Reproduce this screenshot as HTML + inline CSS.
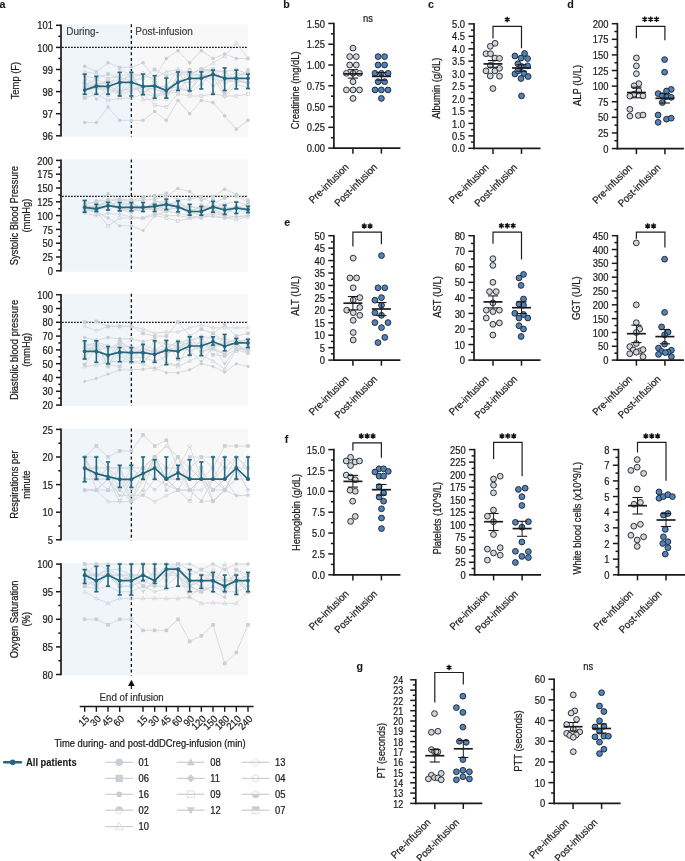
<!DOCTYPE html>
<html><head><meta charset="utf-8"><style>
html,body{margin:0;padding:0;background:#fff;}
svg{display:block;will-change:transform;}
text{font-family:"Liberation Sans", sans-serif;}
</style></head><body>
<svg width="685" height="861" viewBox="0 0 685 861" font-family="Liberation Sans, sans-serif">
<rect width="685" height="861" fill="#fff"/>
<rect x="62.0" y="24.30" width="69.36" height="112.50" fill="#f0f5fa"/>
<rect x="131.36" y="24.30" width="116.54" height="112.50" fill="#f8f8f8"/>
<line x1="62.00" y1="47.40" x2="247.90" y2="47.40" stroke="#1a1a1a" stroke-width="1.2" stroke-dasharray="1.8 1.2"/>
<line x1="131.36" y1="24.30" x2="131.36" y2="136.80" stroke="#111" stroke-width="1.3" stroke-dasharray="3 2.6"/>
<polyline points="84.7,122.5 96.4,122.5 108.0,107.1 119.7,120.3 131.4,120.3 143.0,120.3 154.7,111.5 166.3,120.3 178.0,100.4 189.7,113.7 201.3,100.4 213.0,102.7 224.7,115.9 236.3,129.2 248.0,120.3" fill="none" stroke="#cfd4d9" stroke-width="0.8"/>
<circle cx="84.70" cy="122.54" r="1.8" fill="#c9cfd5"/>
<circle cx="96.36" cy="122.54" r="1.8" fill="#c9cfd5"/>
<circle cx="108.03" cy="107.07" r="1.8" fill="#c9cfd5"/>
<circle cx="119.69" cy="120.33" r="1.8" fill="#c9cfd5"/>
<circle cx="131.36" cy="120.33" r="1.8" fill="#c9cfd5"/>
<circle cx="143.02" cy="120.33" r="1.8" fill="#c9cfd5"/>
<circle cx="154.68" cy="111.49" r="1.8" fill="#c9cfd5"/>
<circle cx="166.35" cy="120.33" r="1.8" fill="#c9cfd5"/>
<circle cx="178.01" cy="100.44" r="1.8" fill="#c9cfd5"/>
<circle cx="189.68" cy="113.70" r="1.8" fill="#c9cfd5"/>
<circle cx="201.34" cy="100.44" r="1.8" fill="#c9cfd5"/>
<circle cx="213.00" cy="102.65" r="1.8" fill="#c9cfd5"/>
<circle cx="224.67" cy="115.91" r="1.8" fill="#c9cfd5"/>
<circle cx="236.33" cy="129.17" r="1.8" fill="#c9cfd5"/>
<circle cx="248.00" cy="120.33" r="1.8" fill="#c9cfd5"/>
<polyline points="84.7,66.2 96.4,71.7 108.0,62.9 119.7,67.3 131.4,67.3 143.0,62.9 154.7,78.3 166.3,58.5 178.0,50.7 189.7,62.9 201.3,50.7 213.0,58.5 224.7,54.0 236.3,58.5 248.0,58.5" fill="none" stroke="#cfd4d9" stroke-width="0.8"/>
<circle cx="84.70" cy="66.18" r="1.8" fill="#c9cfd5"/>
<circle cx="96.36" cy="71.71" r="1.8" fill="#c9cfd5"/>
<circle cx="108.03" cy="62.87" r="1.8" fill="#c9cfd5"/>
<circle cx="119.69" cy="67.29" r="1.8" fill="#c9cfd5"/>
<circle cx="131.36" cy="67.29" r="1.8" fill="#c9cfd5"/>
<circle cx="143.02" cy="62.87" r="1.8" fill="#c9cfd5"/>
<circle cx="154.68" cy="78.34" r="1.8" fill="#c9cfd5"/>
<circle cx="166.35" cy="58.45" r="1.8" fill="#c9cfd5"/>
<circle cx="178.01" cy="50.72" r="1.8" fill="#c9cfd5"/>
<circle cx="189.68" cy="62.87" r="1.8" fill="#c9cfd5"/>
<circle cx="201.34" cy="50.72" r="1.8" fill="#c9cfd5"/>
<circle cx="213.00" cy="58.45" r="1.8" fill="#c9cfd5"/>
<circle cx="224.67" cy="54.03" r="1.8" fill="#c9cfd5"/>
<circle cx="236.33" cy="58.45" r="1.8" fill="#c9cfd5"/>
<circle cx="248.00" cy="58.45" r="1.8" fill="#c9cfd5"/>
<polyline points="84.7,71.7 96.4,73.9 108.0,78.3 119.7,76.1 131.4,73.9 143.0,76.1 154.7,78.3 166.3,71.7 178.0,69.5 189.7,73.9 201.3,69.5 213.0,62.9 224.7,56.2 236.3,43.0 248.0,58.5" fill="none" stroke="#cfd4d9" stroke-width="0.8"/>
<path d="M84.70 69.73L86.68 73.15L82.72 73.15Z" fill="none" stroke="#c9cfd5" stroke-width="0.6"/>
<path d="M96.36 71.94L98.34 75.36L94.38 75.36Z" fill="none" stroke="#c9cfd5" stroke-width="0.6"/>
<path d="M108.03 76.36L110.01 79.78L106.05 79.78Z" fill="none" stroke="#c9cfd5" stroke-width="0.6"/>
<path d="M119.69 74.15L121.67 77.57L117.71 77.57Z" fill="none" stroke="#c9cfd5" stroke-width="0.6"/>
<path d="M131.36 71.94L133.34 75.36L129.38 75.36Z" fill="none" stroke="#c9cfd5" stroke-width="0.6"/>
<path d="M143.02 74.15L145.00 77.57L141.04 77.57Z" fill="none" stroke="#c9cfd5" stroke-width="0.6"/>
<path d="M154.68 76.36L156.66 79.78L152.70 79.78Z" fill="none" stroke="#c9cfd5" stroke-width="0.6"/>
<path d="M166.35 69.73L168.33 73.15L164.37 73.15Z" fill="none" stroke="#c9cfd5" stroke-width="0.6"/>
<path d="M178.01 67.52L179.99 70.94L176.03 70.94Z" fill="none" stroke="#c9cfd5" stroke-width="0.6"/>
<path d="M189.68 71.94L191.66 75.36L187.70 75.36Z" fill="none" stroke="#c9cfd5" stroke-width="0.6"/>
<path d="M201.34 67.52L203.32 70.94L199.36 70.94Z" fill="none" stroke="#c9cfd5" stroke-width="0.6"/>
<path d="M213.00 60.89L214.98 64.31L211.02 64.31Z" fill="none" stroke="#c9cfd5" stroke-width="0.6"/>
<path d="M224.67 54.26L226.65 57.68L222.69 57.68Z" fill="none" stroke="#c9cfd5" stroke-width="0.6"/>
<path d="M236.33 41.00L238.31 44.42L234.35 44.42Z" fill="none" stroke="#c9cfd5" stroke-width="0.6"/>
<path d="M248.00 56.47L249.98 59.89L246.02 59.89Z" fill="none" stroke="#c9cfd5" stroke-width="0.6"/>
<polyline points="84.7,76.1 96.4,78.3 108.0,73.9 119.7,78.3 131.4,80.6 143.0,78.3 154.7,69.5 166.3,76.1 178.0,71.7 189.7,73.9 201.3,69.5 213.0,71.7 224.7,71.7 236.3,69.5 248.0,73.9" fill="none" stroke="#cfd4d9" stroke-width="0.8"/>
<rect x="82.90" y="74.33" width="3.60" height="3.60" fill="#c9cfd5"/>
<rect x="94.56" y="76.54" width="3.60" height="3.60" fill="#c9cfd5"/>
<rect x="106.23" y="72.12" width="3.60" height="3.60" fill="#c9cfd5"/>
<rect x="117.89" y="76.54" width="3.60" height="3.60" fill="#c9cfd5"/>
<rect x="129.56" y="78.75" width="3.60" height="3.60" fill="#c9cfd5"/>
<rect x="141.22" y="76.54" width="3.60" height="3.60" fill="#c9cfd5"/>
<rect x="152.88" y="67.70" width="3.60" height="3.60" fill="#c9cfd5"/>
<rect x="164.55" y="74.33" width="3.60" height="3.60" fill="#c9cfd5"/>
<rect x="176.21" y="69.91" width="3.60" height="3.60" fill="#c9cfd5"/>
<rect x="187.88" y="72.12" width="3.60" height="3.60" fill="#c9cfd5"/>
<rect x="199.54" y="67.70" width="3.60" height="3.60" fill="#c9cfd5"/>
<rect x="211.20" y="69.91" width="3.60" height="3.60" fill="#c9cfd5"/>
<rect x="222.87" y="69.91" width="3.60" height="3.60" fill="#c9cfd5"/>
<rect x="234.53" y="67.70" width="3.60" height="3.60" fill="#c9cfd5"/>
<rect x="246.20" y="72.12" width="3.60" height="3.60" fill="#c9cfd5"/>
<polyline points="84.7,98.2 96.4,93.8 108.0,100.4 119.7,98.2 131.4,98.2 143.0,93.8 154.7,104.9 166.3,107.1 178.0,93.8 189.7,96.0 201.3,96.0 213.0,93.8 224.7,96.0 236.3,96.0 248.0,93.8" fill="none" stroke="#cfd4d9" stroke-width="0.8"/>
<rect x="83.20" y="96.73" width="3.00" height="3.00" fill="none" stroke="#c9cfd5" stroke-width="0.6"/>
<rect x="94.86" y="92.31" width="3.00" height="3.00" fill="none" stroke="#c9cfd5" stroke-width="0.6"/>
<rect x="106.53" y="98.94" width="3.00" height="3.00" fill="none" stroke="#c9cfd5" stroke-width="0.6"/>
<rect x="118.19" y="96.73" width="3.00" height="3.00" fill="none" stroke="#c9cfd5" stroke-width="0.6"/>
<rect x="129.86" y="96.73" width="3.00" height="3.00" fill="none" stroke="#c9cfd5" stroke-width="0.6"/>
<rect x="141.52" y="92.31" width="3.00" height="3.00" fill="none" stroke="#c9cfd5" stroke-width="0.6"/>
<rect x="153.18" y="103.36" width="3.00" height="3.00" fill="none" stroke="#c9cfd5" stroke-width="0.6"/>
<rect x="164.85" y="105.57" width="3.00" height="3.00" fill="none" stroke="#c9cfd5" stroke-width="0.6"/>
<rect x="176.51" y="92.31" width="3.00" height="3.00" fill="none" stroke="#c9cfd5" stroke-width="0.6"/>
<rect x="188.18" y="94.52" width="3.00" height="3.00" fill="none" stroke="#c9cfd5" stroke-width="0.6"/>
<rect x="199.84" y="94.52" width="3.00" height="3.00" fill="none" stroke="#c9cfd5" stroke-width="0.6"/>
<rect x="211.50" y="92.31" width="3.00" height="3.00" fill="none" stroke="#c9cfd5" stroke-width="0.6"/>
<rect x="223.17" y="94.52" width="3.00" height="3.00" fill="none" stroke="#c9cfd5" stroke-width="0.6"/>
<rect x="234.83" y="94.52" width="3.00" height="3.00" fill="none" stroke="#c9cfd5" stroke-width="0.6"/>
<rect x="246.50" y="92.31" width="3.00" height="3.00" fill="none" stroke="#c9cfd5" stroke-width="0.6"/>
<polyline points="84.7,85.2 96.4,79.7 108.0,85.0 119.7,93.6 131.4,83.2 143.0,94.0 154.7,83.1 166.3,99.1 178.0,75.3 189.7,74.5 201.3,69.5 213.0,69.5 224.7,72.1 236.3,80.5 248.0,82.9" fill="none" stroke="#cfd4d9" stroke-width="0.8"/>
<rect x="83.20" y="83.66" width="3.00" height="3.00" fill="none" stroke="#c9cfd5" stroke-width="0.6"/>
<rect x="82.90" y="83.36" width="3.60" height="1.80" fill="#c9cfd5"/>
<rect x="94.86" y="78.21" width="3.00" height="3.00" fill="none" stroke="#c9cfd5" stroke-width="0.6"/>
<rect x="94.56" y="77.91" width="3.60" height="1.80" fill="#c9cfd5"/>
<rect x="106.53" y="83.53" width="3.00" height="3.00" fill="none" stroke="#c9cfd5" stroke-width="0.6"/>
<rect x="106.23" y="83.23" width="3.60" height="1.80" fill="#c9cfd5"/>
<rect x="118.19" y="92.12" width="3.00" height="3.00" fill="none" stroke="#c9cfd5" stroke-width="0.6"/>
<rect x="117.89" y="91.82" width="3.60" height="1.80" fill="#c9cfd5"/>
<rect x="129.86" y="81.70" width="3.00" height="3.00" fill="none" stroke="#c9cfd5" stroke-width="0.6"/>
<rect x="129.56" y="81.40" width="3.60" height="1.80" fill="#c9cfd5"/>
<rect x="141.52" y="92.52" width="3.00" height="3.00" fill="none" stroke="#c9cfd5" stroke-width="0.6"/>
<rect x="141.22" y="92.22" width="3.60" height="1.80" fill="#c9cfd5"/>
<rect x="153.18" y="81.57" width="3.00" height="3.00" fill="none" stroke="#c9cfd5" stroke-width="0.6"/>
<rect x="152.88" y="81.27" width="3.60" height="1.80" fill="#c9cfd5"/>
<rect x="164.85" y="97.55" width="3.00" height="3.00" fill="none" stroke="#c9cfd5" stroke-width="0.6"/>
<rect x="164.55" y="97.25" width="3.60" height="1.80" fill="#c9cfd5"/>
<rect x="176.51" y="73.77" width="3.00" height="3.00" fill="none" stroke="#c9cfd5" stroke-width="0.6"/>
<rect x="176.21" y="73.47" width="3.60" height="1.80" fill="#c9cfd5"/>
<rect x="188.18" y="72.96" width="3.00" height="3.00" fill="none" stroke="#c9cfd5" stroke-width="0.6"/>
<rect x="187.88" y="72.66" width="3.60" height="1.80" fill="#c9cfd5"/>
<rect x="199.84" y="68.00" width="3.00" height="3.00" fill="none" stroke="#c9cfd5" stroke-width="0.6"/>
<rect x="199.54" y="67.70" width="3.60" height="1.80" fill="#c9cfd5"/>
<rect x="211.50" y="68.00" width="3.00" height="3.00" fill="none" stroke="#c9cfd5" stroke-width="0.6"/>
<rect x="211.20" y="67.70" width="3.60" height="1.80" fill="#c9cfd5"/>
<rect x="223.17" y="70.61" width="3.00" height="3.00" fill="none" stroke="#c9cfd5" stroke-width="0.6"/>
<rect x="222.87" y="70.31" width="3.60" height="1.80" fill="#c9cfd5"/>
<rect x="234.83" y="78.99" width="3.00" height="3.00" fill="none" stroke="#c9cfd5" stroke-width="0.6"/>
<rect x="234.53" y="78.69" width="3.60" height="1.80" fill="#c9cfd5"/>
<rect x="246.50" y="81.39" width="3.00" height="3.00" fill="none" stroke="#c9cfd5" stroke-width="0.6"/>
<rect x="246.20" y="81.09" width="3.60" height="1.80" fill="#c9cfd5"/>
<polyline points="84.7,78.4 96.4,84.8 108.0,82.1 119.7,79.8 131.4,76.1 143.0,99.4 154.7,99.2 166.3,86.1 178.0,69.5 189.7,93.1 201.3,83.7 213.0,72.6 224.7,82.3 236.3,80.6 248.0,81.4" fill="none" stroke="#cfd4d9" stroke-width="0.8"/>
<path d="M84.70 76.46L86.68 79.88L82.72 79.88Z" fill="none" stroke="#c9cfd5" stroke-width="0.6"/>
<path d="M96.36 82.79L98.34 86.21L94.38 86.21Z" fill="none" stroke="#c9cfd5" stroke-width="0.6"/>
<path d="M108.03 80.15L110.01 83.57L106.05 83.57Z" fill="none" stroke="#c9cfd5" stroke-width="0.6"/>
<path d="M119.69 77.80L121.67 81.22L117.71 81.22Z" fill="none" stroke="#c9cfd5" stroke-width="0.6"/>
<path d="M131.36 74.10L133.34 77.52L129.38 77.52Z" fill="none" stroke="#c9cfd5" stroke-width="0.6"/>
<path d="M143.02 97.46L145.00 100.88L141.04 100.88Z" fill="none" stroke="#c9cfd5" stroke-width="0.6"/>
<path d="M154.68 97.24L156.66 100.66L152.70 100.66Z" fill="none" stroke="#c9cfd5" stroke-width="0.6"/>
<path d="M166.35 84.07L168.33 87.49L164.37 87.49Z" fill="none" stroke="#c9cfd5" stroke-width="0.6"/>
<path d="M178.01 67.52L179.99 70.94L176.03 70.94Z" fill="none" stroke="#c9cfd5" stroke-width="0.6"/>
<path d="M189.68 91.11L191.66 94.53L187.70 94.53Z" fill="none" stroke="#c9cfd5" stroke-width="0.6"/>
<path d="M201.34 81.71L203.32 85.13L199.36 85.13Z" fill="none" stroke="#c9cfd5" stroke-width="0.6"/>
<path d="M213.00 70.59L214.98 74.01L211.02 74.01Z" fill="none" stroke="#c9cfd5" stroke-width="0.6"/>
<path d="M224.67 80.28L226.65 83.70L222.69 83.70Z" fill="none" stroke="#c9cfd5" stroke-width="0.6"/>
<path d="M236.33 78.59L238.31 82.01L234.35 82.01Z" fill="none" stroke="#c9cfd5" stroke-width="0.6"/>
<path d="M248.00 79.38L249.98 82.80L246.02 82.80Z" fill="none" stroke="#c9cfd5" stroke-width="0.6"/>
<polyline points="84.7,82.7 96.4,85.8 108.0,85.1 119.7,91.6 131.4,77.4 143.0,73.2 154.7,81.3 166.3,93.3 178.0,92.2 189.7,75.0 201.3,75.2 213.0,76.5 224.7,96.4 236.3,84.7 248.0,87.3" fill="none" stroke="#cfd4d9" stroke-width="0.8"/>
<path d="M84.70 80.58L86.86 82.74L84.70 84.90L82.54 82.74Z" fill="none" stroke="#c9cfd5" stroke-width="0.6"/>
<path d="M96.36 83.66L98.52 85.82L96.36 87.98L94.20 85.82Z" fill="none" stroke="#c9cfd5" stroke-width="0.6"/>
<path d="M108.03 82.97L110.19 85.13L108.03 87.29L105.87 85.13Z" fill="none" stroke="#c9cfd5" stroke-width="0.6"/>
<path d="M119.69 89.48L121.85 91.64L119.69 93.80L117.53 91.64Z" fill="none" stroke="#c9cfd5" stroke-width="0.6"/>
<path d="M131.36 75.22L133.52 77.38L131.36 79.54L129.20 77.38Z" fill="none" stroke="#c9cfd5" stroke-width="0.6"/>
<path d="M143.02 71.04L145.18 73.20L143.02 75.36L140.86 73.20Z" fill="none" stroke="#c9cfd5" stroke-width="0.6"/>
<path d="M154.68 79.10L156.84 81.26L154.68 83.42L152.52 81.26Z" fill="none" stroke="#c9cfd5" stroke-width="0.6"/>
<path d="M166.35 91.10L168.51 93.26L166.35 95.42L164.19 93.26Z" fill="none" stroke="#c9cfd5" stroke-width="0.6"/>
<path d="M178.01 90.01L180.17 92.17L178.01 94.33L175.85 92.17Z" fill="none" stroke="#c9cfd5" stroke-width="0.6"/>
<path d="M189.68 72.86L191.84 75.02L189.68 77.18L187.52 75.02Z" fill="none" stroke="#c9cfd5" stroke-width="0.6"/>
<path d="M201.34 73.08L203.50 75.24L201.34 77.40L199.18 75.24Z" fill="none" stroke="#c9cfd5" stroke-width="0.6"/>
<path d="M213.00 74.39L215.16 76.55L213.00 78.71L210.84 76.55Z" fill="none" stroke="#c9cfd5" stroke-width="0.6"/>
<path d="M224.67 94.27L226.83 96.43L224.67 98.59L222.51 96.43Z" fill="none" stroke="#c9cfd5" stroke-width="0.6"/>
<path d="M236.33 82.56L238.49 84.72L236.33 86.88L234.17 84.72Z" fill="none" stroke="#c9cfd5" stroke-width="0.6"/>
<path d="M248.00 85.15L250.16 87.31L248.00 89.47L245.84 87.31Z" fill="none" stroke="#c9cfd5" stroke-width="0.6"/>
<polyline points="84.7,97.4 96.4,84.7 108.0,95.1 119.7,84.7 131.4,72.9 143.0,92.9 154.7,87.0 166.3,86.3 178.0,87.8 189.7,90.6 201.3,77.1 213.0,69.5 224.7,92.5 236.3,81.6 248.0,82.9" fill="none" stroke="#cfd4d9" stroke-width="0.8"/>
<rect x="82.90" y="95.59" width="3.60" height="3.60" fill="#c9cfd5"/>
<rect x="94.56" y="82.92" width="3.60" height="3.60" fill="#c9cfd5"/>
<rect x="106.23" y="93.29" width="3.60" height="3.60" fill="#c9cfd5"/>
<rect x="117.89" y="82.93" width="3.60" height="3.60" fill="#c9cfd5"/>
<rect x="129.56" y="71.08" width="3.60" height="3.60" fill="#c9cfd5"/>
<rect x="141.22" y="91.08" width="3.60" height="3.60" fill="#c9cfd5"/>
<rect x="152.88" y="85.23" width="3.60" height="3.60" fill="#c9cfd5"/>
<rect x="164.55" y="84.48" width="3.60" height="3.60" fill="#c9cfd5"/>
<rect x="176.21" y="86.01" width="3.60" height="3.60" fill="#c9cfd5"/>
<rect x="187.88" y="88.82" width="3.60" height="3.60" fill="#c9cfd5"/>
<rect x="199.54" y="75.27" width="3.60" height="3.60" fill="#c9cfd5"/>
<rect x="211.20" y="67.70" width="3.60" height="3.60" fill="#c9cfd5"/>
<rect x="222.87" y="90.66" width="3.60" height="3.60" fill="#c9cfd5"/>
<rect x="234.53" y="79.77" width="3.60" height="3.60" fill="#c9cfd5"/>
<rect x="246.20" y="81.07" width="3.60" height="3.60" fill="#c9cfd5"/>
<polyline points="84.7,80.9 96.4,99.2 108.0,89.3 119.7,94.5 131.4,90.8 143.0,87.0 154.7,89.4 166.3,92.5 178.0,88.8 189.7,91.3 201.3,72.1 213.0,69.5 224.7,79.3 236.3,81.9 248.0,69.5" fill="none" stroke="#cfd4d9" stroke-width="0.8"/>
<path d="M84.70 78.90L86.68 80.88L84.70 82.86L82.72 80.88Z" fill="#c9cfd5"/>
<path d="M96.36 97.18L98.34 99.16L96.36 101.14L94.38 99.16Z" fill="#c9cfd5"/>
<path d="M108.03 87.27L110.01 89.25L108.03 91.23L106.05 89.25Z" fill="#c9cfd5"/>
<path d="M119.69 92.48L121.67 94.46L119.69 96.44L117.71 94.46Z" fill="#c9cfd5"/>
<path d="M131.36 88.81L133.34 90.79L131.36 92.77L129.38 90.79Z" fill="#c9cfd5"/>
<path d="M143.02 85.04L145.00 87.02L143.02 89.00L141.04 87.02Z" fill="#c9cfd5"/>
<path d="M154.68 87.45L156.66 89.43L154.68 91.41L152.70 89.43Z" fill="#c9cfd5"/>
<path d="M166.35 90.56L168.33 92.54L166.35 94.52L164.37 92.54Z" fill="#c9cfd5"/>
<path d="M178.01 86.84L179.99 88.82L178.01 90.80L176.03 88.82Z" fill="#c9cfd5"/>
<path d="M189.68 89.32L191.66 91.30L189.68 93.28L187.70 91.30Z" fill="#c9cfd5"/>
<path d="M201.34 70.12L203.32 72.10L201.34 74.08L199.36 72.10Z" fill="#c9cfd5"/>
<path d="M213.00 67.52L214.98 69.50L213.00 71.48L211.02 69.50Z" fill="#c9cfd5"/>
<path d="M224.67 77.37L226.65 79.35L224.67 81.33L222.69 79.35Z" fill="#c9cfd5"/>
<path d="M236.33 79.92L238.31 81.90L236.33 83.88L234.35 81.90Z" fill="#c9cfd5"/>
<path d="M248.00 67.52L249.98 69.50L248.00 71.48L246.02 69.50Z" fill="#c9cfd5"/>
<polyline points="84.7,87.0 96.4,84.9 108.0,80.4 119.7,90.0 131.4,89.6 143.0,86.4 154.7,95.3 166.3,91.1 178.0,81.3 189.7,74.7 201.3,75.2 213.0,85.9 224.7,80.2 236.3,76.5 248.0,71.3" fill="none" stroke="#cfd4d9" stroke-width="0.8"/>
<circle cx="84.70" cy="86.98" r="1.50" fill="none" stroke="#c9cfd5" stroke-width="0.6"/>
<path d="M82.90 86.98A1.8 1.8 0 0 0 86.50 86.98Z" fill="#c9cfd5"/>
<circle cx="96.36" cy="84.87" r="1.50" fill="none" stroke="#c9cfd5" stroke-width="0.6"/>
<path d="M94.56 84.87A1.8 1.8 0 0 0 98.16 84.87Z" fill="#c9cfd5"/>
<circle cx="108.03" cy="80.35" r="1.50" fill="none" stroke="#c9cfd5" stroke-width="0.6"/>
<path d="M106.23 80.35A1.8 1.8 0 0 0 109.83 80.35Z" fill="#c9cfd5"/>
<circle cx="119.69" cy="89.98" r="1.50" fill="none" stroke="#c9cfd5" stroke-width="0.6"/>
<path d="M117.89 89.98A1.8 1.8 0 0 0 121.49 89.98Z" fill="#c9cfd5"/>
<circle cx="131.36" cy="89.62" r="1.50" fill="none" stroke="#c9cfd5" stroke-width="0.6"/>
<path d="M129.56 89.62A1.8 1.8 0 0 0 133.16 89.62Z" fill="#c9cfd5"/>
<circle cx="143.02" cy="86.37" r="1.50" fill="none" stroke="#c9cfd5" stroke-width="0.6"/>
<path d="M141.22 86.37A1.8 1.8 0 0 0 144.82 86.37Z" fill="#c9cfd5"/>
<circle cx="154.68" cy="95.31" r="1.50" fill="none" stroke="#c9cfd5" stroke-width="0.6"/>
<path d="M152.88 95.31A1.8 1.8 0 0 0 156.48 95.31Z" fill="#c9cfd5"/>
<circle cx="166.35" cy="91.08" r="1.50" fill="none" stroke="#c9cfd5" stroke-width="0.6"/>
<path d="M164.55 91.08A1.8 1.8 0 0 0 168.15 91.08Z" fill="#c9cfd5"/>
<circle cx="178.01" cy="81.32" r="1.50" fill="none" stroke="#c9cfd5" stroke-width="0.6"/>
<path d="M176.21 81.32A1.8 1.8 0 0 0 179.81 81.32Z" fill="#c9cfd5"/>
<circle cx="189.68" cy="74.74" r="1.50" fill="none" stroke="#c9cfd5" stroke-width="0.6"/>
<path d="M187.88 74.74A1.8 1.8 0 0 0 191.48 74.74Z" fill="#c9cfd5"/>
<circle cx="201.34" cy="75.21" r="1.50" fill="none" stroke="#c9cfd5" stroke-width="0.6"/>
<path d="M199.54 75.21A1.8 1.8 0 0 0 203.14 75.21Z" fill="#c9cfd5"/>
<circle cx="213.00" cy="85.85" r="1.50" fill="none" stroke="#c9cfd5" stroke-width="0.6"/>
<path d="M211.20 85.85A1.8 1.8 0 0 0 214.80 85.85Z" fill="#c9cfd5"/>
<circle cx="224.67" cy="80.18" r="1.50" fill="none" stroke="#c9cfd5" stroke-width="0.6"/>
<path d="M222.87 80.18A1.8 1.8 0 0 0 226.47 80.18Z" fill="#c9cfd5"/>
<circle cx="236.33" cy="76.50" r="1.50" fill="none" stroke="#c9cfd5" stroke-width="0.6"/>
<path d="M234.53 76.50A1.8 1.8 0 0 0 238.13 76.50Z" fill="#c9cfd5"/>
<circle cx="248.00" cy="71.33" r="1.50" fill="none" stroke="#c9cfd5" stroke-width="0.6"/>
<path d="M246.20 71.33A1.8 1.8 0 0 0 249.80 71.33Z" fill="#c9cfd5"/>
<polyline points="84.7,83.3 96.4,88.9 108.0,88.8 119.7,92.2 131.4,86.8 143.0,93.3 154.7,96.7 166.3,93.7 178.0,75.4 189.7,69.5 201.3,76.8 213.0,76.0 224.7,76.6 236.3,73.1 248.0,75.0" fill="none" stroke="#cfd4d9" stroke-width="0.8"/>
<circle cx="84.70" cy="83.26" r="1.50" fill="none" stroke="#c9cfd5" stroke-width="0.6"/>
<path d="M82.90 83.26A1.8 1.8 0 0 1 86.50 83.26Z" fill="#c9cfd5"/>
<circle cx="96.36" cy="88.95" r="1.50" fill="none" stroke="#c9cfd5" stroke-width="0.6"/>
<path d="M94.56 88.95A1.8 1.8 0 0 1 98.16 88.95Z" fill="#c9cfd5"/>
<circle cx="108.03" cy="88.84" r="1.50" fill="none" stroke="#c9cfd5" stroke-width="0.6"/>
<path d="M106.23 88.84A1.8 1.8 0 0 1 109.83 88.84Z" fill="#c9cfd5"/>
<circle cx="119.69" cy="92.17" r="1.50" fill="none" stroke="#c9cfd5" stroke-width="0.6"/>
<path d="M117.89 92.17A1.8 1.8 0 0 1 121.49 92.17Z" fill="#c9cfd5"/>
<circle cx="131.36" cy="86.78" r="1.50" fill="none" stroke="#c9cfd5" stroke-width="0.6"/>
<path d="M129.56 86.78A1.8 1.8 0 0 1 133.16 86.78Z" fill="#c9cfd5"/>
<circle cx="143.02" cy="93.30" r="1.50" fill="none" stroke="#c9cfd5" stroke-width="0.6"/>
<path d="M141.22 93.30A1.8 1.8 0 0 1 144.82 93.30Z" fill="#c9cfd5"/>
<circle cx="154.68" cy="96.73" r="1.50" fill="none" stroke="#c9cfd5" stroke-width="0.6"/>
<path d="M152.88 96.73A1.8 1.8 0 0 1 156.48 96.73Z" fill="#c9cfd5"/>
<circle cx="166.35" cy="93.66" r="1.50" fill="none" stroke="#c9cfd5" stroke-width="0.6"/>
<path d="M164.55 93.66A1.8 1.8 0 0 1 168.15 93.66Z" fill="#c9cfd5"/>
<circle cx="178.01" cy="75.40" r="1.50" fill="none" stroke="#c9cfd5" stroke-width="0.6"/>
<path d="M176.21 75.40A1.8 1.8 0 0 1 179.81 75.40Z" fill="#c9cfd5"/>
<circle cx="189.68" cy="69.50" r="1.50" fill="none" stroke="#c9cfd5" stroke-width="0.6"/>
<path d="M187.88 69.50A1.8 1.8 0 0 1 191.48 69.50Z" fill="#c9cfd5"/>
<circle cx="201.34" cy="76.76" r="1.50" fill="none" stroke="#c9cfd5" stroke-width="0.6"/>
<path d="M199.54 76.76A1.8 1.8 0 0 1 203.14 76.76Z" fill="#c9cfd5"/>
<circle cx="213.00" cy="75.99" r="1.50" fill="none" stroke="#c9cfd5" stroke-width="0.6"/>
<path d="M211.20 75.99A1.8 1.8 0 0 1 214.80 75.99Z" fill="#c9cfd5"/>
<circle cx="224.67" cy="76.57" r="1.50" fill="none" stroke="#c9cfd5" stroke-width="0.6"/>
<path d="M222.87 76.57A1.8 1.8 0 0 1 226.47 76.57Z" fill="#c9cfd5"/>
<circle cx="236.33" cy="73.11" r="1.50" fill="none" stroke="#c9cfd5" stroke-width="0.6"/>
<path d="M234.53 73.11A1.8 1.8 0 0 1 238.13 73.11Z" fill="#c9cfd5"/>
<circle cx="248.00" cy="75.02" r="1.50" fill="none" stroke="#c9cfd5" stroke-width="0.6"/>
<path d="M246.20 75.02A1.8 1.8 0 0 1 249.80 75.02Z" fill="#c9cfd5"/>
<polyline points="84.7,87.8 96.4,88.4 108.0,89.4 119.7,69.5 131.4,75.1 143.0,93.7 154.7,80.6 166.3,97.1 178.0,81.2 189.7,82.9 201.3,77.0 213.0,79.2 224.7,81.0 236.3,75.3 248.0,74.4" fill="none" stroke="#cfd4d9" stroke-width="0.8"/>
<path d="M84.70 89.80L86.68 86.38L82.72 86.38Z" fill="#c9cfd5"/>
<path d="M96.36 90.41L98.34 86.99L94.38 86.99Z" fill="#c9cfd5"/>
<path d="M108.03 91.40L110.01 87.98L106.05 87.98Z" fill="#c9cfd5"/>
<path d="M119.69 71.48L121.67 68.06L117.71 68.06Z" fill="#c9cfd5"/>
<path d="M131.36 77.12L133.34 73.70L129.38 73.70Z" fill="#c9cfd5"/>
<path d="M143.02 95.70L145.00 92.28L141.04 92.28Z" fill="#c9cfd5"/>
<path d="M154.68 82.58L156.66 79.16L152.70 79.16Z" fill="#c9cfd5"/>
<path d="M166.35 99.08L168.33 95.66L164.37 95.66Z" fill="#c9cfd5"/>
<path d="M178.01 83.21L179.99 79.79L176.03 79.79Z" fill="#c9cfd5"/>
<path d="M189.68 84.92L191.66 81.50L187.70 81.50Z" fill="#c9cfd5"/>
<path d="M201.34 78.96L203.32 75.54L199.36 75.54Z" fill="#c9cfd5"/>
<path d="M213.00 81.21L214.98 77.79L211.02 77.79Z" fill="#c9cfd5"/>
<path d="M224.67 82.98L226.65 79.56L222.69 79.56Z" fill="#c9cfd5"/>
<path d="M236.33 77.27L238.31 73.85L234.35 73.85Z" fill="#c9cfd5"/>
<path d="M248.00 76.37L249.98 72.95L246.02 72.95Z" fill="#c9cfd5"/>
<line x1="84.70" y1="74.14" x2="84.70" y2="94.25" stroke="#22677f" stroke-width="1.6"/>
<line x1="82.60" y1="74.14" x2="86.80" y2="74.14" stroke="#22677f" stroke-width="1.6"/>
<line x1="82.60" y1="94.25" x2="86.80" y2="94.25" stroke="#22677f" stroke-width="1.6"/>
<line x1="96.36" y1="76.35" x2="96.36" y2="94.25" stroke="#22677f" stroke-width="1.6"/>
<line x1="94.26" y1="76.35" x2="98.46" y2="76.35" stroke="#22677f" stroke-width="1.6"/>
<line x1="94.26" y1="94.25" x2="98.46" y2="94.25" stroke="#22677f" stroke-width="1.6"/>
<line x1="108.03" y1="82.32" x2="108.03" y2="94.25" stroke="#22677f" stroke-width="1.6"/>
<line x1="105.93" y1="82.32" x2="110.13" y2="82.32" stroke="#22677f" stroke-width="1.6"/>
<line x1="105.93" y1="94.25" x2="110.13" y2="94.25" stroke="#22677f" stroke-width="1.6"/>
<line x1="119.69" y1="72.37" x2="119.69" y2="96.02" stroke="#22677f" stroke-width="1.6"/>
<line x1="117.59" y1="72.37" x2="121.79" y2="72.37" stroke="#22677f" stroke-width="1.6"/>
<line x1="117.59" y1="96.02" x2="121.79" y2="96.02" stroke="#22677f" stroke-width="1.6"/>
<line x1="131.36" y1="72.37" x2="131.36" y2="96.02" stroke="#22677f" stroke-width="1.6"/>
<line x1="129.26" y1="72.37" x2="133.46" y2="72.37" stroke="#22677f" stroke-width="1.6"/>
<line x1="129.26" y1="96.02" x2="133.46" y2="96.02" stroke="#22677f" stroke-width="1.6"/>
<line x1="143.02" y1="74.14" x2="143.02" y2="94.69" stroke="#22677f" stroke-width="1.6"/>
<line x1="140.92" y1="74.14" x2="145.12" y2="74.14" stroke="#22677f" stroke-width="1.6"/>
<line x1="140.92" y1="94.69" x2="145.12" y2="94.69" stroke="#22677f" stroke-width="1.6"/>
<line x1="154.68" y1="75.69" x2="154.68" y2="98.23" stroke="#22677f" stroke-width="1.6"/>
<line x1="152.58" y1="75.69" x2="156.78" y2="75.69" stroke="#22677f" stroke-width="1.6"/>
<line x1="152.58" y1="98.23" x2="156.78" y2="98.23" stroke="#22677f" stroke-width="1.6"/>
<line x1="166.35" y1="78.12" x2="166.35" y2="98.23" stroke="#22677f" stroke-width="1.6"/>
<line x1="164.25" y1="78.12" x2="168.45" y2="78.12" stroke="#22677f" stroke-width="1.6"/>
<line x1="164.25" y1="98.23" x2="168.45" y2="98.23" stroke="#22677f" stroke-width="1.6"/>
<line x1="178.01" y1="71.93" x2="178.01" y2="90.50" stroke="#22677f" stroke-width="1.6"/>
<line x1="175.91" y1="71.93" x2="180.11" y2="71.93" stroke="#22677f" stroke-width="1.6"/>
<line x1="175.91" y1="90.50" x2="180.11" y2="90.50" stroke="#22677f" stroke-width="1.6"/>
<line x1="189.68" y1="71.93" x2="189.68" y2="90.94" stroke="#22677f" stroke-width="1.6"/>
<line x1="187.58" y1="71.93" x2="191.78" y2="71.93" stroke="#22677f" stroke-width="1.6"/>
<line x1="187.58" y1="90.94" x2="191.78" y2="90.94" stroke="#22677f" stroke-width="1.6"/>
<line x1="201.34" y1="71.93" x2="201.34" y2="88.95" stroke="#22677f" stroke-width="1.6"/>
<line x1="199.24" y1="71.93" x2="203.44" y2="71.93" stroke="#22677f" stroke-width="1.6"/>
<line x1="199.24" y1="88.95" x2="203.44" y2="88.95" stroke="#22677f" stroke-width="1.6"/>
<line x1="213.00" y1="70.16" x2="213.00" y2="94.25" stroke="#22677f" stroke-width="1.6"/>
<line x1="210.90" y1="70.16" x2="215.10" y2="70.16" stroke="#22677f" stroke-width="1.6"/>
<line x1="210.90" y1="94.25" x2="215.10" y2="94.25" stroke="#22677f" stroke-width="1.6"/>
<line x1="224.67" y1="67.95" x2="224.67" y2="90.50" stroke="#22677f" stroke-width="1.6"/>
<line x1="222.57" y1="67.95" x2="226.77" y2="67.95" stroke="#22677f" stroke-width="1.6"/>
<line x1="222.57" y1="90.50" x2="226.77" y2="90.50" stroke="#22677f" stroke-width="1.6"/>
<line x1="236.33" y1="70.16" x2="236.33" y2="88.95" stroke="#22677f" stroke-width="1.6"/>
<line x1="234.23" y1="70.16" x2="238.43" y2="70.16" stroke="#22677f" stroke-width="1.6"/>
<line x1="234.23" y1="88.95" x2="238.43" y2="88.95" stroke="#22677f" stroke-width="1.6"/>
<line x1="248.00" y1="74.14" x2="248.00" y2="88.51" stroke="#22677f" stroke-width="1.6"/>
<line x1="245.90" y1="74.14" x2="250.10" y2="74.14" stroke="#22677f" stroke-width="1.6"/>
<line x1="245.90" y1="88.51" x2="250.10" y2="88.51" stroke="#22677f" stroke-width="1.6"/>
<polyline points="84.7,90.1 96.4,86.1 108.0,86.5 119.7,82.3 131.4,82.3 143.0,86.3 154.7,85.9 166.3,90.5 178.0,82.3 189.7,78.3 201.3,78.3 213.0,74.4 224.7,78.3 236.3,78.3 248.0,78.3" fill="none" stroke="#22677f" stroke-width="1.7" stroke-linejoin="round"/>
<circle cx="84.70" cy="90.05" r="1.9" fill="#22677f"/>
<circle cx="96.36" cy="86.08" r="1.9" fill="#22677f"/>
<circle cx="108.03" cy="86.52" r="1.9" fill="#22677f"/>
<circle cx="119.69" cy="82.32" r="1.9" fill="#22677f"/>
<circle cx="131.36" cy="82.32" r="1.9" fill="#22677f"/>
<circle cx="143.02" cy="86.30" r="1.9" fill="#22677f"/>
<circle cx="154.68" cy="85.85" r="1.9" fill="#22677f"/>
<circle cx="166.35" cy="90.50" r="1.9" fill="#22677f"/>
<circle cx="178.01" cy="82.32" r="1.9" fill="#22677f"/>
<circle cx="189.68" cy="78.34" r="1.9" fill="#22677f"/>
<circle cx="201.34" cy="78.34" r="1.9" fill="#22677f"/>
<circle cx="213.00" cy="74.36" r="1.9" fill="#22677f"/>
<circle cx="224.67" cy="78.34" r="1.9" fill="#22677f"/>
<circle cx="236.33" cy="78.34" r="1.9" fill="#22677f"/>
<circle cx="248.00" cy="78.34" r="1.9" fill="#22677f"/>
<line x1="61.00" y1="24.50" x2="61.00" y2="136.60" stroke="#1a1a1a" stroke-width="1.7"/>
<line x1="56.00" y1="135.80" x2="61.00" y2="135.80" stroke="#1a1a1a" stroke-width="1.5"/>
<text font-size="10.1" text-anchor="end" fill="#1a1a1a" stroke="#1a1a1a" stroke-width="0.22" transform="translate(52.90 139.90) scale(0.93 1)">96</text>
<line x1="58.30" y1="124.75" x2="61.00" y2="124.75" stroke="#1a1a1a" stroke-width="1.5"/>
<line x1="56.00" y1="113.70" x2="61.00" y2="113.70" stroke="#1a1a1a" stroke-width="1.5"/>
<text font-size="10.1" text-anchor="end" fill="#1a1a1a" stroke="#1a1a1a" stroke-width="0.22" transform="translate(52.90 117.80) scale(0.93 1)">97</text>
<line x1="58.30" y1="102.65" x2="61.00" y2="102.65" stroke="#1a1a1a" stroke-width="1.5"/>
<line x1="56.00" y1="91.60" x2="61.00" y2="91.60" stroke="#1a1a1a" stroke-width="1.5"/>
<text font-size="10.1" text-anchor="end" fill="#1a1a1a" stroke="#1a1a1a" stroke-width="0.22" transform="translate(52.90 95.70) scale(0.93 1)">98</text>
<line x1="58.30" y1="80.55" x2="61.00" y2="80.55" stroke="#1a1a1a" stroke-width="1.5"/>
<line x1="56.00" y1="69.50" x2="61.00" y2="69.50" stroke="#1a1a1a" stroke-width="1.5"/>
<text font-size="10.1" text-anchor="end" fill="#1a1a1a" stroke="#1a1a1a" stroke-width="0.22" transform="translate(52.90 73.60) scale(0.93 1)">99</text>
<line x1="58.30" y1="58.45" x2="61.00" y2="58.45" stroke="#1a1a1a" stroke-width="1.5"/>
<line x1="56.00" y1="47.40" x2="61.00" y2="47.40" stroke="#1a1a1a" stroke-width="1.5"/>
<text font-size="10.1" text-anchor="end" fill="#1a1a1a" stroke="#1a1a1a" stroke-width="0.22" transform="translate(52.90 51.50) scale(0.93 1)">100</text>
<line x1="58.30" y1="36.35" x2="61.00" y2="36.35" stroke="#1a1a1a" stroke-width="1.5"/>
<line x1="56.00" y1="25.30" x2="61.00" y2="25.30" stroke="#1a1a1a" stroke-width="1.5"/>
<text font-size="10.1" text-anchor="end" fill="#1a1a1a" stroke="#1a1a1a" stroke-width="0.22" transform="translate(52.90 29.40) scale(0.93 1)">101</text>
<text font-size="10.1" text-anchor="middle" fill="#1a1a1a" stroke="#1a1a1a" stroke-width="0.22" transform="translate(18.60 80.55) rotate(-90) scale(0.93 1)">Temp (F)</text>
<rect x="62.0" y="159.40" width="69.36" height="112.40" fill="#f0f5fa"/>
<rect x="131.36" y="159.40" width="116.54" height="112.40" fill="#f8f8f8"/>
<line x1="62.00" y1="196.28" x2="247.90" y2="196.28" stroke="#1a1a1a" stroke-width="1.2" stroke-dasharray="1.8 1.2"/>
<line x1="131.36" y1="159.40" x2="131.36" y2="271.80" stroke="#111" stroke-width="1.3" stroke-dasharray="3 2.6"/>
<polyline points="84.7,209.0 96.4,211.2 108.0,226.0 119.7,218.1 131.4,218.1 143.0,218.4 154.7,215.6 166.3,217.8 178.0,221.0 189.7,218.4 201.3,217.8 213.0,215.6 224.7,217.8 236.3,219.5 248.0,216.7" fill="none" stroke="#cfd4d9" stroke-width="0.8"/>
<rect x="83.20" y="207.48" width="3.00" height="3.00" fill="none" stroke="#c9cfd5" stroke-width="0.6"/>
<rect x="94.86" y="209.68" width="3.00" height="3.00" fill="none" stroke="#c9cfd5" stroke-width="0.6"/>
<rect x="106.53" y="224.48" width="3.00" height="3.00" fill="none" stroke="#c9cfd5" stroke-width="0.6"/>
<rect x="118.19" y="216.58" width="3.00" height="3.00" fill="none" stroke="#c9cfd5" stroke-width="0.6"/>
<rect x="129.86" y="216.58" width="3.00" height="3.00" fill="none" stroke="#c9cfd5" stroke-width="0.6"/>
<rect x="141.52" y="216.86" width="3.00" height="3.00" fill="none" stroke="#c9cfd5" stroke-width="0.6"/>
<rect x="153.18" y="214.10" width="3.00" height="3.00" fill="none" stroke="#c9cfd5" stroke-width="0.6"/>
<rect x="164.85" y="216.31" width="3.00" height="3.00" fill="none" stroke="#c9cfd5" stroke-width="0.6"/>
<rect x="176.51" y="219.51" width="3.00" height="3.00" fill="none" stroke="#c9cfd5" stroke-width="0.6"/>
<rect x="188.18" y="216.86" width="3.00" height="3.00" fill="none" stroke="#c9cfd5" stroke-width="0.6"/>
<rect x="199.84" y="216.31" width="3.00" height="3.00" fill="none" stroke="#c9cfd5" stroke-width="0.6"/>
<rect x="211.50" y="214.10" width="3.00" height="3.00" fill="none" stroke="#c9cfd5" stroke-width="0.6"/>
<rect x="223.17" y="216.31" width="3.00" height="3.00" fill="none" stroke="#c9cfd5" stroke-width="0.6"/>
<rect x="234.83" y="217.96" width="3.00" height="3.00" fill="none" stroke="#c9cfd5" stroke-width="0.6"/>
<rect x="246.50" y="215.20" width="3.00" height="3.00" fill="none" stroke="#c9cfd5" stroke-width="0.6"/>
<polyline points="84.7,210.1 96.4,212.3 108.0,217.8 119.7,225.7 131.4,225.7 143.0,230.6 154.7,215.6 166.3,211.2 178.0,213.4 189.7,215.6 201.3,217.8 213.0,213.4 224.7,215.6 236.3,216.7 248.0,215.6" fill="none" stroke="#cfd4d9" stroke-width="0.8"/>
<path d="M84.70 208.10L86.68 210.08L84.70 212.06L82.72 210.08Z" fill="#c9cfd5"/>
<path d="M96.36 210.31L98.34 212.29L96.36 214.27L94.38 212.29Z" fill="#c9cfd5"/>
<path d="M108.03 215.83L110.01 217.81L108.03 219.79L106.05 217.81Z" fill="#c9cfd5"/>
<path d="M119.69 223.72L121.67 225.70L119.69 227.68L117.71 225.70Z" fill="#c9cfd5"/>
<path d="M131.36 223.72L133.34 225.70L131.36 227.68L129.38 225.70Z" fill="#c9cfd5"/>
<path d="M143.02 228.63L145.00 230.61L143.02 232.59L141.04 230.61Z" fill="#c9cfd5"/>
<path d="M154.68 213.62L156.66 215.60L154.68 217.58L152.70 215.60Z" fill="#c9cfd5"/>
<path d="M166.35 209.20L168.33 211.18L166.35 213.16L164.37 211.18Z" fill="#c9cfd5"/>
<path d="M178.01 211.41L179.99 213.39L178.01 215.37L176.03 213.39Z" fill="#c9cfd5"/>
<path d="M189.68 213.62L191.66 215.60L189.68 217.58L187.70 215.60Z" fill="#c9cfd5"/>
<path d="M201.34 215.83L203.32 217.81L201.34 219.79L199.36 217.81Z" fill="#c9cfd5"/>
<path d="M213.00 211.41L214.98 213.39L213.00 215.37L211.02 213.39Z" fill="#c9cfd5"/>
<path d="M224.67 213.62L226.65 215.60L224.67 217.58L222.69 215.60Z" fill="#c9cfd5"/>
<path d="M236.33 214.72L238.31 216.70L236.33 218.68L234.35 216.70Z" fill="#c9cfd5"/>
<path d="M248.00 213.62L249.98 215.60L248.00 217.58L246.02 215.60Z" fill="#c9cfd5"/>
<polyline points="84.7,201.8 96.4,203.5 108.0,193.8 119.7,200.1 131.4,201.2 143.0,200.1 154.7,199.0 166.3,196.3 178.0,188.6 189.7,191.6 201.3,200.1 213.0,196.3 224.7,189.2 236.3,194.2 248.0,200.1" fill="none" stroke="#cfd4d9" stroke-width="0.8"/>
<circle cx="84.70" cy="201.80" r="1.8" fill="#c9cfd5"/>
<circle cx="96.36" cy="203.46" r="1.8" fill="#c9cfd5"/>
<circle cx="108.03" cy="193.80" r="1.8" fill="#c9cfd5"/>
<circle cx="119.69" cy="200.14" r="1.8" fill="#c9cfd5"/>
<circle cx="131.36" cy="201.25" r="1.8" fill="#c9cfd5"/>
<circle cx="143.02" cy="200.14" r="1.8" fill="#c9cfd5"/>
<circle cx="154.68" cy="199.04" r="1.8" fill="#c9cfd5"/>
<circle cx="166.35" cy="196.28" r="1.8" fill="#c9cfd5"/>
<circle cx="178.01" cy="188.55" r="1.8" fill="#c9cfd5"/>
<circle cx="189.68" cy="191.59" r="1.8" fill="#c9cfd5"/>
<circle cx="201.34" cy="200.14" r="1.8" fill="#c9cfd5"/>
<circle cx="213.00" cy="196.28" r="1.8" fill="#c9cfd5"/>
<circle cx="224.67" cy="189.21" r="1.8" fill="#c9cfd5"/>
<circle cx="236.33" cy="194.18" r="1.8" fill="#c9cfd5"/>
<circle cx="248.00" cy="200.14" r="1.8" fill="#c9cfd5"/>
<polyline points="84.7,204.6 96.4,201.2 108.0,200.1 119.7,199.0 131.4,200.1 143.0,197.9 154.7,195.7 166.3,193.5 178.0,200.1 189.7,199.0 201.3,196.8 213.0,203.5 224.7,197.9 236.3,195.7 248.0,202.4" fill="none" stroke="#cfd4d9" stroke-width="0.8"/>
<rect x="82.90" y="202.76" width="3.60" height="3.60" fill="#c9cfd5"/>
<rect x="94.56" y="199.45" width="3.60" height="3.60" fill="#c9cfd5"/>
<rect x="106.23" y="198.34" width="3.60" height="3.60" fill="#c9cfd5"/>
<rect x="117.89" y="197.24" width="3.60" height="3.60" fill="#c9cfd5"/>
<rect x="129.56" y="198.34" width="3.60" height="3.60" fill="#c9cfd5"/>
<rect x="141.22" y="196.14" width="3.60" height="3.60" fill="#c9cfd5"/>
<rect x="152.88" y="193.93" width="3.60" height="3.60" fill="#c9cfd5"/>
<rect x="164.55" y="191.72" width="3.60" height="3.60" fill="#c9cfd5"/>
<rect x="176.21" y="198.34" width="3.60" height="3.60" fill="#c9cfd5"/>
<rect x="187.88" y="197.24" width="3.60" height="3.60" fill="#c9cfd5"/>
<rect x="199.54" y="195.03" width="3.60" height="3.60" fill="#c9cfd5"/>
<rect x="211.20" y="201.66" width="3.60" height="3.60" fill="#c9cfd5"/>
<rect x="222.87" y="196.14" width="3.60" height="3.60" fill="#c9cfd5"/>
<rect x="234.53" y="193.93" width="3.60" height="3.60" fill="#c9cfd5"/>
<rect x="246.20" y="200.55" width="3.60" height="3.60" fill="#c9cfd5"/>
<polyline points="84.7,213.4 96.4,215.6 108.0,213.4 119.7,214.5 131.4,216.7 143.0,217.8 154.7,213.4 166.3,215.6 178.0,215.6 189.7,217.8 201.3,215.6 213.0,216.7 224.7,217.8 236.3,216.7 248.0,215.6" fill="none" stroke="#cfd4d9" stroke-width="0.8"/>
<circle cx="84.70" cy="213.39" r="1.35" fill="#c9cfd5"/>
<circle cx="96.36" cy="215.60" r="1.35" fill="#c9cfd5"/>
<circle cx="108.03" cy="213.39" r="1.35" fill="#c9cfd5"/>
<circle cx="119.69" cy="214.50" r="1.35" fill="#c9cfd5"/>
<circle cx="131.36" cy="216.70" r="1.35" fill="#c9cfd5"/>
<circle cx="143.02" cy="217.81" r="1.35" fill="#c9cfd5"/>
<circle cx="154.68" cy="213.39" r="1.35" fill="#c9cfd5"/>
<circle cx="166.35" cy="215.60" r="1.35" fill="#c9cfd5"/>
<circle cx="178.01" cy="215.60" r="1.35" fill="#c9cfd5"/>
<circle cx="189.68" cy="217.81" r="1.35" fill="#c9cfd5"/>
<circle cx="201.34" cy="215.60" r="1.35" fill="#c9cfd5"/>
<circle cx="213.00" cy="216.70" r="1.35" fill="#c9cfd5"/>
<circle cx="224.67" cy="217.81" r="1.35" fill="#c9cfd5"/>
<circle cx="236.33" cy="216.70" r="1.35" fill="#c9cfd5"/>
<circle cx="248.00" cy="215.60" r="1.35" fill="#c9cfd5"/>
<polyline points="84.7,209.3 96.4,210.0 108.0,200.1 119.7,209.0 131.4,212.2 143.0,206.3 154.7,205.8 166.3,201.9 178.0,208.1 189.7,206.4 201.3,209.4 213.0,200.1 224.7,208.0 236.3,207.2 248.0,204.6" fill="none" stroke="#cfd4d9" stroke-width="0.8"/>
<rect x="83.20" y="207.77" width="3.00" height="3.00" fill="none" stroke="#c9cfd5" stroke-width="0.6"/>
<rect x="82.90" y="207.47" width="3.60" height="1.80" fill="#c9cfd5"/>
<rect x="94.86" y="208.51" width="3.00" height="3.00" fill="none" stroke="#c9cfd5" stroke-width="0.6"/>
<rect x="94.56" y="208.21" width="3.60" height="1.80" fill="#c9cfd5"/>
<rect x="106.53" y="198.64" width="3.00" height="3.00" fill="none" stroke="#c9cfd5" stroke-width="0.6"/>
<rect x="106.23" y="198.34" width="3.60" height="1.80" fill="#c9cfd5"/>
<rect x="118.19" y="207.49" width="3.00" height="3.00" fill="none" stroke="#c9cfd5" stroke-width="0.6"/>
<rect x="117.89" y="207.19" width="3.60" height="1.80" fill="#c9cfd5"/>
<rect x="129.86" y="210.73" width="3.00" height="3.00" fill="none" stroke="#c9cfd5" stroke-width="0.6"/>
<rect x="129.56" y="210.43" width="3.60" height="1.80" fill="#c9cfd5"/>
<rect x="141.52" y="204.79" width="3.00" height="3.00" fill="none" stroke="#c9cfd5" stroke-width="0.6"/>
<rect x="141.22" y="204.49" width="3.60" height="1.80" fill="#c9cfd5"/>
<rect x="153.18" y="204.29" width="3.00" height="3.00" fill="none" stroke="#c9cfd5" stroke-width="0.6"/>
<rect x="152.88" y="203.99" width="3.60" height="1.80" fill="#c9cfd5"/>
<rect x="164.85" y="200.44" width="3.00" height="3.00" fill="none" stroke="#c9cfd5" stroke-width="0.6"/>
<rect x="164.55" y="200.14" width="3.60" height="1.80" fill="#c9cfd5"/>
<rect x="176.51" y="206.63" width="3.00" height="3.00" fill="none" stroke="#c9cfd5" stroke-width="0.6"/>
<rect x="176.21" y="206.33" width="3.60" height="1.80" fill="#c9cfd5"/>
<rect x="188.18" y="204.95" width="3.00" height="3.00" fill="none" stroke="#c9cfd5" stroke-width="0.6"/>
<rect x="187.88" y="204.65" width="3.60" height="1.80" fill="#c9cfd5"/>
<rect x="199.84" y="207.90" width="3.00" height="3.00" fill="none" stroke="#c9cfd5" stroke-width="0.6"/>
<rect x="199.54" y="207.60" width="3.60" height="1.80" fill="#c9cfd5"/>
<rect x="211.50" y="198.64" width="3.00" height="3.00" fill="none" stroke="#c9cfd5" stroke-width="0.6"/>
<rect x="211.20" y="198.34" width="3.60" height="1.80" fill="#c9cfd5"/>
<rect x="223.17" y="206.51" width="3.00" height="3.00" fill="none" stroke="#c9cfd5" stroke-width="0.6"/>
<rect x="222.87" y="206.21" width="3.60" height="1.80" fill="#c9cfd5"/>
<rect x="234.83" y="205.75" width="3.00" height="3.00" fill="none" stroke="#c9cfd5" stroke-width="0.6"/>
<rect x="234.53" y="205.45" width="3.60" height="1.80" fill="#c9cfd5"/>
<rect x="246.50" y="203.14" width="3.00" height="3.00" fill="none" stroke="#c9cfd5" stroke-width="0.6"/>
<rect x="246.20" y="202.84" width="3.60" height="1.80" fill="#c9cfd5"/>
<polyline points="84.7,204.2 96.4,211.5 108.0,202.8 119.7,209.5 131.4,203.0 143.0,209.2 154.7,205.0 166.3,206.9 178.0,205.6 189.7,206.7 201.3,207.5 213.0,209.0 224.7,214.6 236.3,205.7 248.0,211.9" fill="none" stroke="#cfd4d9" stroke-width="0.8"/>
<path d="M84.70 202.25L86.68 205.67L82.72 205.67Z" fill="none" stroke="#c9cfd5" stroke-width="0.6"/>
<path d="M96.36 209.51L98.34 212.93L94.38 212.93Z" fill="none" stroke="#c9cfd5" stroke-width="0.6"/>
<path d="M108.03 200.77L110.01 204.19L106.05 204.19Z" fill="none" stroke="#c9cfd5" stroke-width="0.6"/>
<path d="M119.69 207.57L121.67 210.99L117.71 210.99Z" fill="none" stroke="#c9cfd5" stroke-width="0.6"/>
<path d="M131.36 201.04L133.34 204.46L129.38 204.46Z" fill="none" stroke="#c9cfd5" stroke-width="0.6"/>
<path d="M143.02 207.25L145.00 210.67L141.04 210.67Z" fill="none" stroke="#c9cfd5" stroke-width="0.6"/>
<path d="M154.68 203.03L156.66 206.45L152.70 206.45Z" fill="none" stroke="#c9cfd5" stroke-width="0.6"/>
<path d="M166.35 204.93L168.33 208.35L164.37 208.35Z" fill="none" stroke="#c9cfd5" stroke-width="0.6"/>
<path d="M178.01 203.67L179.99 207.09L176.03 207.09Z" fill="none" stroke="#c9cfd5" stroke-width="0.6"/>
<path d="M189.68 204.68L191.66 208.10L187.70 208.10Z" fill="none" stroke="#c9cfd5" stroke-width="0.6"/>
<path d="M201.34 205.47L203.32 208.89L199.36 208.89Z" fill="none" stroke="#c9cfd5" stroke-width="0.6"/>
<path d="M213.00 207.03L214.98 210.45L211.02 210.45Z" fill="none" stroke="#c9cfd5" stroke-width="0.6"/>
<path d="M224.67 212.60L226.65 216.02L222.69 216.02Z" fill="none" stroke="#c9cfd5" stroke-width="0.6"/>
<path d="M236.33 203.70L238.31 207.12L234.35 207.12Z" fill="none" stroke="#c9cfd5" stroke-width="0.6"/>
<path d="M248.00 209.90L249.98 213.32L246.02 213.32Z" fill="none" stroke="#c9cfd5" stroke-width="0.6"/>
<polyline points="84.7,209.9 96.4,206.5 108.0,209.8 119.7,204.5 131.4,203.5 143.0,207.2 154.7,209.4 166.3,205.0 178.0,201.6 189.7,210.8 201.3,207.1 213.0,206.6 224.7,209.5 236.3,207.5 248.0,209.1" fill="none" stroke="#cfd4d9" stroke-width="0.8"/>
<path d="M84.70 207.75L86.86 209.91L84.70 212.07L82.54 209.91Z" fill="none" stroke="#c9cfd5" stroke-width="0.6"/>
<path d="M96.36 204.31L98.52 206.47L96.36 208.63L94.20 206.47Z" fill="none" stroke="#c9cfd5" stroke-width="0.6"/>
<path d="M108.03 207.62L110.19 209.78L108.03 211.94L105.87 209.78Z" fill="none" stroke="#c9cfd5" stroke-width="0.6"/>
<path d="M119.69 202.31L121.85 204.47L119.69 206.63L117.53 204.47Z" fill="none" stroke="#c9cfd5" stroke-width="0.6"/>
<path d="M131.36 201.37L133.52 203.53L131.36 205.69L129.20 203.53Z" fill="none" stroke="#c9cfd5" stroke-width="0.6"/>
<path d="M143.02 205.00L145.18 207.16L143.02 209.32L140.86 207.16Z" fill="none" stroke="#c9cfd5" stroke-width="0.6"/>
<path d="M154.68 207.22L156.84 209.38L154.68 211.54L152.52 209.38Z" fill="none" stroke="#c9cfd5" stroke-width="0.6"/>
<path d="M166.35 202.81L168.51 204.97L166.35 207.13L164.19 204.97Z" fill="none" stroke="#c9cfd5" stroke-width="0.6"/>
<path d="M178.01 199.46L180.17 201.62L178.01 203.78L175.85 201.62Z" fill="none" stroke="#c9cfd5" stroke-width="0.6"/>
<path d="M189.68 208.63L191.84 210.79L189.68 212.95L187.52 210.79Z" fill="none" stroke="#c9cfd5" stroke-width="0.6"/>
<path d="M201.34 204.98L203.50 207.14L201.34 209.30L199.18 207.14Z" fill="none" stroke="#c9cfd5" stroke-width="0.6"/>
<path d="M213.00 204.46L215.16 206.62L213.00 208.78L210.84 206.62Z" fill="none" stroke="#c9cfd5" stroke-width="0.6"/>
<path d="M224.67 207.35L226.83 209.51L224.67 211.67L222.51 209.51Z" fill="none" stroke="#c9cfd5" stroke-width="0.6"/>
<path d="M236.33 205.30L238.49 207.46L236.33 209.62L234.17 207.46Z" fill="none" stroke="#c9cfd5" stroke-width="0.6"/>
<path d="M248.00 206.90L250.16 209.06L248.00 211.22L245.84 209.06Z" fill="none" stroke="#c9cfd5" stroke-width="0.6"/>
<polyline points="84.7,206.2 96.4,205.9 108.0,201.4 119.7,207.8 131.4,210.5 143.0,209.5 154.7,209.5 166.3,211.2 178.0,206.8 189.7,214.1 201.3,205.1 213.0,208.7 224.7,214.8 236.3,206.8 248.0,209.5" fill="none" stroke="#cfd4d9" stroke-width="0.8"/>
<rect x="82.90" y="204.38" width="3.60" height="3.60" fill="#c9cfd5"/>
<rect x="94.56" y="204.10" width="3.60" height="3.60" fill="#c9cfd5"/>
<rect x="106.23" y="199.61" width="3.60" height="3.60" fill="#c9cfd5"/>
<rect x="117.89" y="205.96" width="3.60" height="3.60" fill="#c9cfd5"/>
<rect x="129.56" y="208.72" width="3.60" height="3.60" fill="#c9cfd5"/>
<rect x="141.22" y="207.74" width="3.60" height="3.60" fill="#c9cfd5"/>
<rect x="152.88" y="207.68" width="3.60" height="3.60" fill="#c9cfd5"/>
<rect x="164.55" y="209.43" width="3.60" height="3.60" fill="#c9cfd5"/>
<rect x="176.21" y="205.01" width="3.60" height="3.60" fill="#c9cfd5"/>
<rect x="187.88" y="212.30" width="3.60" height="3.60" fill="#c9cfd5"/>
<rect x="199.54" y="203.35" width="3.60" height="3.60" fill="#c9cfd5"/>
<rect x="211.20" y="206.94" width="3.60" height="3.60" fill="#c9cfd5"/>
<rect x="222.87" y="213.03" width="3.60" height="3.60" fill="#c9cfd5"/>
<rect x="234.53" y="204.98" width="3.60" height="3.60" fill="#c9cfd5"/>
<rect x="246.20" y="207.73" width="3.60" height="3.60" fill="#c9cfd5"/>
<polyline points="84.7,204.3 96.4,208.3 108.0,200.1 119.7,209.6 131.4,206.4 143.0,208.8 154.7,207.9 166.3,209.9 178.0,204.7 189.7,215.6 201.3,210.2 213.0,205.2 224.7,208.6 236.3,213.6 248.0,206.7" fill="none" stroke="#cfd4d9" stroke-width="0.8"/>
<path d="M84.70 202.27L86.68 204.25L84.70 206.23L82.72 204.25Z" fill="#c9cfd5"/>
<path d="M96.36 206.32L98.34 208.30L96.36 210.28L94.38 208.30Z" fill="#c9cfd5"/>
<path d="M108.03 198.16L110.01 200.14L108.03 202.12L106.05 200.14Z" fill="#c9cfd5"/>
<path d="M119.69 207.65L121.67 209.63L119.69 211.61L117.71 209.63Z" fill="#c9cfd5"/>
<path d="M131.36 204.44L133.34 206.42L131.36 208.40L129.38 206.42Z" fill="#c9cfd5"/>
<path d="M143.02 206.79L145.00 208.77L143.02 210.75L141.04 208.77Z" fill="#c9cfd5"/>
<path d="M154.68 205.96L156.66 207.94L154.68 209.92L152.70 207.94Z" fill="#c9cfd5"/>
<path d="M166.35 207.95L168.33 209.93L166.35 211.91L164.37 209.93Z" fill="#c9cfd5"/>
<path d="M178.01 202.71L179.99 204.69L178.01 206.67L176.03 204.69Z" fill="#c9cfd5"/>
<path d="M189.68 213.62L191.66 215.60L189.68 217.58L187.70 215.60Z" fill="#c9cfd5"/>
<path d="M201.34 208.18L203.32 210.16L201.34 212.14L199.36 210.16Z" fill="#c9cfd5"/>
<path d="M213.00 203.25L214.98 205.23L213.00 207.21L211.02 205.23Z" fill="#c9cfd5"/>
<path d="M224.67 206.57L226.65 208.55L224.67 210.53L222.69 208.55Z" fill="#c9cfd5"/>
<path d="M236.33 211.59L238.31 213.57L236.33 215.55L234.35 213.57Z" fill="#c9cfd5"/>
<path d="M248.00 204.72L249.98 206.70L248.00 208.68L246.02 206.70Z" fill="#c9cfd5"/>
<polyline points="84.7,209.6 96.4,207.5 108.0,206.8 119.7,200.5 131.4,209.2 143.0,208.0 154.7,205.2 166.3,209.2 178.0,208.4 189.7,212.2 201.3,210.6 213.0,208.0 224.7,203.8 236.3,201.5 248.0,205.3" fill="none" stroke="#cfd4d9" stroke-width="0.8"/>
<circle cx="84.70" cy="209.63" r="1.50" fill="none" stroke="#c9cfd5" stroke-width="0.6"/>
<path d="M82.90 209.63A1.8 1.8 0 0 0 86.50 209.63Z" fill="#c9cfd5"/>
<circle cx="96.36" cy="207.49" r="1.50" fill="none" stroke="#c9cfd5" stroke-width="0.6"/>
<path d="M94.56 207.49A1.8 1.8 0 0 0 98.16 207.49Z" fill="#c9cfd5"/>
<circle cx="108.03" cy="206.80" r="1.50" fill="none" stroke="#c9cfd5" stroke-width="0.6"/>
<path d="M106.23 206.80A1.8 1.8 0 0 0 109.83 206.80Z" fill="#c9cfd5"/>
<circle cx="119.69" cy="200.51" r="1.50" fill="none" stroke="#c9cfd5" stroke-width="0.6"/>
<path d="M117.89 200.51A1.8 1.8 0 0 0 121.49 200.51Z" fill="#c9cfd5"/>
<circle cx="131.36" cy="209.20" r="1.50" fill="none" stroke="#c9cfd5" stroke-width="0.6"/>
<path d="M129.56 209.20A1.8 1.8 0 0 0 133.16 209.20Z" fill="#c9cfd5"/>
<circle cx="143.02" cy="207.98" r="1.50" fill="none" stroke="#c9cfd5" stroke-width="0.6"/>
<path d="M141.22 207.98A1.8 1.8 0 0 0 144.82 207.98Z" fill="#c9cfd5"/>
<circle cx="154.68" cy="205.24" r="1.50" fill="none" stroke="#c9cfd5" stroke-width="0.6"/>
<path d="M152.88 205.24A1.8 1.8 0 0 0 156.48 205.24Z" fill="#c9cfd5"/>
<circle cx="166.35" cy="209.24" r="1.50" fill="none" stroke="#c9cfd5" stroke-width="0.6"/>
<path d="M164.55 209.24A1.8 1.8 0 0 0 168.15 209.24Z" fill="#c9cfd5"/>
<circle cx="178.01" cy="208.44" r="1.50" fill="none" stroke="#c9cfd5" stroke-width="0.6"/>
<path d="M176.21 208.44A1.8 1.8 0 0 0 179.81 208.44Z" fill="#c9cfd5"/>
<circle cx="189.68" cy="212.21" r="1.50" fill="none" stroke="#c9cfd5" stroke-width="0.6"/>
<path d="M187.88 212.21A1.8 1.8 0 0 0 191.48 212.21Z" fill="#c9cfd5"/>
<circle cx="201.34" cy="210.57" r="1.50" fill="none" stroke="#c9cfd5" stroke-width="0.6"/>
<path d="M199.54 210.57A1.8 1.8 0 0 0 203.14 210.57Z" fill="#c9cfd5"/>
<circle cx="213.00" cy="208.01" r="1.50" fill="none" stroke="#c9cfd5" stroke-width="0.6"/>
<path d="M211.20 208.01A1.8 1.8 0 0 0 214.80 208.01Z" fill="#c9cfd5"/>
<circle cx="224.67" cy="203.78" r="1.50" fill="none" stroke="#c9cfd5" stroke-width="0.6"/>
<path d="M222.87 203.78A1.8 1.8 0 0 0 226.47 203.78Z" fill="#c9cfd5"/>
<circle cx="236.33" cy="201.46" r="1.50" fill="none" stroke="#c9cfd5" stroke-width="0.6"/>
<path d="M234.53 201.46A1.8 1.8 0 0 0 238.13 201.46Z" fill="#c9cfd5"/>
<circle cx="248.00" cy="205.27" r="1.50" fill="none" stroke="#c9cfd5" stroke-width="0.6"/>
<path d="M246.20 205.27A1.8 1.8 0 0 0 249.80 205.27Z" fill="#c9cfd5"/>
<polyline points="84.7,207.3 96.4,206.6 108.0,200.1 119.7,201.1 131.4,204.9 143.0,209.1 154.7,202.2 166.3,201.5 178.0,206.5 189.7,211.9 201.3,215.6 213.0,211.9 224.7,214.3 236.3,207.1 248.0,208.7" fill="none" stroke="#cfd4d9" stroke-width="0.8"/>
<circle cx="84.70" cy="207.32" r="1.50" fill="none" stroke="#c9cfd5" stroke-width="0.6"/>
<path d="M82.90 207.32A1.8 1.8 0 0 1 86.50 207.32Z" fill="#c9cfd5"/>
<circle cx="96.36" cy="206.62" r="1.50" fill="none" stroke="#c9cfd5" stroke-width="0.6"/>
<path d="M94.56 206.62A1.8 1.8 0 0 1 98.16 206.62Z" fill="#c9cfd5"/>
<circle cx="108.03" cy="200.14" r="1.50" fill="none" stroke="#c9cfd5" stroke-width="0.6"/>
<path d="M106.23 200.14A1.8 1.8 0 0 1 109.83 200.14Z" fill="#c9cfd5"/>
<circle cx="119.69" cy="201.12" r="1.50" fill="none" stroke="#c9cfd5" stroke-width="0.6"/>
<path d="M117.89 201.12A1.8 1.8 0 0 1 121.49 201.12Z" fill="#c9cfd5"/>
<circle cx="131.36" cy="204.90" r="1.50" fill="none" stroke="#c9cfd5" stroke-width="0.6"/>
<path d="M129.56 204.90A1.8 1.8 0 0 1 133.16 204.90Z" fill="#c9cfd5"/>
<circle cx="143.02" cy="209.06" r="1.50" fill="none" stroke="#c9cfd5" stroke-width="0.6"/>
<path d="M141.22 209.06A1.8 1.8 0 0 1 144.82 209.06Z" fill="#c9cfd5"/>
<circle cx="154.68" cy="202.24" r="1.50" fill="none" stroke="#c9cfd5" stroke-width="0.6"/>
<path d="M152.88 202.24A1.8 1.8 0 0 1 156.48 202.24Z" fill="#c9cfd5"/>
<circle cx="166.35" cy="201.49" r="1.50" fill="none" stroke="#c9cfd5" stroke-width="0.6"/>
<path d="M164.55 201.49A1.8 1.8 0 0 1 168.15 201.49Z" fill="#c9cfd5"/>
<circle cx="178.01" cy="206.47" r="1.50" fill="none" stroke="#c9cfd5" stroke-width="0.6"/>
<path d="M176.21 206.47A1.8 1.8 0 0 1 179.81 206.47Z" fill="#c9cfd5"/>
<circle cx="189.68" cy="211.86" r="1.50" fill="none" stroke="#c9cfd5" stroke-width="0.6"/>
<path d="M187.88 211.86A1.8 1.8 0 0 1 191.48 211.86Z" fill="#c9cfd5"/>
<circle cx="201.34" cy="215.60" r="1.50" fill="none" stroke="#c9cfd5" stroke-width="0.6"/>
<path d="M199.54 215.60A1.8 1.8 0 0 1 203.14 215.60Z" fill="#c9cfd5"/>
<circle cx="213.00" cy="211.85" r="1.50" fill="none" stroke="#c9cfd5" stroke-width="0.6"/>
<path d="M211.20 211.85A1.8 1.8 0 0 1 214.80 211.85Z" fill="#c9cfd5"/>
<circle cx="224.67" cy="214.29" r="1.50" fill="none" stroke="#c9cfd5" stroke-width="0.6"/>
<path d="M222.87 214.29A1.8 1.8 0 0 1 226.47 214.29Z" fill="#c9cfd5"/>
<circle cx="236.33" cy="207.07" r="1.50" fill="none" stroke="#c9cfd5" stroke-width="0.6"/>
<path d="M234.53 207.07A1.8 1.8 0 0 1 238.13 207.07Z" fill="#c9cfd5"/>
<circle cx="248.00" cy="208.74" r="1.50" fill="none" stroke="#c9cfd5" stroke-width="0.6"/>
<path d="M246.20 208.74A1.8 1.8 0 0 1 249.80 208.74Z" fill="#c9cfd5"/>
<polyline points="84.7,209.7 96.4,209.6 108.0,200.7 119.7,211.3 131.4,208.7 143.0,211.4 154.7,200.1 166.3,205.5 178.0,201.9 189.7,208.8 201.3,213.6 213.0,204.6 224.7,209.2 236.3,206.4 248.0,208.8" fill="none" stroke="#cfd4d9" stroke-width="0.8"/>
<path d="M84.70 211.67L86.68 208.25L82.72 208.25Z" fill="#c9cfd5"/>
<path d="M96.36 211.63L98.34 208.21L94.38 208.21Z" fill="#c9cfd5"/>
<path d="M108.03 202.64L110.01 199.22L106.05 199.22Z" fill="#c9cfd5"/>
<path d="M119.69 213.28L121.67 209.86L117.71 209.86Z" fill="#c9cfd5"/>
<path d="M131.36 210.66L133.34 207.24L129.38 207.24Z" fill="#c9cfd5"/>
<path d="M143.02 213.34L145.00 209.92L141.04 209.92Z" fill="#c9cfd5"/>
<path d="M154.68 202.12L156.66 198.70L152.70 198.70Z" fill="#c9cfd5"/>
<path d="M166.35 207.48L168.33 204.06L164.37 204.06Z" fill="#c9cfd5"/>
<path d="M178.01 203.88L179.99 200.46L176.03 200.46Z" fill="#c9cfd5"/>
<path d="M189.68 210.79L191.66 207.37L187.70 207.37Z" fill="#c9cfd5"/>
<path d="M201.34 215.62L203.32 212.20L199.36 212.20Z" fill="#c9cfd5"/>
<path d="M213.00 206.60L214.98 203.18L211.02 203.18Z" fill="#c9cfd5"/>
<path d="M224.67 211.20L226.65 207.78L222.69 207.78Z" fill="#c9cfd5"/>
<path d="M236.33 208.42L238.31 205.00L234.35 205.00Z" fill="#c9cfd5"/>
<path d="M248.00 210.78L249.98 207.36L246.02 207.36Z" fill="#c9cfd5"/>
<line x1="84.70" y1="200.42" x2="84.70" y2="212.18" stroke="#22677f" stroke-width="1.6"/>
<line x1="82.60" y1="200.42" x2="86.80" y2="200.42" stroke="#22677f" stroke-width="1.6"/>
<line x1="82.60" y1="212.18" x2="86.80" y2="212.18" stroke="#22677f" stroke-width="1.6"/>
<line x1="96.36" y1="204.28" x2="96.36" y2="211.52" stroke="#22677f" stroke-width="1.6"/>
<line x1="94.26" y1="204.28" x2="98.46" y2="204.28" stroke="#22677f" stroke-width="1.6"/>
<line x1="94.26" y1="211.52" x2="98.46" y2="211.52" stroke="#22677f" stroke-width="1.6"/>
<line x1="108.03" y1="202.30" x2="108.03" y2="210.02" stroke="#22677f" stroke-width="1.6"/>
<line x1="105.93" y1="202.30" x2="110.13" y2="202.30" stroke="#22677f" stroke-width="1.6"/>
<line x1="105.93" y1="210.02" x2="110.13" y2="210.02" stroke="#22677f" stroke-width="1.6"/>
<line x1="119.69" y1="202.57" x2="119.69" y2="210.91" stroke="#22677f" stroke-width="1.6"/>
<line x1="117.59" y1="202.57" x2="121.79" y2="202.57" stroke="#22677f" stroke-width="1.6"/>
<line x1="117.59" y1="210.91" x2="121.79" y2="210.91" stroke="#22677f" stroke-width="1.6"/>
<line x1="131.36" y1="202.57" x2="131.36" y2="210.91" stroke="#22677f" stroke-width="1.6"/>
<line x1="129.26" y1="202.57" x2="133.46" y2="202.57" stroke="#22677f" stroke-width="1.6"/>
<line x1="129.26" y1="210.91" x2="133.46" y2="210.91" stroke="#22677f" stroke-width="1.6"/>
<line x1="143.02" y1="202.57" x2="143.02" y2="211.52" stroke="#22677f" stroke-width="1.6"/>
<line x1="140.92" y1="202.57" x2="145.12" y2="202.57" stroke="#22677f" stroke-width="1.6"/>
<line x1="140.92" y1="211.52" x2="145.12" y2="211.52" stroke="#22677f" stroke-width="1.6"/>
<line x1="154.68" y1="204.28" x2="154.68" y2="211.52" stroke="#22677f" stroke-width="1.6"/>
<line x1="152.58" y1="204.28" x2="156.78" y2="204.28" stroke="#22677f" stroke-width="1.6"/>
<line x1="152.58" y1="211.52" x2="156.78" y2="211.52" stroke="#22677f" stroke-width="1.6"/>
<line x1="166.35" y1="199.10" x2="166.35" y2="209.58" stroke="#22677f" stroke-width="1.6"/>
<line x1="164.25" y1="199.10" x2="168.45" y2="199.10" stroke="#22677f" stroke-width="1.6"/>
<line x1="164.25" y1="209.58" x2="168.45" y2="209.58" stroke="#22677f" stroke-width="1.6"/>
<line x1="178.01" y1="200.81" x2="178.01" y2="211.90" stroke="#22677f" stroke-width="1.6"/>
<line x1="175.91" y1="200.81" x2="180.11" y2="200.81" stroke="#22677f" stroke-width="1.6"/>
<line x1="175.91" y1="211.90" x2="180.11" y2="211.90" stroke="#22677f" stroke-width="1.6"/>
<line x1="189.68" y1="204.28" x2="189.68" y2="215.21" stroke="#22677f" stroke-width="1.6"/>
<line x1="187.58" y1="204.28" x2="191.78" y2="204.28" stroke="#22677f" stroke-width="1.6"/>
<line x1="187.58" y1="215.21" x2="191.78" y2="215.21" stroke="#22677f" stroke-width="1.6"/>
<line x1="201.34" y1="206.49" x2="201.34" y2="215.21" stroke="#22677f" stroke-width="1.6"/>
<line x1="199.24" y1="206.49" x2="203.44" y2="206.49" stroke="#22677f" stroke-width="1.6"/>
<line x1="199.24" y1="215.21" x2="203.44" y2="215.21" stroke="#22677f" stroke-width="1.6"/>
<line x1="213.00" y1="201.30" x2="213.00" y2="212.18" stroke="#22677f" stroke-width="1.6"/>
<line x1="210.90" y1="201.30" x2="215.10" y2="201.30" stroke="#22677f" stroke-width="1.6"/>
<line x1="210.90" y1="212.18" x2="215.10" y2="212.18" stroke="#22677f" stroke-width="1.6"/>
<line x1="224.67" y1="205.22" x2="224.67" y2="214.39" stroke="#22677f" stroke-width="1.6"/>
<line x1="222.57" y1="205.22" x2="226.77" y2="205.22" stroke="#22677f" stroke-width="1.6"/>
<line x1="222.57" y1="214.39" x2="226.77" y2="214.39" stroke="#22677f" stroke-width="1.6"/>
<line x1="236.33" y1="202.08" x2="236.33" y2="213.50" stroke="#22677f" stroke-width="1.6"/>
<line x1="234.23" y1="202.08" x2="238.43" y2="202.08" stroke="#22677f" stroke-width="1.6"/>
<line x1="234.23" y1="213.50" x2="238.43" y2="213.50" stroke="#22677f" stroke-width="1.6"/>
<line x1="248.00" y1="206.33" x2="248.00" y2="212.62" stroke="#22677f" stroke-width="1.6"/>
<line x1="245.90" y1="206.33" x2="250.10" y2="206.33" stroke="#22677f" stroke-width="1.6"/>
<line x1="245.90" y1="212.62" x2="250.10" y2="212.62" stroke="#22677f" stroke-width="1.6"/>
<polyline points="84.7,207.3 96.4,208.9 108.0,205.6 119.7,207.3 131.4,207.3 143.0,207.3 154.7,206.3 166.3,204.3 178.0,206.9 189.7,211.5 201.3,211.5 213.0,206.9 224.7,210.0 236.3,208.2 248.0,209.6" fill="none" stroke="#22677f" stroke-width="1.7" stroke-linejoin="round"/>
<circle cx="84.70" cy="207.32" r="1.9" fill="#22677f"/>
<circle cx="96.36" cy="208.92" r="1.9" fill="#22677f"/>
<circle cx="108.03" cy="205.61" r="1.9" fill="#22677f"/>
<circle cx="119.69" cy="207.32" r="1.9" fill="#22677f"/>
<circle cx="131.36" cy="207.32" r="1.9" fill="#22677f"/>
<circle cx="143.02" cy="207.32" r="1.9" fill="#22677f"/>
<circle cx="154.68" cy="206.33" r="1.9" fill="#22677f"/>
<circle cx="166.35" cy="204.28" r="1.9" fill="#22677f"/>
<circle cx="178.01" cy="206.88" r="1.9" fill="#22677f"/>
<circle cx="189.68" cy="211.52" r="1.9" fill="#22677f"/>
<circle cx="201.34" cy="211.52" r="1.9" fill="#22677f"/>
<circle cx="213.00" cy="206.88" r="1.9" fill="#22677f"/>
<circle cx="224.67" cy="210.02" r="1.9" fill="#22677f"/>
<circle cx="236.33" cy="208.20" r="1.9" fill="#22677f"/>
<circle cx="248.00" cy="209.58" r="1.9" fill="#22677f"/>
<line x1="61.00" y1="159.60" x2="61.00" y2="271.60" stroke="#1a1a1a" stroke-width="1.7"/>
<line x1="56.00" y1="270.80" x2="61.00" y2="270.80" stroke="#1a1a1a" stroke-width="1.5"/>
<text font-size="10.1" text-anchor="end" fill="#1a1a1a" stroke="#1a1a1a" stroke-width="0.22" transform="translate(52.90 274.90) scale(0.93 1)">0</text>
<line x1="58.30" y1="263.90" x2="61.00" y2="263.90" stroke="#1a1a1a" stroke-width="1.5"/>
<line x1="56.00" y1="257.00" x2="61.00" y2="257.00" stroke="#1a1a1a" stroke-width="1.5"/>
<text font-size="10.1" text-anchor="end" fill="#1a1a1a" stroke="#1a1a1a" stroke-width="0.22" transform="translate(52.90 261.10) scale(0.93 1)">25</text>
<line x1="58.30" y1="250.10" x2="61.00" y2="250.10" stroke="#1a1a1a" stroke-width="1.5"/>
<line x1="56.00" y1="243.20" x2="61.00" y2="243.20" stroke="#1a1a1a" stroke-width="1.5"/>
<text font-size="10.1" text-anchor="end" fill="#1a1a1a" stroke="#1a1a1a" stroke-width="0.22" transform="translate(52.90 247.30) scale(0.93 1)">50</text>
<line x1="58.30" y1="236.30" x2="61.00" y2="236.30" stroke="#1a1a1a" stroke-width="1.5"/>
<line x1="56.00" y1="229.40" x2="61.00" y2="229.40" stroke="#1a1a1a" stroke-width="1.5"/>
<text font-size="10.1" text-anchor="end" fill="#1a1a1a" stroke="#1a1a1a" stroke-width="0.22" transform="translate(52.90 233.50) scale(0.93 1)">75</text>
<line x1="58.30" y1="222.50" x2="61.00" y2="222.50" stroke="#1a1a1a" stroke-width="1.5"/>
<line x1="56.00" y1="215.60" x2="61.00" y2="215.60" stroke="#1a1a1a" stroke-width="1.5"/>
<text font-size="10.1" text-anchor="end" fill="#1a1a1a" stroke="#1a1a1a" stroke-width="0.22" transform="translate(52.90 219.70) scale(0.93 1)">100</text>
<line x1="58.30" y1="208.70" x2="61.00" y2="208.70" stroke="#1a1a1a" stroke-width="1.5"/>
<line x1="56.00" y1="201.80" x2="61.00" y2="201.80" stroke="#1a1a1a" stroke-width="1.5"/>
<text font-size="10.1" text-anchor="end" fill="#1a1a1a" stroke="#1a1a1a" stroke-width="0.22" transform="translate(52.90 205.90) scale(0.93 1)">125</text>
<line x1="58.30" y1="194.90" x2="61.00" y2="194.90" stroke="#1a1a1a" stroke-width="1.5"/>
<line x1="56.00" y1="188.00" x2="61.00" y2="188.00" stroke="#1a1a1a" stroke-width="1.5"/>
<text font-size="10.1" text-anchor="end" fill="#1a1a1a" stroke="#1a1a1a" stroke-width="0.22" transform="translate(52.90 192.10) scale(0.93 1)">150</text>
<line x1="58.30" y1="181.10" x2="61.00" y2="181.10" stroke="#1a1a1a" stroke-width="1.5"/>
<line x1="56.00" y1="174.20" x2="61.00" y2="174.20" stroke="#1a1a1a" stroke-width="1.5"/>
<text font-size="10.1" text-anchor="end" fill="#1a1a1a" stroke="#1a1a1a" stroke-width="0.22" transform="translate(52.90 178.30) scale(0.93 1)">175</text>
<line x1="58.30" y1="167.30" x2="61.00" y2="167.30" stroke="#1a1a1a" stroke-width="1.5"/>
<line x1="56.00" y1="160.40" x2="61.00" y2="160.40" stroke="#1a1a1a" stroke-width="1.5"/>
<text font-size="10.1" text-anchor="end" fill="#1a1a1a" stroke="#1a1a1a" stroke-width="0.22" transform="translate(52.90 164.50) scale(0.93 1)">200</text>
<text font-size="10.1" text-anchor="middle" fill="#1a1a1a" stroke="#1a1a1a" stroke-width="0.22" transform="translate(17.90 215.60) rotate(-90) scale(0.93 1)">Systolic Blood Pressure</text>
<text font-size="10.1" text-anchor="middle" fill="#1a1a1a" stroke="#1a1a1a" stroke-width="0.22" transform="translate(30.10 215.60) rotate(-90) scale(0.93 1)">(mmHg)</text>
<rect x="62.0" y="293.70" width="69.36" height="112.40" fill="#f0f5fa"/>
<rect x="131.36" y="293.70" width="116.54" height="112.40" fill="#f8f8f8"/>
<line x1="62.00" y1="322.30" x2="247.90" y2="322.30" stroke="#1a1a1a" stroke-width="1.2" stroke-dasharray="1.8 1.2"/>
<line x1="131.36" y1="293.70" x2="131.36" y2="406.10" stroke="#111" stroke-width="1.3" stroke-dasharray="3 2.6"/>
<polyline points="84.7,381.4 96.4,378.6 108.0,374.1 119.7,369.9 131.4,369.9 143.0,369.2 154.7,367.8 166.3,372.7 178.0,372.7 189.7,369.8 201.3,363.7 213.0,366.5 224.7,372.3 236.3,363.7 248.0,366.5" fill="none" stroke="#cfd4d9" stroke-width="0.8"/>
<path d="M84.70 379.38L86.68 381.36L84.70 383.34L82.72 381.36Z" fill="#c9cfd5"/>
<path d="M96.36 376.62L98.34 378.60L96.36 380.58L94.38 378.60Z" fill="#c9cfd5"/>
<path d="M108.03 372.07L110.01 374.05L108.03 376.03L106.05 374.05Z" fill="#c9cfd5"/>
<path d="M119.69 367.93L121.67 369.91L119.69 371.89L117.71 369.91Z" fill="#c9cfd5"/>
<path d="M131.36 367.93L133.34 369.91L131.36 371.89L129.38 369.91Z" fill="#c9cfd5"/>
<path d="M143.02 367.24L145.00 369.22L143.02 371.20L141.04 369.22Z" fill="#c9cfd5"/>
<path d="M154.68 365.86L156.66 367.84L154.68 369.82L152.70 367.84Z" fill="#c9cfd5"/>
<path d="M166.35 370.69L168.33 372.67L166.35 374.65L164.37 372.67Z" fill="#c9cfd5"/>
<path d="M178.01 370.69L179.99 372.67L178.01 374.65L176.03 372.67Z" fill="#c9cfd5"/>
<path d="M189.68 367.79L191.66 369.77L189.68 371.75L187.70 369.77Z" fill="#c9cfd5"/>
<path d="M201.34 361.72L203.32 363.70L201.34 365.68L199.36 363.70Z" fill="#c9cfd5"/>
<path d="M213.00 364.48L214.98 366.46L213.00 368.44L211.02 366.46Z" fill="#c9cfd5"/>
<path d="M224.67 370.28L226.65 372.26L224.67 374.24L222.69 372.26Z" fill="#c9cfd5"/>
<path d="M236.33 361.72L238.31 363.70L236.33 365.68L234.35 363.70Z" fill="#c9cfd5"/>
<path d="M248.00 364.48L249.98 366.46L248.00 368.44L246.02 366.46Z" fill="#c9cfd5"/>
<polyline points="84.7,322.3 96.4,321.5 108.0,326.4 119.7,326.4 131.4,326.4 143.0,333.3 154.7,336.1 166.3,336.1 178.0,322.0 189.7,336.1 201.3,329.2 213.0,333.3 224.7,325.1 236.3,336.1 248.0,333.3" fill="none" stroke="#cfd4d9" stroke-width="0.8"/>
<rect x="82.90" y="320.50" width="3.60" height="3.60" fill="#c9cfd5"/>
<rect x="94.56" y="319.67" width="3.60" height="3.60" fill="#c9cfd5"/>
<rect x="106.23" y="324.64" width="3.60" height="3.60" fill="#c9cfd5"/>
<rect x="117.89" y="324.64" width="3.60" height="3.60" fill="#c9cfd5"/>
<rect x="129.56" y="324.64" width="3.60" height="3.60" fill="#c9cfd5"/>
<rect x="141.22" y="331.54" width="3.60" height="3.60" fill="#c9cfd5"/>
<rect x="152.88" y="334.30" width="3.60" height="3.60" fill="#c9cfd5"/>
<rect x="164.55" y="334.30" width="3.60" height="3.60" fill="#c9cfd5"/>
<rect x="176.21" y="320.22" width="3.60" height="3.60" fill="#c9cfd5"/>
<rect x="187.88" y="334.30" width="3.60" height="3.60" fill="#c9cfd5"/>
<rect x="199.54" y="327.40" width="3.60" height="3.60" fill="#c9cfd5"/>
<rect x="211.20" y="331.54" width="3.60" height="3.60" fill="#c9cfd5"/>
<rect x="222.87" y="323.26" width="3.60" height="3.60" fill="#c9cfd5"/>
<rect x="234.53" y="334.30" width="3.60" height="3.60" fill="#c9cfd5"/>
<rect x="246.20" y="331.54" width="3.60" height="3.60" fill="#c9cfd5"/>
<polyline points="84.7,326.4 96.4,330.6 108.0,326.4 119.7,326.4 131.4,326.4 143.0,329.2 154.7,333.3 166.3,332.0 178.0,332.0 189.7,327.8 201.3,325.1 213.0,327.8 224.7,327.8 236.3,327.8 248.0,327.8" fill="none" stroke="#cfd4d9" stroke-width="0.8"/>
<circle cx="84.70" cy="326.44" r="1.50" fill="none" stroke="#c9cfd5" stroke-width="0.6"/>
<circle cx="96.36" cy="330.58" r="1.50" fill="none" stroke="#c9cfd5" stroke-width="0.6"/>
<circle cx="108.03" cy="326.44" r="1.50" fill="none" stroke="#c9cfd5" stroke-width="0.6"/>
<circle cx="119.69" cy="326.44" r="1.50" fill="none" stroke="#c9cfd5" stroke-width="0.6"/>
<circle cx="131.36" cy="326.44" r="1.50" fill="none" stroke="#c9cfd5" stroke-width="0.6"/>
<circle cx="143.02" cy="329.20" r="1.50" fill="none" stroke="#c9cfd5" stroke-width="0.6"/>
<circle cx="154.68" cy="333.34" r="1.50" fill="none" stroke="#c9cfd5" stroke-width="0.6"/>
<circle cx="166.35" cy="331.96" r="1.50" fill="none" stroke="#c9cfd5" stroke-width="0.6"/>
<circle cx="178.01" cy="331.96" r="1.50" fill="none" stroke="#c9cfd5" stroke-width="0.6"/>
<circle cx="189.68" cy="327.82" r="1.50" fill="none" stroke="#c9cfd5" stroke-width="0.6"/>
<circle cx="201.34" cy="325.06" r="1.50" fill="none" stroke="#c9cfd5" stroke-width="0.6"/>
<circle cx="213.00" cy="327.82" r="1.50" fill="none" stroke="#c9cfd5" stroke-width="0.6"/>
<circle cx="224.67" cy="327.82" r="1.50" fill="none" stroke="#c9cfd5" stroke-width="0.6"/>
<circle cx="236.33" cy="327.82" r="1.50" fill="none" stroke="#c9cfd5" stroke-width="0.6"/>
<circle cx="248.00" cy="327.82" r="1.50" fill="none" stroke="#c9cfd5" stroke-width="0.6"/>
<polyline points="84.7,366.5 96.4,365.1 108.0,362.3 119.7,360.9 131.4,362.3 143.0,363.7 154.7,369.2 166.3,363.7 178.0,366.5 189.7,360.9 201.3,355.4 213.0,360.9 224.7,369.2 236.3,349.9 248.0,352.7" fill="none" stroke="#cfd4d9" stroke-width="0.8"/>
<path d="M84.70 364.48L86.68 367.90L82.72 367.90Z" fill="none" stroke="#c9cfd5" stroke-width="0.6"/>
<path d="M96.36 363.10L98.34 366.52L94.38 366.52Z" fill="none" stroke="#c9cfd5" stroke-width="0.6"/>
<path d="M108.03 360.34L110.01 363.76L106.05 363.76Z" fill="none" stroke="#c9cfd5" stroke-width="0.6"/>
<path d="M119.69 358.96L121.67 362.38L117.71 362.38Z" fill="none" stroke="#c9cfd5" stroke-width="0.6"/>
<path d="M131.36 360.34L133.34 363.76L129.38 363.76Z" fill="none" stroke="#c9cfd5" stroke-width="0.6"/>
<path d="M143.02 361.72L145.00 365.14L141.04 365.14Z" fill="none" stroke="#c9cfd5" stroke-width="0.6"/>
<path d="M154.68 367.24L156.66 370.66L152.70 370.66Z" fill="none" stroke="#c9cfd5" stroke-width="0.6"/>
<path d="M166.35 361.72L168.33 365.14L164.37 365.14Z" fill="none" stroke="#c9cfd5" stroke-width="0.6"/>
<path d="M178.01 364.48L179.99 367.90L176.03 367.90Z" fill="none" stroke="#c9cfd5" stroke-width="0.6"/>
<path d="M189.68 358.96L191.66 362.38L187.70 362.38Z" fill="none" stroke="#c9cfd5" stroke-width="0.6"/>
<path d="M201.34 353.44L203.32 356.86L199.36 356.86Z" fill="none" stroke="#c9cfd5" stroke-width="0.6"/>
<path d="M213.00 358.96L214.98 362.38L211.02 362.38Z" fill="none" stroke="#c9cfd5" stroke-width="0.6"/>
<path d="M224.67 367.24L226.65 370.66L222.69 370.66Z" fill="none" stroke="#c9cfd5" stroke-width="0.6"/>
<path d="M236.33 347.92L238.31 351.34L234.35 351.34Z" fill="none" stroke="#c9cfd5" stroke-width="0.6"/>
<path d="M248.00 350.68L249.98 354.10L246.02 354.10Z" fill="none" stroke="#c9cfd5" stroke-width="0.6"/>
<polyline points="84.7,337.5 96.4,340.2 108.0,337.5 119.7,338.9 131.4,338.9 143.0,341.6 154.7,338.9 166.3,349.9 178.0,347.1 189.7,341.6 201.3,336.1 213.0,338.9 224.7,338.9 236.3,341.6 248.0,338.9" fill="none" stroke="#cfd4d9" stroke-width="0.8"/>
<circle cx="84.70" cy="337.48" r="1.8" fill="#c9cfd5"/>
<circle cx="96.36" cy="340.24" r="1.8" fill="#c9cfd5"/>
<circle cx="108.03" cy="337.48" r="1.8" fill="#c9cfd5"/>
<circle cx="119.69" cy="338.86" r="1.8" fill="#c9cfd5"/>
<circle cx="131.36" cy="338.86" r="1.8" fill="#c9cfd5"/>
<circle cx="143.02" cy="341.62" r="1.8" fill="#c9cfd5"/>
<circle cx="154.68" cy="338.86" r="1.8" fill="#c9cfd5"/>
<circle cx="166.35" cy="349.90" r="1.8" fill="#c9cfd5"/>
<circle cx="178.01" cy="347.14" r="1.8" fill="#c9cfd5"/>
<circle cx="189.68" cy="341.62" r="1.8" fill="#c9cfd5"/>
<circle cx="201.34" cy="336.10" r="1.8" fill="#c9cfd5"/>
<circle cx="213.00" cy="338.86" r="1.8" fill="#c9cfd5"/>
<circle cx="224.67" cy="338.86" r="1.8" fill="#c9cfd5"/>
<circle cx="236.33" cy="341.62" r="1.8" fill="#c9cfd5"/>
<circle cx="248.00" cy="338.86" r="1.8" fill="#c9cfd5"/>
<polyline points="84.7,345.3 96.4,343.2 108.0,349.6 119.7,342.2 131.4,358.3 143.0,357.2 154.7,361.4 166.3,356.5 178.0,342.7 189.7,343.6 201.3,352.5 213.0,347.8 224.7,337.7 236.3,350.9 248.0,346.7" fill="none" stroke="#cfd4d9" stroke-width="0.8"/>
<rect x="83.20" y="343.76" width="3.00" height="3.00" fill="none" stroke="#c9cfd5" stroke-width="0.6"/>
<rect x="82.90" y="343.46" width="3.60" height="1.80" fill="#c9cfd5"/>
<rect x="94.86" y="341.69" width="3.00" height="3.00" fill="none" stroke="#c9cfd5" stroke-width="0.6"/>
<rect x="94.56" y="341.39" width="3.60" height="1.80" fill="#c9cfd5"/>
<rect x="106.53" y="348.08" width="3.00" height="3.00" fill="none" stroke="#c9cfd5" stroke-width="0.6"/>
<rect x="106.23" y="347.78" width="3.60" height="1.80" fill="#c9cfd5"/>
<rect x="118.19" y="340.68" width="3.00" height="3.00" fill="none" stroke="#c9cfd5" stroke-width="0.6"/>
<rect x="117.89" y="340.38" width="3.60" height="1.80" fill="#c9cfd5"/>
<rect x="129.86" y="356.75" width="3.00" height="3.00" fill="none" stroke="#c9cfd5" stroke-width="0.6"/>
<rect x="129.56" y="356.45" width="3.60" height="1.80" fill="#c9cfd5"/>
<rect x="141.52" y="355.66" width="3.00" height="3.00" fill="none" stroke="#c9cfd5" stroke-width="0.6"/>
<rect x="141.22" y="355.36" width="3.60" height="1.80" fill="#c9cfd5"/>
<rect x="153.18" y="359.92" width="3.00" height="3.00" fill="none" stroke="#c9cfd5" stroke-width="0.6"/>
<rect x="152.88" y="359.62" width="3.60" height="1.80" fill="#c9cfd5"/>
<rect x="164.85" y="355.01" width="3.00" height="3.00" fill="none" stroke="#c9cfd5" stroke-width="0.6"/>
<rect x="164.55" y="354.71" width="3.60" height="1.80" fill="#c9cfd5"/>
<rect x="176.51" y="341.15" width="3.00" height="3.00" fill="none" stroke="#c9cfd5" stroke-width="0.6"/>
<rect x="176.21" y="340.85" width="3.60" height="1.80" fill="#c9cfd5"/>
<rect x="188.18" y="342.13" width="3.00" height="3.00" fill="none" stroke="#c9cfd5" stroke-width="0.6"/>
<rect x="187.88" y="341.83" width="3.60" height="1.80" fill="#c9cfd5"/>
<rect x="199.84" y="350.98" width="3.00" height="3.00" fill="none" stroke="#c9cfd5" stroke-width="0.6"/>
<rect x="199.54" y="350.68" width="3.60" height="1.80" fill="#c9cfd5"/>
<rect x="211.50" y="346.28" width="3.00" height="3.00" fill="none" stroke="#c9cfd5" stroke-width="0.6"/>
<rect x="211.20" y="345.98" width="3.60" height="1.80" fill="#c9cfd5"/>
<rect x="223.17" y="336.18" width="3.00" height="3.00" fill="none" stroke="#c9cfd5" stroke-width="0.6"/>
<rect x="222.87" y="335.88" width="3.60" height="1.80" fill="#c9cfd5"/>
<rect x="234.83" y="349.39" width="3.00" height="3.00" fill="none" stroke="#c9cfd5" stroke-width="0.6"/>
<rect x="234.53" y="349.09" width="3.60" height="1.80" fill="#c9cfd5"/>
<rect x="246.50" y="345.24" width="3.00" height="3.00" fill="none" stroke="#c9cfd5" stroke-width="0.6"/>
<rect x="246.20" y="344.94" width="3.60" height="1.80" fill="#c9cfd5"/>
<polyline points="84.7,347.6 96.4,342.1 108.0,345.6 119.7,355.9 131.4,361.9 143.0,360.7 154.7,351.4 166.3,348.6 178.0,342.5 189.7,339.8 201.3,338.0 213.0,349.2 224.7,354.2 236.3,342.7 248.0,339.8" fill="none" stroke="#cfd4d9" stroke-width="0.8"/>
<path d="M84.70 345.65L86.68 349.07L82.72 349.07Z" fill="none" stroke="#c9cfd5" stroke-width="0.6"/>
<path d="M96.36 340.09L98.34 343.51L94.38 343.51Z" fill="none" stroke="#c9cfd5" stroke-width="0.6"/>
<path d="M108.03 343.59L110.01 347.01L106.05 347.01Z" fill="none" stroke="#c9cfd5" stroke-width="0.6"/>
<path d="M119.69 353.96L121.67 357.38L117.71 357.38Z" fill="none" stroke="#c9cfd5" stroke-width="0.6"/>
<path d="M131.36 359.96L133.34 363.38L129.38 363.38Z" fill="none" stroke="#c9cfd5" stroke-width="0.6"/>
<path d="M143.02 358.70L145.00 362.12L141.04 362.12Z" fill="none" stroke="#c9cfd5" stroke-width="0.6"/>
<path d="M154.68 349.40L156.66 352.82L152.70 352.82Z" fill="none" stroke="#c9cfd5" stroke-width="0.6"/>
<path d="M166.35 346.63L168.33 350.05L164.37 350.05Z" fill="none" stroke="#c9cfd5" stroke-width="0.6"/>
<path d="M178.01 340.48L179.99 343.90L176.03 343.90Z" fill="none" stroke="#c9cfd5" stroke-width="0.6"/>
<path d="M189.68 337.85L191.66 341.27L187.70 341.27Z" fill="none" stroke="#c9cfd5" stroke-width="0.6"/>
<path d="M201.34 336.02L203.32 339.44L199.36 339.44Z" fill="none" stroke="#c9cfd5" stroke-width="0.6"/>
<path d="M213.00 347.20L214.98 350.62L211.02 350.62Z" fill="none" stroke="#c9cfd5" stroke-width="0.6"/>
<path d="M224.67 352.25L226.65 355.67L222.69 355.67Z" fill="none" stroke="#c9cfd5" stroke-width="0.6"/>
<path d="M236.33 340.67L238.31 344.09L234.35 344.09Z" fill="none" stroke="#c9cfd5" stroke-width="0.6"/>
<path d="M248.00 337.82L249.98 341.24L246.02 341.24Z" fill="none" stroke="#c9cfd5" stroke-width="0.6"/>
<polyline points="84.7,356.8 96.4,341.6 108.0,366.5 119.7,353.0 131.4,359.3 143.0,349.6 154.7,350.8 166.3,352.6 178.0,348.7 189.7,336.7 201.3,351.3 213.0,347.5 224.7,353.6 236.3,345.5 248.0,350.5" fill="none" stroke="#cfd4d9" stroke-width="0.8"/>
<path d="M84.70 354.66L86.86 356.82L84.70 358.98L82.54 356.82Z" fill="none" stroke="#c9cfd5" stroke-width="0.6"/>
<path d="M96.36 339.48L98.52 341.64L96.36 343.80L94.20 341.64Z" fill="none" stroke="#c9cfd5" stroke-width="0.6"/>
<path d="M108.03 364.30L110.19 366.46L108.03 368.62L105.87 366.46Z" fill="none" stroke="#c9cfd5" stroke-width="0.6"/>
<path d="M119.69 350.84L121.85 353.00L119.69 355.16L117.53 353.00Z" fill="none" stroke="#c9cfd5" stroke-width="0.6"/>
<path d="M131.36 357.17L133.52 359.33L131.36 361.49L129.20 359.33Z" fill="none" stroke="#c9cfd5" stroke-width="0.6"/>
<path d="M143.02 347.42L145.18 349.58L143.02 351.74L140.86 349.58Z" fill="none" stroke="#c9cfd5" stroke-width="0.6"/>
<path d="M154.68 348.61L156.84 350.77L154.68 352.93L152.52 350.77Z" fill="none" stroke="#c9cfd5" stroke-width="0.6"/>
<path d="M166.35 350.43L168.51 352.59L166.35 354.75L164.19 352.59Z" fill="none" stroke="#c9cfd5" stroke-width="0.6"/>
<path d="M178.01 346.55L180.17 348.71L178.01 350.87L175.85 348.71Z" fill="none" stroke="#c9cfd5" stroke-width="0.6"/>
<path d="M189.68 334.51L191.84 336.67L189.68 338.83L187.52 336.67Z" fill="none" stroke="#c9cfd5" stroke-width="0.6"/>
<path d="M201.34 349.14L203.50 351.30L201.34 353.46L199.18 351.30Z" fill="none" stroke="#c9cfd5" stroke-width="0.6"/>
<path d="M213.00 345.30L215.16 347.46L213.00 349.62L210.84 347.46Z" fill="none" stroke="#c9cfd5" stroke-width="0.6"/>
<path d="M224.67 351.49L226.83 353.65L224.67 355.81L222.51 353.65Z" fill="none" stroke="#c9cfd5" stroke-width="0.6"/>
<path d="M236.33 343.37L238.49 345.53L236.33 347.69L234.17 345.53Z" fill="none" stroke="#c9cfd5" stroke-width="0.6"/>
<path d="M248.00 348.31L250.16 350.47L248.00 352.63L245.84 350.47Z" fill="none" stroke="#c9cfd5" stroke-width="0.6"/>
<polyline points="84.7,364.6 96.4,346.6 108.0,364.4 119.7,366.5 131.4,349.4 143.0,362.3 154.7,351.1 166.3,342.7 178.0,359.4 189.7,355.3 201.3,338.4 213.0,354.8 224.7,355.8 236.3,349.2 248.0,349.3" fill="none" stroke="#cfd4d9" stroke-width="0.8"/>
<rect x="82.90" y="362.80" width="3.60" height="3.60" fill="#c9cfd5"/>
<rect x="94.56" y="344.75" width="3.60" height="3.60" fill="#c9cfd5"/>
<rect x="106.23" y="362.61" width="3.60" height="3.60" fill="#c9cfd5"/>
<rect x="117.89" y="364.66" width="3.60" height="3.60" fill="#c9cfd5"/>
<rect x="129.56" y="347.56" width="3.60" height="3.60" fill="#c9cfd5"/>
<rect x="141.22" y="360.52" width="3.60" height="3.60" fill="#c9cfd5"/>
<rect x="152.88" y="349.32" width="3.60" height="3.60" fill="#c9cfd5"/>
<rect x="164.55" y="340.89" width="3.60" height="3.60" fill="#c9cfd5"/>
<rect x="176.21" y="357.61" width="3.60" height="3.60" fill="#c9cfd5"/>
<rect x="187.88" y="353.53" width="3.60" height="3.60" fill="#c9cfd5"/>
<rect x="199.54" y="336.62" width="3.60" height="3.60" fill="#c9cfd5"/>
<rect x="211.20" y="353.03" width="3.60" height="3.60" fill="#c9cfd5"/>
<rect x="222.87" y="354.05" width="3.60" height="3.60" fill="#c9cfd5"/>
<rect x="234.53" y="347.36" width="3.60" height="3.60" fill="#c9cfd5"/>
<rect x="246.20" y="347.49" width="3.60" height="3.60" fill="#c9cfd5"/>
<polyline points="84.7,342.5 96.4,352.7 108.0,366.5 119.7,342.0 131.4,348.5 143.0,354.2 154.7,341.5 166.3,343.8 178.0,346.0 189.7,350.9 201.3,346.4 213.0,333.3 224.7,341.6 236.3,344.6 248.0,353.2" fill="none" stroke="#cfd4d9" stroke-width="0.8"/>
<path d="M84.70 340.49L86.68 342.47L84.70 344.45L82.72 342.47Z" fill="#c9cfd5"/>
<path d="M96.36 350.75L98.34 352.73L96.36 354.71L94.38 352.73Z" fill="#c9cfd5"/>
<path d="M108.03 364.48L110.01 366.46L108.03 368.44L106.05 366.46Z" fill="#c9cfd5"/>
<path d="M119.69 340.04L121.67 342.02L119.69 344.00L117.71 342.02Z" fill="#c9cfd5"/>
<path d="M131.36 346.48L133.34 348.46L131.36 350.44L129.38 348.46Z" fill="#c9cfd5"/>
<path d="M143.02 352.22L145.00 354.20L143.02 356.18L141.04 354.20Z" fill="#c9cfd5"/>
<path d="M154.68 339.54L156.66 341.52L154.68 343.50L152.70 341.52Z" fill="#c9cfd5"/>
<path d="M166.35 341.87L168.33 343.85L166.35 345.83L164.37 343.85Z" fill="#c9cfd5"/>
<path d="M178.01 343.98L179.99 345.96L178.01 347.94L176.03 345.96Z" fill="#c9cfd5"/>
<path d="M189.68 348.88L191.66 350.86L189.68 352.84L187.70 350.86Z" fill="#c9cfd5"/>
<path d="M201.34 344.38L203.32 346.36L201.34 348.34L199.36 346.36Z" fill="#c9cfd5"/>
<path d="M213.00 331.36L214.98 333.34L213.00 335.32L211.02 333.34Z" fill="#c9cfd5"/>
<path d="M224.67 339.64L226.65 341.62L224.67 343.60L222.69 341.62Z" fill="#c9cfd5"/>
<path d="M236.33 342.60L238.31 344.58L236.33 346.56L234.35 344.58Z" fill="#c9cfd5"/>
<path d="M248.00 351.19L249.98 353.17L248.00 355.15L246.02 353.17Z" fill="#c9cfd5"/>
<polyline points="84.7,347.8 96.4,349.9 108.0,347.7 119.7,347.1 131.4,346.1 143.0,352.3 154.7,351.5 166.3,353.4 178.0,348.6 189.7,343.0 201.3,343.2 213.0,347.3 224.7,343.2 236.3,343.7 248.0,350.5" fill="none" stroke="#cfd4d9" stroke-width="0.8"/>
<circle cx="84.70" cy="347.82" r="1.50" fill="none" stroke="#c9cfd5" stroke-width="0.6"/>
<path d="M82.90 347.82A1.8 1.8 0 0 0 86.50 347.82Z" fill="#c9cfd5"/>
<circle cx="96.36" cy="349.90" r="1.50" fill="none" stroke="#c9cfd5" stroke-width="0.6"/>
<path d="M94.56 349.90A1.8 1.8 0 0 0 98.16 349.90Z" fill="#c9cfd5"/>
<circle cx="108.03" cy="347.73" r="1.50" fill="none" stroke="#c9cfd5" stroke-width="0.6"/>
<path d="M106.23 347.73A1.8 1.8 0 0 0 109.83 347.73Z" fill="#c9cfd5"/>
<circle cx="119.69" cy="347.06" r="1.50" fill="none" stroke="#c9cfd5" stroke-width="0.6"/>
<path d="M117.89 347.06A1.8 1.8 0 0 0 121.49 347.06Z" fill="#c9cfd5"/>
<circle cx="131.36" cy="346.15" r="1.50" fill="none" stroke="#c9cfd5" stroke-width="0.6"/>
<path d="M129.56 346.15A1.8 1.8 0 0 0 133.16 346.15Z" fill="#c9cfd5"/>
<circle cx="143.02" cy="352.28" r="1.50" fill="none" stroke="#c9cfd5" stroke-width="0.6"/>
<path d="M141.22 352.28A1.8 1.8 0 0 0 144.82 352.28Z" fill="#c9cfd5"/>
<circle cx="154.68" cy="351.49" r="1.50" fill="none" stroke="#c9cfd5" stroke-width="0.6"/>
<path d="M152.88 351.49A1.8 1.8 0 0 0 156.48 351.49Z" fill="#c9cfd5"/>
<circle cx="166.35" cy="353.36" r="1.50" fill="none" stroke="#c9cfd5" stroke-width="0.6"/>
<path d="M164.55 353.36A1.8 1.8 0 0 0 168.15 353.36Z" fill="#c9cfd5"/>
<circle cx="178.01" cy="348.61" r="1.50" fill="none" stroke="#c9cfd5" stroke-width="0.6"/>
<path d="M176.21 348.61A1.8 1.8 0 0 0 179.81 348.61Z" fill="#c9cfd5"/>
<circle cx="189.68" cy="342.98" r="1.50" fill="none" stroke="#c9cfd5" stroke-width="0.6"/>
<path d="M187.88 342.98A1.8 1.8 0 0 0 191.48 342.98Z" fill="#c9cfd5"/>
<circle cx="201.34" cy="343.21" r="1.50" fill="none" stroke="#c9cfd5" stroke-width="0.6"/>
<path d="M199.54 343.21A1.8 1.8 0 0 0 203.14 343.21Z" fill="#c9cfd5"/>
<circle cx="213.00" cy="347.30" r="1.50" fill="none" stroke="#c9cfd5" stroke-width="0.6"/>
<path d="M211.20 347.30A1.8 1.8 0 0 0 214.80 347.30Z" fill="#c9cfd5"/>
<circle cx="224.67" cy="343.16" r="1.50" fill="none" stroke="#c9cfd5" stroke-width="0.6"/>
<path d="M222.87 343.16A1.8 1.8 0 0 0 226.47 343.16Z" fill="#c9cfd5"/>
<circle cx="236.33" cy="343.75" r="1.50" fill="none" stroke="#c9cfd5" stroke-width="0.6"/>
<path d="M234.53 343.75A1.8 1.8 0 0 0 238.13 343.75Z" fill="#c9cfd5"/>
<circle cx="248.00" cy="350.47" r="1.50" fill="none" stroke="#c9cfd5" stroke-width="0.6"/>
<path d="M246.20 350.47A1.8 1.8 0 0 0 249.80 350.47Z" fill="#c9cfd5"/>
<polyline points="84.7,351.1 96.4,346.6 108.0,358.6 119.7,340.8 131.4,350.2 143.0,344.9 154.7,349.7 166.3,363.0 178.0,364.9 189.7,342.8 201.3,349.3 213.0,345.8 224.7,342.6 236.3,340.3 248.0,341.2" fill="none" stroke="#cfd4d9" stroke-width="0.8"/>
<circle cx="84.70" cy="351.08" r="1.50" fill="none" stroke="#c9cfd5" stroke-width="0.6"/>
<path d="M82.90 351.08A1.8 1.8 0 0 1 86.50 351.08Z" fill="#c9cfd5"/>
<circle cx="96.36" cy="346.58" r="1.50" fill="none" stroke="#c9cfd5" stroke-width="0.6"/>
<path d="M94.56 346.58A1.8 1.8 0 0 1 98.16 346.58Z" fill="#c9cfd5"/>
<circle cx="108.03" cy="358.65" r="1.50" fill="none" stroke="#c9cfd5" stroke-width="0.6"/>
<path d="M106.23 358.65A1.8 1.8 0 0 1 109.83 358.65Z" fill="#c9cfd5"/>
<circle cx="119.69" cy="340.75" r="1.50" fill="none" stroke="#c9cfd5" stroke-width="0.6"/>
<path d="M117.89 340.75A1.8 1.8 0 0 1 121.49 340.75Z" fill="#c9cfd5"/>
<circle cx="131.36" cy="350.22" r="1.50" fill="none" stroke="#c9cfd5" stroke-width="0.6"/>
<path d="M129.56 350.22A1.8 1.8 0 0 1 133.16 350.22Z" fill="#c9cfd5"/>
<circle cx="143.02" cy="344.88" r="1.50" fill="none" stroke="#c9cfd5" stroke-width="0.6"/>
<path d="M141.22 344.88A1.8 1.8 0 0 1 144.82 344.88Z" fill="#c9cfd5"/>
<circle cx="154.68" cy="349.67" r="1.50" fill="none" stroke="#c9cfd5" stroke-width="0.6"/>
<path d="M152.88 349.67A1.8 1.8 0 0 1 156.48 349.67Z" fill="#c9cfd5"/>
<circle cx="166.35" cy="363.03" r="1.50" fill="none" stroke="#c9cfd5" stroke-width="0.6"/>
<path d="M164.55 363.03A1.8 1.8 0 0 1 168.15 363.03Z" fill="#c9cfd5"/>
<circle cx="178.01" cy="364.90" r="1.50" fill="none" stroke="#c9cfd5" stroke-width="0.6"/>
<path d="M176.21 364.90A1.8 1.8 0 0 1 179.81 364.90Z" fill="#c9cfd5"/>
<circle cx="189.68" cy="342.75" r="1.50" fill="none" stroke="#c9cfd5" stroke-width="0.6"/>
<path d="M187.88 342.75A1.8 1.8 0 0 1 191.48 342.75Z" fill="#c9cfd5"/>
<circle cx="201.34" cy="349.31" r="1.50" fill="none" stroke="#c9cfd5" stroke-width="0.6"/>
<path d="M199.54 349.31A1.8 1.8 0 0 1 203.14 349.31Z" fill="#c9cfd5"/>
<circle cx="213.00" cy="345.83" r="1.50" fill="none" stroke="#c9cfd5" stroke-width="0.6"/>
<path d="M211.20 345.83A1.8 1.8 0 0 1 214.80 345.83Z" fill="#c9cfd5"/>
<circle cx="224.67" cy="342.60" r="1.50" fill="none" stroke="#c9cfd5" stroke-width="0.6"/>
<path d="M222.87 342.60A1.8 1.8 0 0 1 226.47 342.60Z" fill="#c9cfd5"/>
<circle cx="236.33" cy="340.27" r="1.50" fill="none" stroke="#c9cfd5" stroke-width="0.6"/>
<path d="M234.53 340.27A1.8 1.8 0 0 1 238.13 340.27Z" fill="#c9cfd5"/>
<circle cx="248.00" cy="341.19" r="1.50" fill="none" stroke="#c9cfd5" stroke-width="0.6"/>
<path d="M246.20 341.19A1.8 1.8 0 0 1 249.80 341.19Z" fill="#c9cfd5"/>
<polyline points="84.7,358.3 96.4,341.3 108.0,366.5 119.7,345.1 131.4,356.6 143.0,346.8 154.7,354.2 166.3,348.1 178.0,340.9 189.7,350.9 201.3,361.7 213.0,346.9 224.7,364.0 236.3,348.1 248.0,349.3" fill="none" stroke="#cfd4d9" stroke-width="0.8"/>
<path d="M84.70 360.27L86.68 356.85L82.72 356.85Z" fill="#c9cfd5"/>
<path d="M96.36 343.30L98.34 339.88L94.38 339.88Z" fill="#c9cfd5"/>
<path d="M108.03 368.44L110.01 365.02L106.05 365.02Z" fill="#c9cfd5"/>
<path d="M119.69 347.06L121.67 343.64L117.71 343.64Z" fill="#c9cfd5"/>
<path d="M131.36 358.62L133.34 355.20L129.38 355.20Z" fill="#c9cfd5"/>
<path d="M143.02 348.79L145.00 345.37L141.04 345.37Z" fill="#c9cfd5"/>
<path d="M154.68 356.15L156.66 352.73L152.70 352.73Z" fill="#c9cfd5"/>
<path d="M166.35 350.11L168.33 346.69L164.37 346.69Z" fill="#c9cfd5"/>
<path d="M178.01 342.92L179.99 339.50L176.03 339.50Z" fill="#c9cfd5"/>
<path d="M189.68 352.91L191.66 349.49L187.70 349.49Z" fill="#c9cfd5"/>
<path d="M201.34 363.71L203.32 360.29L199.36 360.29Z" fill="#c9cfd5"/>
<path d="M213.00 348.87L214.98 345.45L211.02 345.45Z" fill="#c9cfd5"/>
<path d="M224.67 366.03L226.65 362.61L222.69 362.61Z" fill="#c9cfd5"/>
<path d="M236.33 350.05L238.31 346.63L234.35 346.63Z" fill="#c9cfd5"/>
<path d="M248.00 351.29L249.98 347.87L246.02 347.87Z" fill="#c9cfd5"/>
<line x1="84.70" y1="340.79" x2="84.70" y2="359.01" stroke="#22677f" stroke-width="1.6"/>
<line x1="82.60" y1="340.79" x2="86.80" y2="340.79" stroke="#22677f" stroke-width="1.6"/>
<line x1="82.60" y1="359.01" x2="86.80" y2="359.01" stroke="#22677f" stroke-width="1.6"/>
<line x1="96.36" y1="340.79" x2="96.36" y2="362.32" stroke="#22677f" stroke-width="1.6"/>
<line x1="94.26" y1="340.79" x2="98.46" y2="340.79" stroke="#22677f" stroke-width="1.6"/>
<line x1="94.26" y1="362.32" x2="98.46" y2="362.32" stroke="#22677f" stroke-width="1.6"/>
<line x1="108.03" y1="346.45" x2="108.03" y2="363.84" stroke="#22677f" stroke-width="1.6"/>
<line x1="105.93" y1="346.45" x2="110.13" y2="346.45" stroke="#22677f" stroke-width="1.6"/>
<line x1="105.93" y1="363.84" x2="110.13" y2="363.84" stroke="#22677f" stroke-width="1.6"/>
<line x1="119.69" y1="347.55" x2="119.69" y2="361.77" stroke="#22677f" stroke-width="1.6"/>
<line x1="117.59" y1="347.55" x2="121.79" y2="347.55" stroke="#22677f" stroke-width="1.6"/>
<line x1="117.59" y1="361.77" x2="121.79" y2="361.77" stroke="#22677f" stroke-width="1.6"/>
<line x1="131.36" y1="347.55" x2="131.36" y2="361.77" stroke="#22677f" stroke-width="1.6"/>
<line x1="129.26" y1="347.55" x2="133.46" y2="347.55" stroke="#22677f" stroke-width="1.6"/>
<line x1="129.26" y1="361.77" x2="133.46" y2="361.77" stroke="#22677f" stroke-width="1.6"/>
<line x1="143.02" y1="344.38" x2="143.02" y2="361.77" stroke="#22677f" stroke-width="1.6"/>
<line x1="140.92" y1="344.38" x2="145.12" y2="344.38" stroke="#22677f" stroke-width="1.6"/>
<line x1="140.92" y1="361.77" x2="145.12" y2="361.77" stroke="#22677f" stroke-width="1.6"/>
<line x1="154.68" y1="340.79" x2="154.68" y2="362.32" stroke="#22677f" stroke-width="1.6"/>
<line x1="152.58" y1="340.79" x2="156.78" y2="340.79" stroke="#22677f" stroke-width="1.6"/>
<line x1="152.58" y1="362.32" x2="156.78" y2="362.32" stroke="#22677f" stroke-width="1.6"/>
<line x1="166.35" y1="340.38" x2="166.35" y2="364.67" stroke="#22677f" stroke-width="1.6"/>
<line x1="164.25" y1="340.38" x2="168.45" y2="340.38" stroke="#22677f" stroke-width="1.6"/>
<line x1="164.25" y1="364.67" x2="168.45" y2="364.67" stroke="#22677f" stroke-width="1.6"/>
<line x1="178.01" y1="341.34" x2="178.01" y2="358.46" stroke="#22677f" stroke-width="1.6"/>
<line x1="175.91" y1="341.34" x2="180.11" y2="341.34" stroke="#22677f" stroke-width="1.6"/>
<line x1="175.91" y1="358.46" x2="180.11" y2="358.46" stroke="#22677f" stroke-width="1.6"/>
<line x1="189.68" y1="336.79" x2="189.68" y2="355.14" stroke="#22677f" stroke-width="1.6"/>
<line x1="187.58" y1="336.79" x2="191.78" y2="336.79" stroke="#22677f" stroke-width="1.6"/>
<line x1="187.58" y1="355.14" x2="191.78" y2="355.14" stroke="#22677f" stroke-width="1.6"/>
<line x1="201.34" y1="336.79" x2="201.34" y2="355.56" stroke="#22677f" stroke-width="1.6"/>
<line x1="199.24" y1="336.79" x2="203.44" y2="336.79" stroke="#22677f" stroke-width="1.6"/>
<line x1="199.24" y1="355.56" x2="203.44" y2="355.56" stroke="#22677f" stroke-width="1.6"/>
<line x1="213.00" y1="336.79" x2="213.00" y2="345.07" stroke="#22677f" stroke-width="1.6"/>
<line x1="210.90" y1="336.79" x2="215.10" y2="336.79" stroke="#22677f" stroke-width="1.6"/>
<line x1="210.90" y1="345.07" x2="215.10" y2="345.07" stroke="#22677f" stroke-width="1.6"/>
<line x1="224.67" y1="334.44" x2="224.67" y2="350.87" stroke="#22677f" stroke-width="1.6"/>
<line x1="222.57" y1="334.44" x2="226.77" y2="334.44" stroke="#22677f" stroke-width="1.6"/>
<line x1="222.57" y1="350.87" x2="226.77" y2="350.87" stroke="#22677f" stroke-width="1.6"/>
<line x1="236.33" y1="338.45" x2="236.33" y2="343.97" stroke="#22677f" stroke-width="1.6"/>
<line x1="234.23" y1="338.45" x2="238.43" y2="338.45" stroke="#22677f" stroke-width="1.6"/>
<line x1="234.23" y1="343.97" x2="238.43" y2="343.97" stroke="#22677f" stroke-width="1.6"/>
<line x1="248.00" y1="339.41" x2="248.00" y2="347.55" stroke="#22677f" stroke-width="1.6"/>
<line x1="245.90" y1="339.41" x2="250.10" y2="339.41" stroke="#22677f" stroke-width="1.6"/>
<line x1="245.90" y1="347.55" x2="250.10" y2="347.55" stroke="#22677f" stroke-width="1.6"/>
<polyline points="84.7,351.3 96.4,351.3 108.0,355.1 119.7,352.2 131.4,352.7 143.0,352.7 154.7,354.5 166.3,350.2 178.0,351.3 189.7,346.0 201.3,346.0 213.0,341.8 224.7,346.3 236.3,342.7 248.0,343.0" fill="none" stroke="#22677f" stroke-width="1.7" stroke-linejoin="round"/>
<circle cx="84.70" cy="351.28" r="1.9" fill="#22677f"/>
<circle cx="96.36" cy="351.28" r="1.9" fill="#22677f"/>
<circle cx="108.03" cy="355.14" r="1.9" fill="#22677f"/>
<circle cx="119.69" cy="352.25" r="1.9" fill="#22677f"/>
<circle cx="131.36" cy="352.66" r="1.9" fill="#22677f"/>
<circle cx="143.02" cy="352.66" r="1.9" fill="#22677f"/>
<circle cx="154.68" cy="354.45" r="1.9" fill="#22677f"/>
<circle cx="166.35" cy="350.18" r="1.9" fill="#22677f"/>
<circle cx="178.01" cy="351.28" r="1.9" fill="#22677f"/>
<circle cx="189.68" cy="346.04" r="1.9" fill="#22677f"/>
<circle cx="201.34" cy="346.04" r="1.9" fill="#22677f"/>
<circle cx="213.00" cy="341.76" r="1.9" fill="#22677f"/>
<circle cx="224.67" cy="346.31" r="1.9" fill="#22677f"/>
<circle cx="236.33" cy="342.72" r="1.9" fill="#22677f"/>
<circle cx="248.00" cy="343.00" r="1.9" fill="#22677f"/>
<line x1="61.00" y1="293.90" x2="61.00" y2="405.90" stroke="#1a1a1a" stroke-width="1.7"/>
<line x1="56.00" y1="405.10" x2="61.00" y2="405.10" stroke="#1a1a1a" stroke-width="1.5"/>
<text font-size="10.1" text-anchor="end" fill="#1a1a1a" stroke="#1a1a1a" stroke-width="0.22" transform="translate(52.90 409.20) scale(0.93 1)">20</text>
<line x1="58.30" y1="398.20" x2="61.00" y2="398.20" stroke="#1a1a1a" stroke-width="1.5"/>
<line x1="56.00" y1="391.30" x2="61.00" y2="391.30" stroke="#1a1a1a" stroke-width="1.5"/>
<text font-size="10.1" text-anchor="end" fill="#1a1a1a" stroke="#1a1a1a" stroke-width="0.22" transform="translate(52.90 395.40) scale(0.93 1)">30</text>
<line x1="58.30" y1="384.40" x2="61.00" y2="384.40" stroke="#1a1a1a" stroke-width="1.5"/>
<line x1="56.00" y1="377.50" x2="61.00" y2="377.50" stroke="#1a1a1a" stroke-width="1.5"/>
<text font-size="10.1" text-anchor="end" fill="#1a1a1a" stroke="#1a1a1a" stroke-width="0.22" transform="translate(52.90 381.60) scale(0.93 1)">40</text>
<line x1="58.30" y1="370.60" x2="61.00" y2="370.60" stroke="#1a1a1a" stroke-width="1.5"/>
<line x1="56.00" y1="363.70" x2="61.00" y2="363.70" stroke="#1a1a1a" stroke-width="1.5"/>
<text font-size="10.1" text-anchor="end" fill="#1a1a1a" stroke="#1a1a1a" stroke-width="0.22" transform="translate(52.90 367.80) scale(0.93 1)">50</text>
<line x1="58.30" y1="356.80" x2="61.00" y2="356.80" stroke="#1a1a1a" stroke-width="1.5"/>
<line x1="56.00" y1="349.90" x2="61.00" y2="349.90" stroke="#1a1a1a" stroke-width="1.5"/>
<text font-size="10.1" text-anchor="end" fill="#1a1a1a" stroke="#1a1a1a" stroke-width="0.22" transform="translate(52.90 354.00) scale(0.93 1)">60</text>
<line x1="58.30" y1="343.00" x2="61.00" y2="343.00" stroke="#1a1a1a" stroke-width="1.5"/>
<line x1="56.00" y1="336.10" x2="61.00" y2="336.10" stroke="#1a1a1a" stroke-width="1.5"/>
<text font-size="10.1" text-anchor="end" fill="#1a1a1a" stroke="#1a1a1a" stroke-width="0.22" transform="translate(52.90 340.20) scale(0.93 1)">70</text>
<line x1="58.30" y1="329.20" x2="61.00" y2="329.20" stroke="#1a1a1a" stroke-width="1.5"/>
<line x1="56.00" y1="322.30" x2="61.00" y2="322.30" stroke="#1a1a1a" stroke-width="1.5"/>
<text font-size="10.1" text-anchor="end" fill="#1a1a1a" stroke="#1a1a1a" stroke-width="0.22" transform="translate(52.90 326.40) scale(0.93 1)">80</text>
<line x1="58.30" y1="315.40" x2="61.00" y2="315.40" stroke="#1a1a1a" stroke-width="1.5"/>
<line x1="56.00" y1="308.50" x2="61.00" y2="308.50" stroke="#1a1a1a" stroke-width="1.5"/>
<text font-size="10.1" text-anchor="end" fill="#1a1a1a" stroke="#1a1a1a" stroke-width="0.22" transform="translate(52.90 312.60) scale(0.93 1)">90</text>
<line x1="58.30" y1="301.60" x2="61.00" y2="301.60" stroke="#1a1a1a" stroke-width="1.5"/>
<line x1="56.00" y1="294.70" x2="61.00" y2="294.70" stroke="#1a1a1a" stroke-width="1.5"/>
<text font-size="10.1" text-anchor="end" fill="#1a1a1a" stroke="#1a1a1a" stroke-width="0.22" transform="translate(52.90 298.80) scale(0.93 1)">100</text>
<text font-size="10.1" text-anchor="middle" fill="#1a1a1a" stroke="#1a1a1a" stroke-width="0.22" transform="translate(17.90 349.90) rotate(-90) scale(0.93 1)">Diastolic blood pressure</text>
<text font-size="10.1" text-anchor="middle" fill="#1a1a1a" stroke="#1a1a1a" stroke-width="0.22" transform="translate(30.10 349.90) rotate(-90) scale(0.93 1)">(mmHg)</text>
<rect x="62.0" y="428.40" width="69.36" height="112.40" fill="#f0f5fa"/>
<rect x="131.36" y="428.40" width="116.54" height="112.40" fill="#f8f8f8"/>
<line x1="131.36" y1="428.40" x2="131.36" y2="540.80" stroke="#111" stroke-width="1.3" stroke-dasharray="3 2.6"/>
<polyline points="84.7,490.1 96.4,490.1 108.0,501.7 119.7,501.7 131.4,501.7 143.0,495.1 154.7,501.7 166.3,495.6 178.0,490.1 189.7,490.1 201.3,490.1 213.0,479.1 224.7,490.1 236.3,495.6 248.0,495.6" fill="none" stroke="#cfd4d9" stroke-width="0.8"/>
<circle cx="84.70" cy="490.12" r="1.50" fill="none" stroke="#c9cfd5" stroke-width="0.6"/>
<circle cx="96.36" cy="490.12" r="1.50" fill="none" stroke="#c9cfd5" stroke-width="0.6"/>
<circle cx="108.03" cy="501.71" r="1.50" fill="none" stroke="#c9cfd5" stroke-width="0.6"/>
<circle cx="119.69" cy="501.71" r="1.50" fill="none" stroke="#c9cfd5" stroke-width="0.6"/>
<circle cx="131.36" cy="501.71" r="1.50" fill="none" stroke="#c9cfd5" stroke-width="0.6"/>
<circle cx="143.02" cy="495.09" r="1.50" fill="none" stroke="#c9cfd5" stroke-width="0.6"/>
<circle cx="154.68" cy="501.71" r="1.50" fill="none" stroke="#c9cfd5" stroke-width="0.6"/>
<circle cx="166.35" cy="495.64" r="1.50" fill="none" stroke="#c9cfd5" stroke-width="0.6"/>
<circle cx="178.01" cy="490.12" r="1.50" fill="none" stroke="#c9cfd5" stroke-width="0.6"/>
<circle cx="189.68" cy="490.12" r="1.50" fill="none" stroke="#c9cfd5" stroke-width="0.6"/>
<circle cx="201.34" cy="490.12" r="1.50" fill="none" stroke="#c9cfd5" stroke-width="0.6"/>
<circle cx="213.00" cy="479.08" r="1.50" fill="none" stroke="#c9cfd5" stroke-width="0.6"/>
<circle cx="224.67" cy="490.12" r="1.50" fill="none" stroke="#c9cfd5" stroke-width="0.6"/>
<circle cx="236.33" cy="495.64" r="1.50" fill="none" stroke="#c9cfd5" stroke-width="0.6"/>
<circle cx="248.00" cy="495.64" r="1.50" fill="none" stroke="#c9cfd5" stroke-width="0.6"/>
<polyline points="84.7,457.0 96.4,446.0 108.0,457.0 119.7,450.9 131.4,450.9 143.0,434.9 154.7,446.0 166.3,440.2 178.0,468.0 189.7,457.0 201.3,457.0 213.0,468.0 224.7,446.0 236.3,446.0 248.0,446.0" fill="none" stroke="#cfd4d9" stroke-width="0.8"/>
<rect x="82.90" y="455.20" width="3.60" height="3.60" fill="#c9cfd5"/>
<rect x="94.56" y="444.16" width="3.60" height="3.60" fill="#c9cfd5"/>
<rect x="106.23" y="455.20" width="3.60" height="3.60" fill="#c9cfd5"/>
<rect x="117.89" y="449.13" width="3.60" height="3.60" fill="#c9cfd5"/>
<rect x="129.56" y="449.13" width="3.60" height="3.60" fill="#c9cfd5"/>
<rect x="141.22" y="433.12" width="3.60" height="3.60" fill="#c9cfd5"/>
<rect x="152.88" y="444.16" width="3.60" height="3.60" fill="#c9cfd5"/>
<rect x="164.55" y="438.36" width="3.60" height="3.60" fill="#c9cfd5"/>
<rect x="176.21" y="466.24" width="3.60" height="3.60" fill="#c9cfd5"/>
<rect x="187.88" y="455.20" width="3.60" height="3.60" fill="#c9cfd5"/>
<rect x="199.54" y="455.20" width="3.60" height="3.60" fill="#c9cfd5"/>
<rect x="211.20" y="466.24" width="3.60" height="3.60" fill="#c9cfd5"/>
<rect x="222.87" y="444.16" width="3.60" height="3.60" fill="#c9cfd5"/>
<rect x="234.53" y="444.16" width="3.60" height="3.60" fill="#c9cfd5"/>
<rect x="246.20" y="444.16" width="3.60" height="3.60" fill="#c9cfd5"/>
<polyline points="84.7,479.1 96.4,479.1 108.0,479.1 119.7,468.0 131.4,468.0 143.0,479.1 154.7,457.0 166.3,468.0 178.0,457.0 189.7,468.0 201.3,457.0 213.0,457.0 224.7,468.0 236.3,457.0 248.0,468.0" fill="none" stroke="#cfd4d9" stroke-width="0.8"/>
<circle cx="84.70" cy="479.08" r="1.8" fill="#c9cfd5"/>
<circle cx="96.36" cy="479.08" r="1.8" fill="#c9cfd5"/>
<circle cx="108.03" cy="479.08" r="1.8" fill="#c9cfd5"/>
<circle cx="119.69" cy="468.04" r="1.8" fill="#c9cfd5"/>
<circle cx="131.36" cy="468.04" r="1.8" fill="#c9cfd5"/>
<circle cx="143.02" cy="479.08" r="1.8" fill="#c9cfd5"/>
<circle cx="154.68" cy="457.00" r="1.8" fill="#c9cfd5"/>
<circle cx="166.35" cy="468.04" r="1.8" fill="#c9cfd5"/>
<circle cx="178.01" cy="457.00" r="1.8" fill="#c9cfd5"/>
<circle cx="189.68" cy="468.04" r="1.8" fill="#c9cfd5"/>
<circle cx="201.34" cy="457.00" r="1.8" fill="#c9cfd5"/>
<circle cx="213.00" cy="457.00" r="1.8" fill="#c9cfd5"/>
<circle cx="224.67" cy="468.04" r="1.8" fill="#c9cfd5"/>
<circle cx="236.33" cy="457.00" r="1.8" fill="#c9cfd5"/>
<circle cx="248.00" cy="468.04" r="1.8" fill="#c9cfd5"/>
<polyline points="84.7,489.8 96.4,489.8 108.0,479.1 119.7,495.6 131.4,495.6 143.0,495.1 154.7,479.1 166.3,484.6 178.0,490.1 189.7,490.1 201.3,479.1 213.0,490.1 224.7,479.1 236.3,495.6 248.0,495.1" fill="none" stroke="#cfd4d9" stroke-width="0.8"/>
<path d="M84.70 491.82L86.68 488.40L82.72 488.40Z" fill="#c9cfd5"/>
<path d="M96.36 491.82L98.34 488.40L94.38 488.40Z" fill="#c9cfd5"/>
<path d="M108.03 481.06L110.01 477.64L106.05 477.64Z" fill="#c9cfd5"/>
<path d="M119.69 497.62L121.67 494.20L117.71 494.20Z" fill="#c9cfd5"/>
<path d="M131.36 497.62L133.34 494.20L129.38 494.20Z" fill="#c9cfd5"/>
<path d="M143.02 497.07L145.00 493.65L141.04 493.65Z" fill="#c9cfd5"/>
<path d="M154.68 481.06L156.66 477.64L152.70 477.64Z" fill="#c9cfd5"/>
<path d="M166.35 486.58L168.33 483.16L164.37 483.16Z" fill="#c9cfd5"/>
<path d="M178.01 492.10L179.99 488.68L176.03 488.68Z" fill="#c9cfd5"/>
<path d="M189.68 492.10L191.66 488.68L187.70 488.68Z" fill="#c9cfd5"/>
<path d="M201.34 481.06L203.32 477.64L199.36 477.64Z" fill="#c9cfd5"/>
<path d="M213.00 492.10L214.98 488.68L211.02 488.68Z" fill="#c9cfd5"/>
<path d="M224.67 481.06L226.65 477.64L222.69 477.64Z" fill="#c9cfd5"/>
<path d="M236.33 497.62L238.31 494.20L234.35 494.20Z" fill="#c9cfd5"/>
<path d="M248.00 497.07L249.98 493.65L246.02 493.65Z" fill="#c9cfd5"/>
<polyline points="84.7,457.0 96.4,479.1 108.0,479.1 119.7,501.2 131.4,479.1 143.0,468.0 154.7,468.0 166.3,479.1 178.0,490.1 189.7,468.0 201.3,479.1 213.0,479.1 224.7,468.0 236.3,468.0 248.0,479.1" fill="none" stroke="#cfd4d9" stroke-width="0.8"/>
<rect x="83.20" y="455.50" width="3.00" height="3.00" fill="none" stroke="#c9cfd5" stroke-width="0.6"/>
<rect x="94.86" y="477.58" width="3.00" height="3.00" fill="none" stroke="#c9cfd5" stroke-width="0.6"/>
<rect x="106.53" y="477.58" width="3.00" height="3.00" fill="none" stroke="#c9cfd5" stroke-width="0.6"/>
<rect x="118.19" y="499.66" width="3.00" height="3.00" fill="none" stroke="#c9cfd5" stroke-width="0.6"/>
<rect x="129.86" y="477.58" width="3.00" height="3.00" fill="none" stroke="#c9cfd5" stroke-width="0.6"/>
<rect x="141.52" y="466.54" width="3.00" height="3.00" fill="none" stroke="#c9cfd5" stroke-width="0.6"/>
<rect x="153.18" y="466.54" width="3.00" height="3.00" fill="none" stroke="#c9cfd5" stroke-width="0.6"/>
<rect x="164.85" y="477.58" width="3.00" height="3.00" fill="none" stroke="#c9cfd5" stroke-width="0.6"/>
<rect x="176.51" y="488.62" width="3.00" height="3.00" fill="none" stroke="#c9cfd5" stroke-width="0.6"/>
<rect x="188.18" y="466.54" width="3.00" height="3.00" fill="none" stroke="#c9cfd5" stroke-width="0.6"/>
<rect x="199.84" y="477.58" width="3.00" height="3.00" fill="none" stroke="#c9cfd5" stroke-width="0.6"/>
<rect x="211.50" y="477.58" width="3.00" height="3.00" fill="none" stroke="#c9cfd5" stroke-width="0.6"/>
<rect x="223.17" y="466.54" width="3.00" height="3.00" fill="none" stroke="#c9cfd5" stroke-width="0.6"/>
<rect x="234.83" y="466.54" width="3.00" height="3.00" fill="none" stroke="#c9cfd5" stroke-width="0.6"/>
<rect x="246.50" y="477.58" width="3.00" height="3.00" fill="none" stroke="#c9cfd5" stroke-width="0.6"/>
<polyline points="84.7,468.0 96.4,468.0 108.0,468.0 119.7,468.0 131.4,468.0 143.0,468.0 154.7,457.0 166.3,479.1 178.0,490.1 189.7,501.2 201.3,468.0 213.0,501.2 224.7,490.1 236.3,468.0 248.0,468.0" fill="none" stroke="#cfd4d9" stroke-width="0.8"/>
<rect x="83.20" y="466.54" width="3.00" height="3.00" fill="none" stroke="#c9cfd5" stroke-width="0.6"/>
<rect x="82.90" y="466.24" width="3.60" height="1.80" fill="#c9cfd5"/>
<rect x="94.86" y="466.54" width="3.00" height="3.00" fill="none" stroke="#c9cfd5" stroke-width="0.6"/>
<rect x="94.56" y="466.24" width="3.60" height="1.80" fill="#c9cfd5"/>
<rect x="106.53" y="466.54" width="3.00" height="3.00" fill="none" stroke="#c9cfd5" stroke-width="0.6"/>
<rect x="106.23" y="466.24" width="3.60" height="1.80" fill="#c9cfd5"/>
<rect x="118.19" y="466.54" width="3.00" height="3.00" fill="none" stroke="#c9cfd5" stroke-width="0.6"/>
<rect x="117.89" y="466.24" width="3.60" height="1.80" fill="#c9cfd5"/>
<rect x="129.86" y="466.54" width="3.00" height="3.00" fill="none" stroke="#c9cfd5" stroke-width="0.6"/>
<rect x="129.56" y="466.24" width="3.60" height="1.80" fill="#c9cfd5"/>
<rect x="141.52" y="466.54" width="3.00" height="3.00" fill="none" stroke="#c9cfd5" stroke-width="0.6"/>
<rect x="141.22" y="466.24" width="3.60" height="1.80" fill="#c9cfd5"/>
<rect x="153.18" y="455.50" width="3.00" height="3.00" fill="none" stroke="#c9cfd5" stroke-width="0.6"/>
<rect x="152.88" y="455.20" width="3.60" height="1.80" fill="#c9cfd5"/>
<rect x="164.85" y="477.58" width="3.00" height="3.00" fill="none" stroke="#c9cfd5" stroke-width="0.6"/>
<rect x="164.55" y="477.28" width="3.60" height="1.80" fill="#c9cfd5"/>
<rect x="176.51" y="488.62" width="3.00" height="3.00" fill="none" stroke="#c9cfd5" stroke-width="0.6"/>
<rect x="176.21" y="488.32" width="3.60" height="1.80" fill="#c9cfd5"/>
<rect x="188.18" y="499.66" width="3.00" height="3.00" fill="none" stroke="#c9cfd5" stroke-width="0.6"/>
<rect x="187.88" y="499.36" width="3.60" height="1.80" fill="#c9cfd5"/>
<rect x="199.84" y="466.54" width="3.00" height="3.00" fill="none" stroke="#c9cfd5" stroke-width="0.6"/>
<rect x="199.54" y="466.24" width="3.60" height="1.80" fill="#c9cfd5"/>
<rect x="211.50" y="499.66" width="3.00" height="3.00" fill="none" stroke="#c9cfd5" stroke-width="0.6"/>
<rect x="211.20" y="499.36" width="3.60" height="1.80" fill="#c9cfd5"/>
<rect x="223.17" y="488.62" width="3.00" height="3.00" fill="none" stroke="#c9cfd5" stroke-width="0.6"/>
<rect x="222.87" y="488.32" width="3.60" height="1.80" fill="#c9cfd5"/>
<rect x="234.83" y="466.54" width="3.00" height="3.00" fill="none" stroke="#c9cfd5" stroke-width="0.6"/>
<rect x="234.53" y="466.24" width="3.60" height="1.80" fill="#c9cfd5"/>
<rect x="246.50" y="466.54" width="3.00" height="3.00" fill="none" stroke="#c9cfd5" stroke-width="0.6"/>
<rect x="246.20" y="466.24" width="3.60" height="1.80" fill="#c9cfd5"/>
<polyline points="84.7,490.1 96.4,490.1 108.0,490.1 119.7,490.1 131.4,479.1 143.0,468.0 154.7,457.0 166.3,446.0 178.0,457.0 189.7,490.1 201.3,501.2 213.0,479.1 224.7,479.1 236.3,457.0 248.0,468.0" fill="none" stroke="#cfd4d9" stroke-width="0.8"/>
<path d="M84.70 488.14L86.68 491.56L82.72 491.56Z" fill="none" stroke="#c9cfd5" stroke-width="0.6"/>
<path d="M96.36 488.14L98.34 491.56L94.38 491.56Z" fill="none" stroke="#c9cfd5" stroke-width="0.6"/>
<path d="M108.03 488.14L110.01 491.56L106.05 491.56Z" fill="none" stroke="#c9cfd5" stroke-width="0.6"/>
<path d="M119.69 488.14L121.67 491.56L117.71 491.56Z" fill="none" stroke="#c9cfd5" stroke-width="0.6"/>
<path d="M131.36 477.10L133.34 480.52L129.38 480.52Z" fill="none" stroke="#c9cfd5" stroke-width="0.6"/>
<path d="M143.02 466.06L145.00 469.48L141.04 469.48Z" fill="none" stroke="#c9cfd5" stroke-width="0.6"/>
<path d="M154.68 455.02L156.66 458.44L152.70 458.44Z" fill="none" stroke="#c9cfd5" stroke-width="0.6"/>
<path d="M166.35 443.98L168.33 447.40L164.37 447.40Z" fill="none" stroke="#c9cfd5" stroke-width="0.6"/>
<path d="M178.01 455.02L179.99 458.44L176.03 458.44Z" fill="none" stroke="#c9cfd5" stroke-width="0.6"/>
<path d="M189.68 488.14L191.66 491.56L187.70 491.56Z" fill="none" stroke="#c9cfd5" stroke-width="0.6"/>
<path d="M201.34 499.18L203.32 502.60L199.36 502.60Z" fill="none" stroke="#c9cfd5" stroke-width="0.6"/>
<path d="M213.00 477.10L214.98 480.52L211.02 480.52Z" fill="none" stroke="#c9cfd5" stroke-width="0.6"/>
<path d="M224.67 477.10L226.65 480.52L222.69 480.52Z" fill="none" stroke="#c9cfd5" stroke-width="0.6"/>
<path d="M236.33 455.02L238.31 458.44L234.35 458.44Z" fill="none" stroke="#c9cfd5" stroke-width="0.6"/>
<path d="M248.00 466.06L249.98 469.48L246.02 469.48Z" fill="none" stroke="#c9cfd5" stroke-width="0.6"/>
<polyline points="84.7,457.0 96.4,479.1 108.0,468.0 119.7,479.1 131.4,479.1 143.0,468.0 154.7,479.1 166.3,468.0 178.0,468.0 189.7,446.0 201.3,479.1 213.0,501.2 224.7,490.1 236.3,468.0 248.0,490.1" fill="none" stroke="#cfd4d9" stroke-width="0.8"/>
<path d="M84.70 454.84L86.86 457.00L84.70 459.16L82.54 457.00Z" fill="none" stroke="#c9cfd5" stroke-width="0.6"/>
<path d="M96.36 476.92L98.52 479.08L96.36 481.24L94.20 479.08Z" fill="none" stroke="#c9cfd5" stroke-width="0.6"/>
<path d="M108.03 465.88L110.19 468.04L108.03 470.20L105.87 468.04Z" fill="none" stroke="#c9cfd5" stroke-width="0.6"/>
<path d="M119.69 476.92L121.85 479.08L119.69 481.24L117.53 479.08Z" fill="none" stroke="#c9cfd5" stroke-width="0.6"/>
<path d="M131.36 476.92L133.52 479.08L131.36 481.24L129.20 479.08Z" fill="none" stroke="#c9cfd5" stroke-width="0.6"/>
<path d="M143.02 465.88L145.18 468.04L143.02 470.20L140.86 468.04Z" fill="none" stroke="#c9cfd5" stroke-width="0.6"/>
<path d="M154.68 476.92L156.84 479.08L154.68 481.24L152.52 479.08Z" fill="none" stroke="#c9cfd5" stroke-width="0.6"/>
<path d="M166.35 465.88L168.51 468.04L166.35 470.20L164.19 468.04Z" fill="none" stroke="#c9cfd5" stroke-width="0.6"/>
<path d="M178.01 465.88L180.17 468.04L178.01 470.20L175.85 468.04Z" fill="none" stroke="#c9cfd5" stroke-width="0.6"/>
<path d="M189.68 443.80L191.84 445.96L189.68 448.12L187.52 445.96Z" fill="none" stroke="#c9cfd5" stroke-width="0.6"/>
<path d="M201.34 476.92L203.50 479.08L201.34 481.24L199.18 479.08Z" fill="none" stroke="#c9cfd5" stroke-width="0.6"/>
<path d="M213.00 499.00L215.16 501.16L213.00 503.32L210.84 501.16Z" fill="none" stroke="#c9cfd5" stroke-width="0.6"/>
<path d="M224.67 487.96L226.83 490.12L224.67 492.28L222.51 490.12Z" fill="none" stroke="#c9cfd5" stroke-width="0.6"/>
<path d="M236.33 465.88L238.49 468.04L236.33 470.20L234.17 468.04Z" fill="none" stroke="#c9cfd5" stroke-width="0.6"/>
<path d="M248.00 487.96L250.16 490.12L248.00 492.28L245.84 490.12Z" fill="none" stroke="#c9cfd5" stroke-width="0.6"/>
<polyline points="84.7,479.1 96.4,479.1 108.0,490.1 119.7,468.0 131.4,501.2 143.0,468.0 154.7,457.0 166.3,479.1 178.0,457.0 189.7,479.1 201.3,468.0 213.0,490.1 224.7,490.1 236.3,479.1 248.0,479.1" fill="none" stroke="#cfd4d9" stroke-width="0.8"/>
<rect x="82.90" y="477.28" width="3.60" height="3.60" fill="#c9cfd5"/>
<rect x="94.56" y="477.28" width="3.60" height="3.60" fill="#c9cfd5"/>
<rect x="106.23" y="488.32" width="3.60" height="3.60" fill="#c9cfd5"/>
<rect x="117.89" y="466.24" width="3.60" height="3.60" fill="#c9cfd5"/>
<rect x="129.56" y="499.36" width="3.60" height="3.60" fill="#c9cfd5"/>
<rect x="141.22" y="466.24" width="3.60" height="3.60" fill="#c9cfd5"/>
<rect x="152.88" y="455.20" width="3.60" height="3.60" fill="#c9cfd5"/>
<rect x="164.55" y="477.28" width="3.60" height="3.60" fill="#c9cfd5"/>
<rect x="176.21" y="455.20" width="3.60" height="3.60" fill="#c9cfd5"/>
<rect x="187.88" y="477.28" width="3.60" height="3.60" fill="#c9cfd5"/>
<rect x="199.54" y="466.24" width="3.60" height="3.60" fill="#c9cfd5"/>
<rect x="211.20" y="488.32" width="3.60" height="3.60" fill="#c9cfd5"/>
<rect x="222.87" y="488.32" width="3.60" height="3.60" fill="#c9cfd5"/>
<rect x="234.53" y="477.28" width="3.60" height="3.60" fill="#c9cfd5"/>
<rect x="246.20" y="477.28" width="3.60" height="3.60" fill="#c9cfd5"/>
<polyline points="84.7,457.0 96.4,490.1 108.0,479.1 119.7,490.1 131.4,468.0 143.0,479.1 154.7,457.0 166.3,479.1 178.0,479.1 189.7,490.1 201.3,501.2 213.0,501.2 224.7,490.1 236.3,479.1 248.0,457.0" fill="none" stroke="#cfd4d9" stroke-width="0.8"/>
<path d="M84.70 455.02L86.68 457.00L84.70 458.98L82.72 457.00Z" fill="#c9cfd5"/>
<path d="M96.36 488.14L98.34 490.12L96.36 492.10L94.38 490.12Z" fill="#c9cfd5"/>
<path d="M108.03 477.10L110.01 479.08L108.03 481.06L106.05 479.08Z" fill="#c9cfd5"/>
<path d="M119.69 488.14L121.67 490.12L119.69 492.10L117.71 490.12Z" fill="#c9cfd5"/>
<path d="M131.36 466.06L133.34 468.04L131.36 470.02L129.38 468.04Z" fill="#c9cfd5"/>
<path d="M143.02 477.10L145.00 479.08L143.02 481.06L141.04 479.08Z" fill="#c9cfd5"/>
<path d="M154.68 455.02L156.66 457.00L154.68 458.98L152.70 457.00Z" fill="#c9cfd5"/>
<path d="M166.35 477.10L168.33 479.08L166.35 481.06L164.37 479.08Z" fill="#c9cfd5"/>
<path d="M178.01 477.10L179.99 479.08L178.01 481.06L176.03 479.08Z" fill="#c9cfd5"/>
<path d="M189.68 488.14L191.66 490.12L189.68 492.10L187.70 490.12Z" fill="#c9cfd5"/>
<path d="M201.34 499.18L203.32 501.16L201.34 503.14L199.36 501.16Z" fill="#c9cfd5"/>
<path d="M213.00 499.18L214.98 501.16L213.00 503.14L211.02 501.16Z" fill="#c9cfd5"/>
<path d="M224.67 488.14L226.65 490.12L224.67 492.10L222.69 490.12Z" fill="#c9cfd5"/>
<path d="M236.33 477.10L238.31 479.08L236.33 481.06L234.35 479.08Z" fill="#c9cfd5"/>
<path d="M248.00 455.02L249.98 457.00L248.00 458.98L246.02 457.00Z" fill="#c9cfd5"/>
<polyline points="84.7,468.0 96.4,468.0 108.0,479.1 119.7,479.1 131.4,501.2 143.0,490.1 154.7,457.0 166.3,490.1 178.0,479.1 189.7,468.0 201.3,479.1 213.0,479.1 224.7,457.0 236.3,468.0 248.0,479.1" fill="none" stroke="#cfd4d9" stroke-width="0.8"/>
<circle cx="84.70" cy="468.04" r="1.50" fill="none" stroke="#c9cfd5" stroke-width="0.6"/>
<path d="M82.90 468.04A1.8 1.8 0 0 0 86.50 468.04Z" fill="#c9cfd5"/>
<circle cx="96.36" cy="468.04" r="1.50" fill="none" stroke="#c9cfd5" stroke-width="0.6"/>
<path d="M94.56 468.04A1.8 1.8 0 0 0 98.16 468.04Z" fill="#c9cfd5"/>
<circle cx="108.03" cy="479.08" r="1.50" fill="none" stroke="#c9cfd5" stroke-width="0.6"/>
<path d="M106.23 479.08A1.8 1.8 0 0 0 109.83 479.08Z" fill="#c9cfd5"/>
<circle cx="119.69" cy="479.08" r="1.50" fill="none" stroke="#c9cfd5" stroke-width="0.6"/>
<path d="M117.89 479.08A1.8 1.8 0 0 0 121.49 479.08Z" fill="#c9cfd5"/>
<circle cx="131.36" cy="501.16" r="1.50" fill="none" stroke="#c9cfd5" stroke-width="0.6"/>
<path d="M129.56 501.16A1.8 1.8 0 0 0 133.16 501.16Z" fill="#c9cfd5"/>
<circle cx="143.02" cy="490.12" r="1.50" fill="none" stroke="#c9cfd5" stroke-width="0.6"/>
<path d="M141.22 490.12A1.8 1.8 0 0 0 144.82 490.12Z" fill="#c9cfd5"/>
<circle cx="154.68" cy="457.00" r="1.50" fill="none" stroke="#c9cfd5" stroke-width="0.6"/>
<path d="M152.88 457.00A1.8 1.8 0 0 0 156.48 457.00Z" fill="#c9cfd5"/>
<circle cx="166.35" cy="490.12" r="1.50" fill="none" stroke="#c9cfd5" stroke-width="0.6"/>
<path d="M164.55 490.12A1.8 1.8 0 0 0 168.15 490.12Z" fill="#c9cfd5"/>
<circle cx="178.01" cy="479.08" r="1.50" fill="none" stroke="#c9cfd5" stroke-width="0.6"/>
<path d="M176.21 479.08A1.8 1.8 0 0 0 179.81 479.08Z" fill="#c9cfd5"/>
<circle cx="189.68" cy="468.04" r="1.50" fill="none" stroke="#c9cfd5" stroke-width="0.6"/>
<path d="M187.88 468.04A1.8 1.8 0 0 0 191.48 468.04Z" fill="#c9cfd5"/>
<circle cx="201.34" cy="479.08" r="1.50" fill="none" stroke="#c9cfd5" stroke-width="0.6"/>
<path d="M199.54 479.08A1.8 1.8 0 0 0 203.14 479.08Z" fill="#c9cfd5"/>
<circle cx="213.00" cy="479.08" r="1.50" fill="none" stroke="#c9cfd5" stroke-width="0.6"/>
<path d="M211.20 479.08A1.8 1.8 0 0 0 214.80 479.08Z" fill="#c9cfd5"/>
<circle cx="224.67" cy="457.00" r="1.50" fill="none" stroke="#c9cfd5" stroke-width="0.6"/>
<path d="M222.87 457.00A1.8 1.8 0 0 0 226.47 457.00Z" fill="#c9cfd5"/>
<circle cx="236.33" cy="468.04" r="1.50" fill="none" stroke="#c9cfd5" stroke-width="0.6"/>
<path d="M234.53 468.04A1.8 1.8 0 0 0 238.13 468.04Z" fill="#c9cfd5"/>
<circle cx="248.00" cy="479.08" r="1.50" fill="none" stroke="#c9cfd5" stroke-width="0.6"/>
<path d="M246.20 479.08A1.8 1.8 0 0 0 249.80 479.08Z" fill="#c9cfd5"/>
<polyline points="84.7,468.0 96.4,479.1 108.0,468.0 119.7,468.0 131.4,490.1 143.0,479.1 154.7,490.1 166.3,479.1 178.0,468.0 189.7,490.1 201.3,479.1 213.0,490.1 224.7,479.1 236.3,468.0 248.0,490.1" fill="none" stroke="#cfd4d9" stroke-width="0.8"/>
<circle cx="84.70" cy="468.04" r="1.50" fill="none" stroke="#c9cfd5" stroke-width="0.6"/>
<path d="M82.90 468.04A1.8 1.8 0 0 1 86.50 468.04Z" fill="#c9cfd5"/>
<circle cx="96.36" cy="479.08" r="1.50" fill="none" stroke="#c9cfd5" stroke-width="0.6"/>
<path d="M94.56 479.08A1.8 1.8 0 0 1 98.16 479.08Z" fill="#c9cfd5"/>
<circle cx="108.03" cy="468.04" r="1.50" fill="none" stroke="#c9cfd5" stroke-width="0.6"/>
<path d="M106.23 468.04A1.8 1.8 0 0 1 109.83 468.04Z" fill="#c9cfd5"/>
<circle cx="119.69" cy="468.04" r="1.50" fill="none" stroke="#c9cfd5" stroke-width="0.6"/>
<path d="M117.89 468.04A1.8 1.8 0 0 1 121.49 468.04Z" fill="#c9cfd5"/>
<circle cx="131.36" cy="490.12" r="1.50" fill="none" stroke="#c9cfd5" stroke-width="0.6"/>
<path d="M129.56 490.12A1.8 1.8 0 0 1 133.16 490.12Z" fill="#c9cfd5"/>
<circle cx="143.02" cy="479.08" r="1.50" fill="none" stroke="#c9cfd5" stroke-width="0.6"/>
<path d="M141.22 479.08A1.8 1.8 0 0 1 144.82 479.08Z" fill="#c9cfd5"/>
<circle cx="154.68" cy="490.12" r="1.50" fill="none" stroke="#c9cfd5" stroke-width="0.6"/>
<path d="M152.88 490.12A1.8 1.8 0 0 1 156.48 490.12Z" fill="#c9cfd5"/>
<circle cx="166.35" cy="479.08" r="1.50" fill="none" stroke="#c9cfd5" stroke-width="0.6"/>
<path d="M164.55 479.08A1.8 1.8 0 0 1 168.15 479.08Z" fill="#c9cfd5"/>
<circle cx="178.01" cy="468.04" r="1.50" fill="none" stroke="#c9cfd5" stroke-width="0.6"/>
<path d="M176.21 468.04A1.8 1.8 0 0 1 179.81 468.04Z" fill="#c9cfd5"/>
<circle cx="189.68" cy="490.12" r="1.50" fill="none" stroke="#c9cfd5" stroke-width="0.6"/>
<path d="M187.88 490.12A1.8 1.8 0 0 1 191.48 490.12Z" fill="#c9cfd5"/>
<circle cx="201.34" cy="479.08" r="1.50" fill="none" stroke="#c9cfd5" stroke-width="0.6"/>
<path d="M199.54 479.08A1.8 1.8 0 0 1 203.14 479.08Z" fill="#c9cfd5"/>
<circle cx="213.00" cy="490.12" r="1.50" fill="none" stroke="#c9cfd5" stroke-width="0.6"/>
<path d="M211.20 490.12A1.8 1.8 0 0 1 214.80 490.12Z" fill="#c9cfd5"/>
<circle cx="224.67" cy="479.08" r="1.50" fill="none" stroke="#c9cfd5" stroke-width="0.6"/>
<path d="M222.87 479.08A1.8 1.8 0 0 1 226.47 479.08Z" fill="#c9cfd5"/>
<circle cx="236.33" cy="468.04" r="1.50" fill="none" stroke="#c9cfd5" stroke-width="0.6"/>
<path d="M234.53 468.04A1.8 1.8 0 0 1 238.13 468.04Z" fill="#c9cfd5"/>
<circle cx="248.00" cy="490.12" r="1.50" fill="none" stroke="#c9cfd5" stroke-width="0.6"/>
<path d="M246.20 490.12A1.8 1.8 0 0 1 249.80 490.12Z" fill="#c9cfd5"/>
<polyline points="84.7,457.0 96.4,457.0 108.0,468.0 119.7,490.1 131.4,501.2 143.0,479.1 154.7,468.0 166.3,479.1 178.0,479.1 189.7,479.1 201.3,479.1 213.0,468.0 224.7,490.1 236.3,468.0 248.0,479.1" fill="none" stroke="#cfd4d9" stroke-width="0.8"/>
<path d="M84.70 458.98L86.68 455.56L82.72 455.56Z" fill="#c9cfd5"/>
<path d="M96.36 458.98L98.34 455.56L94.38 455.56Z" fill="#c9cfd5"/>
<path d="M108.03 470.02L110.01 466.60L106.05 466.60Z" fill="#c9cfd5"/>
<path d="M119.69 492.10L121.67 488.68L117.71 488.68Z" fill="#c9cfd5"/>
<path d="M131.36 503.14L133.34 499.72L129.38 499.72Z" fill="#c9cfd5"/>
<path d="M143.02 481.06L145.00 477.64L141.04 477.64Z" fill="#c9cfd5"/>
<path d="M154.68 470.02L156.66 466.60L152.70 466.60Z" fill="#c9cfd5"/>
<path d="M166.35 481.06L168.33 477.64L164.37 477.64Z" fill="#c9cfd5"/>
<path d="M178.01 481.06L179.99 477.64L176.03 477.64Z" fill="#c9cfd5"/>
<path d="M189.68 481.06L191.66 477.64L187.70 477.64Z" fill="#c9cfd5"/>
<path d="M201.34 481.06L203.32 477.64L199.36 477.64Z" fill="#c9cfd5"/>
<path d="M213.00 470.02L214.98 466.60L211.02 466.60Z" fill="#c9cfd5"/>
<path d="M224.67 492.10L226.65 488.68L222.69 488.68Z" fill="#c9cfd5"/>
<path d="M236.33 470.02L238.31 466.60L234.35 466.60Z" fill="#c9cfd5"/>
<path d="M248.00 481.06L249.98 477.64L246.02 477.64Z" fill="#c9cfd5"/>
<line x1="84.70" y1="457.00" x2="84.70" y2="481.84" stroke="#22677f" stroke-width="1.6"/>
<line x1="82.60" y1="457.00" x2="86.80" y2="457.00" stroke="#22677f" stroke-width="1.6"/>
<line x1="82.60" y1="481.84" x2="86.80" y2="481.84" stroke="#22677f" stroke-width="1.6"/>
<line x1="96.36" y1="457.00" x2="96.36" y2="479.30" stroke="#22677f" stroke-width="1.6"/>
<line x1="94.26" y1="457.00" x2="98.46" y2="457.00" stroke="#22677f" stroke-width="1.6"/>
<line x1="94.26" y1="479.30" x2="98.46" y2="479.30" stroke="#22677f" stroke-width="1.6"/>
<line x1="108.03" y1="461.97" x2="108.03" y2="479.30" stroke="#22677f" stroke-width="1.6"/>
<line x1="105.93" y1="461.97" x2="110.13" y2="461.97" stroke="#22677f" stroke-width="1.6"/>
<line x1="105.93" y1="479.30" x2="110.13" y2="479.30" stroke="#22677f" stroke-width="1.6"/>
<line x1="119.69" y1="465.28" x2="119.69" y2="487.36" stroke="#22677f" stroke-width="1.6"/>
<line x1="117.59" y1="465.28" x2="121.79" y2="465.28" stroke="#22677f" stroke-width="1.6"/>
<line x1="117.59" y1="487.36" x2="121.79" y2="487.36" stroke="#22677f" stroke-width="1.6"/>
<line x1="131.36" y1="465.28" x2="131.36" y2="487.36" stroke="#22677f" stroke-width="1.6"/>
<line x1="129.26" y1="465.28" x2="133.46" y2="465.28" stroke="#22677f" stroke-width="1.6"/>
<line x1="129.26" y1="487.36" x2="133.46" y2="487.36" stroke="#22677f" stroke-width="1.6"/>
<line x1="143.02" y1="457.00" x2="143.02" y2="479.30" stroke="#22677f" stroke-width="1.6"/>
<line x1="140.92" y1="457.00" x2="145.12" y2="457.00" stroke="#22677f" stroke-width="1.6"/>
<line x1="140.92" y1="479.30" x2="145.12" y2="479.30" stroke="#22677f" stroke-width="1.6"/>
<line x1="154.68" y1="459.76" x2="154.68" y2="479.30" stroke="#22677f" stroke-width="1.6"/>
<line x1="152.58" y1="459.76" x2="156.78" y2="459.76" stroke="#22677f" stroke-width="1.6"/>
<line x1="152.58" y1="479.30" x2="156.78" y2="479.30" stroke="#22677f" stroke-width="1.6"/>
<line x1="166.35" y1="457.00" x2="166.35" y2="479.30" stroke="#22677f" stroke-width="1.6"/>
<line x1="164.25" y1="457.00" x2="168.45" y2="457.00" stroke="#22677f" stroke-width="1.6"/>
<line x1="164.25" y1="479.30" x2="168.45" y2="479.30" stroke="#22677f" stroke-width="1.6"/>
<line x1="178.01" y1="465.28" x2="178.01" y2="479.08" stroke="#22677f" stroke-width="1.6"/>
<line x1="175.91" y1="465.28" x2="180.11" y2="465.28" stroke="#22677f" stroke-width="1.6"/>
<line x1="175.91" y1="479.08" x2="180.11" y2="479.08" stroke="#22677f" stroke-width="1.6"/>
<line x1="189.68" y1="459.76" x2="189.68" y2="479.08" stroke="#22677f" stroke-width="1.6"/>
<line x1="187.58" y1="459.76" x2="191.78" y2="459.76" stroke="#22677f" stroke-width="1.6"/>
<line x1="187.58" y1="479.08" x2="191.78" y2="479.08" stroke="#22677f" stroke-width="1.6"/>
<line x1="201.34" y1="461.97" x2="201.34" y2="479.08" stroke="#22677f" stroke-width="1.6"/>
<line x1="199.24" y1="461.97" x2="203.44" y2="461.97" stroke="#22677f" stroke-width="1.6"/>
<line x1="199.24" y1="479.08" x2="203.44" y2="479.08" stroke="#22677f" stroke-width="1.6"/>
<line x1="213.00" y1="457.00" x2="213.00" y2="479.08" stroke="#22677f" stroke-width="1.6"/>
<line x1="210.90" y1="457.00" x2="215.10" y2="457.00" stroke="#22677f" stroke-width="1.6"/>
<line x1="210.90" y1="479.08" x2="215.10" y2="479.08" stroke="#22677f" stroke-width="1.6"/>
<line x1="224.67" y1="457.00" x2="224.67" y2="479.08" stroke="#22677f" stroke-width="1.6"/>
<line x1="222.57" y1="457.00" x2="226.77" y2="457.00" stroke="#22677f" stroke-width="1.6"/>
<line x1="222.57" y1="479.08" x2="226.77" y2="479.08" stroke="#22677f" stroke-width="1.6"/>
<line x1="236.33" y1="457.00" x2="236.33" y2="479.08" stroke="#22677f" stroke-width="1.6"/>
<line x1="234.23" y1="457.00" x2="238.43" y2="457.00" stroke="#22677f" stroke-width="1.6"/>
<line x1="234.23" y1="479.08" x2="238.43" y2="479.08" stroke="#22677f" stroke-width="1.6"/>
<line x1="248.00" y1="457.00" x2="248.00" y2="479.08" stroke="#22677f" stroke-width="1.6"/>
<line x1="245.90" y1="457.00" x2="250.10" y2="457.00" stroke="#22677f" stroke-width="1.6"/>
<line x1="245.90" y1="479.08" x2="250.10" y2="479.08" stroke="#22677f" stroke-width="1.6"/>
<polyline points="84.7,468.0 96.4,473.6 108.0,476.6 119.7,479.3 131.4,479.3 143.0,473.6 154.7,468.0 166.3,479.1 178.0,472.7 189.7,479.1 201.3,479.1 213.0,479.1 224.7,479.1 236.3,468.0 248.0,479.1" fill="none" stroke="#22677f" stroke-width="1.7" stroke-linejoin="round"/>
<circle cx="84.70" cy="468.04" r="1.9" fill="#22677f"/>
<circle cx="96.36" cy="473.56" r="1.9" fill="#22677f"/>
<circle cx="108.03" cy="476.60" r="1.9" fill="#22677f"/>
<circle cx="119.69" cy="479.30" r="1.9" fill="#22677f"/>
<circle cx="131.36" cy="479.30" r="1.9" fill="#22677f"/>
<circle cx="143.02" cy="473.56" r="1.9" fill="#22677f"/>
<circle cx="154.68" cy="468.04" r="1.9" fill="#22677f"/>
<circle cx="166.35" cy="479.08" r="1.9" fill="#22677f"/>
<circle cx="178.01" cy="472.73" r="1.9" fill="#22677f"/>
<circle cx="189.68" cy="479.08" r="1.9" fill="#22677f"/>
<circle cx="201.34" cy="479.08" r="1.9" fill="#22677f"/>
<circle cx="213.00" cy="479.08" r="1.9" fill="#22677f"/>
<circle cx="224.67" cy="479.08" r="1.9" fill="#22677f"/>
<circle cx="236.33" cy="468.04" r="1.9" fill="#22677f"/>
<circle cx="248.00" cy="479.08" r="1.9" fill="#22677f"/>
<line x1="61.00" y1="428.60" x2="61.00" y2="540.60" stroke="#1a1a1a" stroke-width="1.7"/>
<line x1="56.00" y1="539.80" x2="61.00" y2="539.80" stroke="#1a1a1a" stroke-width="1.5"/>
<text font-size="10.1" text-anchor="end" fill="#1a1a1a" stroke="#1a1a1a" stroke-width="0.22" transform="translate(52.90 543.90) scale(0.93 1)">5</text>
<line x1="58.30" y1="526.00" x2="61.00" y2="526.00" stroke="#1a1a1a" stroke-width="1.5"/>
<line x1="56.00" y1="512.20" x2="61.00" y2="512.20" stroke="#1a1a1a" stroke-width="1.5"/>
<text font-size="10.1" text-anchor="end" fill="#1a1a1a" stroke="#1a1a1a" stroke-width="0.22" transform="translate(52.90 516.30) scale(0.93 1)">10</text>
<line x1="58.30" y1="498.40" x2="61.00" y2="498.40" stroke="#1a1a1a" stroke-width="1.5"/>
<line x1="56.00" y1="484.60" x2="61.00" y2="484.60" stroke="#1a1a1a" stroke-width="1.5"/>
<text font-size="10.1" text-anchor="end" fill="#1a1a1a" stroke="#1a1a1a" stroke-width="0.22" transform="translate(52.90 488.70) scale(0.93 1)">15</text>
<line x1="58.30" y1="470.80" x2="61.00" y2="470.80" stroke="#1a1a1a" stroke-width="1.5"/>
<line x1="56.00" y1="457.00" x2="61.00" y2="457.00" stroke="#1a1a1a" stroke-width="1.5"/>
<text font-size="10.1" text-anchor="end" fill="#1a1a1a" stroke="#1a1a1a" stroke-width="0.22" transform="translate(52.90 461.10) scale(0.93 1)">20</text>
<line x1="58.30" y1="443.20" x2="61.00" y2="443.20" stroke="#1a1a1a" stroke-width="1.5"/>
<line x1="56.00" y1="429.40" x2="61.00" y2="429.40" stroke="#1a1a1a" stroke-width="1.5"/>
<text font-size="10.1" text-anchor="end" fill="#1a1a1a" stroke="#1a1a1a" stroke-width="0.22" transform="translate(52.90 433.50) scale(0.93 1)">25</text>
<text font-size="10.1" text-anchor="middle" fill="#1a1a1a" stroke="#1a1a1a" stroke-width="0.22" transform="translate(17.90 484.60) rotate(-90) scale(0.93 1)">Respirations per</text>
<text font-size="10.1" text-anchor="middle" fill="#1a1a1a" stroke="#1a1a1a" stroke-width="0.22" transform="translate(30.10 484.60) rotate(-90) scale(0.93 1)">minute</text>
<rect x="62.0" y="563.10" width="69.36" height="112.40" fill="#f0f5fa"/>
<rect x="131.36" y="563.10" width="116.54" height="112.40" fill="#f8f8f8"/>
<line x1="131.36" y1="563.10" x2="131.36" y2="675.50" stroke="#111" stroke-width="1.3" stroke-dasharray="3 2.6"/>
<polyline points="84.7,619.3 96.4,619.3 108.0,624.8 119.7,619.3 131.4,619.3 143.0,630.3 154.7,630.3 166.3,630.3 178.0,619.3 189.7,641.4 201.3,635.9 213.0,624.8 224.7,663.5 236.3,652.4 248.0,624.8" fill="none" stroke="#cfd4d9" stroke-width="0.8"/>
<rect x="82.90" y="617.50" width="3.60" height="3.60" fill="#c9cfd5"/>
<rect x="94.56" y="617.50" width="3.60" height="3.60" fill="#c9cfd5"/>
<rect x="106.23" y="623.02" width="3.60" height="3.60" fill="#c9cfd5"/>
<rect x="117.89" y="617.50" width="3.60" height="3.60" fill="#c9cfd5"/>
<rect x="129.56" y="617.50" width="3.60" height="3.60" fill="#c9cfd5"/>
<rect x="141.22" y="628.54" width="3.60" height="3.60" fill="#c9cfd5"/>
<rect x="152.88" y="628.54" width="3.60" height="3.60" fill="#c9cfd5"/>
<rect x="164.55" y="628.54" width="3.60" height="3.60" fill="#c9cfd5"/>
<rect x="176.21" y="617.50" width="3.60" height="3.60" fill="#c9cfd5"/>
<rect x="187.88" y="639.58" width="3.60" height="3.60" fill="#c9cfd5"/>
<rect x="199.54" y="634.06" width="3.60" height="3.60" fill="#c9cfd5"/>
<rect x="211.20" y="623.02" width="3.60" height="3.60" fill="#c9cfd5"/>
<rect x="222.87" y="661.66" width="3.60" height="3.60" fill="#c9cfd5"/>
<rect x="234.53" y="650.62" width="3.60" height="3.60" fill="#c9cfd5"/>
<rect x="246.20" y="623.02" width="3.60" height="3.60" fill="#c9cfd5"/>
<polyline points="84.7,591.7 96.4,598.3 108.0,603.3 119.7,598.3 131.4,598.3 143.0,598.3 154.7,598.3 166.3,598.3 178.0,598.3 189.7,597.2 201.3,603.3 213.0,602.7 224.7,603.3 236.3,603.3 248.0,591.7" fill="none" stroke="#cfd4d9" stroke-width="0.8"/>
<path d="M84.70 589.72L86.68 593.14L82.72 593.14Z" fill="none" stroke="#c9cfd5" stroke-width="0.6"/>
<path d="M96.36 596.34L98.34 599.76L94.38 599.76Z" fill="none" stroke="#c9cfd5" stroke-width="0.6"/>
<path d="M108.03 601.31L110.01 604.73L106.05 604.73Z" fill="none" stroke="#c9cfd5" stroke-width="0.6"/>
<path d="M119.69 596.34L121.67 599.76L117.71 599.76Z" fill="none" stroke="#c9cfd5" stroke-width="0.6"/>
<path d="M131.36 596.34L133.34 599.76L129.38 599.76Z" fill="none" stroke="#c9cfd5" stroke-width="0.6"/>
<path d="M143.02 596.34L145.00 599.76L141.04 599.76Z" fill="none" stroke="#c9cfd5" stroke-width="0.6"/>
<path d="M154.68 596.34L156.66 599.76L152.70 599.76Z" fill="none" stroke="#c9cfd5" stroke-width="0.6"/>
<path d="M166.35 596.34L168.33 599.76L164.37 599.76Z" fill="none" stroke="#c9cfd5" stroke-width="0.6"/>
<path d="M178.01 596.34L179.99 599.76L176.03 599.76Z" fill="none" stroke="#c9cfd5" stroke-width="0.6"/>
<path d="M189.68 595.24L191.66 598.66L187.70 598.66Z" fill="none" stroke="#c9cfd5" stroke-width="0.6"/>
<path d="M201.34 601.31L203.32 604.73L199.36 604.73Z" fill="none" stroke="#c9cfd5" stroke-width="0.6"/>
<path d="M213.00 600.76L214.98 604.18L211.02 604.18Z" fill="none" stroke="#c9cfd5" stroke-width="0.6"/>
<path d="M224.67 601.31L226.65 604.73L222.69 604.73Z" fill="none" stroke="#c9cfd5" stroke-width="0.6"/>
<path d="M236.33 601.31L238.31 604.73L234.35 604.73Z" fill="none" stroke="#c9cfd5" stroke-width="0.6"/>
<path d="M248.00 589.72L249.98 593.14L246.02 593.14Z" fill="none" stroke="#c9cfd5" stroke-width="0.6"/>
<polyline points="84.7,564.1 96.4,564.1 108.0,564.1 119.7,564.1 131.4,564.1 143.0,564.1 154.7,564.1 166.3,564.1 178.0,564.1 189.7,564.1 201.3,569.6 213.0,564.1 224.7,569.6 236.3,564.1 248.0,564.1" fill="none" stroke="#cfd4d9" stroke-width="0.8"/>
<circle cx="84.70" cy="564.10" r="1.8" fill="#c9cfd5"/>
<circle cx="96.36" cy="564.10" r="1.8" fill="#c9cfd5"/>
<circle cx="108.03" cy="564.10" r="1.8" fill="#c9cfd5"/>
<circle cx="119.69" cy="564.10" r="1.8" fill="#c9cfd5"/>
<circle cx="131.36" cy="564.10" r="1.8" fill="#c9cfd5"/>
<circle cx="143.02" cy="564.10" r="1.8" fill="#c9cfd5"/>
<circle cx="154.68" cy="564.10" r="1.8" fill="#c9cfd5"/>
<circle cx="166.35" cy="564.10" r="1.8" fill="#c9cfd5"/>
<circle cx="178.01" cy="564.10" r="1.8" fill="#c9cfd5"/>
<circle cx="189.68" cy="564.10" r="1.8" fill="#c9cfd5"/>
<circle cx="201.34" cy="569.62" r="1.8" fill="#c9cfd5"/>
<circle cx="213.00" cy="564.10" r="1.8" fill="#c9cfd5"/>
<circle cx="224.67" cy="569.62" r="1.8" fill="#c9cfd5"/>
<circle cx="236.33" cy="564.10" r="1.8" fill="#c9cfd5"/>
<circle cx="248.00" cy="564.10" r="1.8" fill="#c9cfd5"/>
<polyline points="84.7,586.2 96.4,588.9 108.0,586.2 119.7,591.7 131.4,591.7 143.0,586.2 154.7,591.7 166.3,588.9 178.0,586.2 189.7,586.2 201.3,591.7 213.0,586.2 224.7,591.7 236.3,591.7 248.0,586.2" fill="none" stroke="#cfd4d9" stroke-width="0.8"/>
<circle cx="84.70" cy="586.18" r="1.50" fill="none" stroke="#c9cfd5" stroke-width="0.6"/>
<circle cx="96.36" cy="588.94" r="1.50" fill="none" stroke="#c9cfd5" stroke-width="0.6"/>
<circle cx="108.03" cy="586.18" r="1.50" fill="none" stroke="#c9cfd5" stroke-width="0.6"/>
<circle cx="119.69" cy="591.70" r="1.50" fill="none" stroke="#c9cfd5" stroke-width="0.6"/>
<circle cx="131.36" cy="591.70" r="1.50" fill="none" stroke="#c9cfd5" stroke-width="0.6"/>
<circle cx="143.02" cy="586.18" r="1.50" fill="none" stroke="#c9cfd5" stroke-width="0.6"/>
<circle cx="154.68" cy="591.70" r="1.50" fill="none" stroke="#c9cfd5" stroke-width="0.6"/>
<circle cx="166.35" cy="588.94" r="1.50" fill="none" stroke="#c9cfd5" stroke-width="0.6"/>
<circle cx="178.01" cy="586.18" r="1.50" fill="none" stroke="#c9cfd5" stroke-width="0.6"/>
<circle cx="189.68" cy="586.18" r="1.50" fill="none" stroke="#c9cfd5" stroke-width="0.6"/>
<circle cx="201.34" cy="591.70" r="1.50" fill="none" stroke="#c9cfd5" stroke-width="0.6"/>
<circle cx="213.00" cy="586.18" r="1.50" fill="none" stroke="#c9cfd5" stroke-width="0.6"/>
<circle cx="224.67" cy="591.70" r="1.50" fill="none" stroke="#c9cfd5" stroke-width="0.6"/>
<circle cx="236.33" cy="591.70" r="1.50" fill="none" stroke="#c9cfd5" stroke-width="0.6"/>
<circle cx="248.00" cy="586.18" r="1.50" fill="none" stroke="#c9cfd5" stroke-width="0.6"/>
<polyline points="84.7,564.1 96.4,586.2 108.0,575.1 119.7,586.2 131.4,586.2 143.0,564.1 154.7,580.7 166.3,569.6 178.0,564.1 189.7,569.6 201.3,575.1 213.0,575.1 224.7,591.7 236.3,569.6 248.0,575.1" fill="none" stroke="#cfd4d9" stroke-width="0.8"/>
<rect x="83.20" y="562.60" width="3.00" height="3.00" fill="none" stroke="#c9cfd5" stroke-width="0.6"/>
<rect x="94.86" y="584.68" width="3.00" height="3.00" fill="none" stroke="#c9cfd5" stroke-width="0.6"/>
<rect x="106.53" y="573.64" width="3.00" height="3.00" fill="none" stroke="#c9cfd5" stroke-width="0.6"/>
<rect x="118.19" y="584.68" width="3.00" height="3.00" fill="none" stroke="#c9cfd5" stroke-width="0.6"/>
<rect x="129.86" y="584.68" width="3.00" height="3.00" fill="none" stroke="#c9cfd5" stroke-width="0.6"/>
<rect x="141.52" y="562.60" width="3.00" height="3.00" fill="none" stroke="#c9cfd5" stroke-width="0.6"/>
<rect x="153.18" y="579.16" width="3.00" height="3.00" fill="none" stroke="#c9cfd5" stroke-width="0.6"/>
<rect x="164.85" y="568.12" width="3.00" height="3.00" fill="none" stroke="#c9cfd5" stroke-width="0.6"/>
<rect x="176.51" y="562.60" width="3.00" height="3.00" fill="none" stroke="#c9cfd5" stroke-width="0.6"/>
<rect x="188.18" y="568.12" width="3.00" height="3.00" fill="none" stroke="#c9cfd5" stroke-width="0.6"/>
<rect x="199.84" y="573.64" width="3.00" height="3.00" fill="none" stroke="#c9cfd5" stroke-width="0.6"/>
<rect x="211.50" y="573.64" width="3.00" height="3.00" fill="none" stroke="#c9cfd5" stroke-width="0.6"/>
<rect x="223.17" y="590.20" width="3.00" height="3.00" fill="none" stroke="#c9cfd5" stroke-width="0.6"/>
<rect x="234.83" y="568.12" width="3.00" height="3.00" fill="none" stroke="#c9cfd5" stroke-width="0.6"/>
<rect x="246.50" y="573.64" width="3.00" height="3.00" fill="none" stroke="#c9cfd5" stroke-width="0.6"/>
<polyline points="84.7,580.7 96.4,586.2 108.0,569.6 119.7,586.2 131.4,586.2 143.0,580.7 154.7,575.1 166.3,575.1 178.0,569.6 189.7,575.1 201.3,569.6 213.0,575.1 224.7,580.7 236.3,575.1 248.0,591.7" fill="none" stroke="#cfd4d9" stroke-width="0.8"/>
<rect x="83.20" y="579.16" width="3.00" height="3.00" fill="none" stroke="#c9cfd5" stroke-width="0.6"/>
<rect x="82.90" y="578.86" width="3.60" height="1.80" fill="#c9cfd5"/>
<rect x="94.86" y="584.68" width="3.00" height="3.00" fill="none" stroke="#c9cfd5" stroke-width="0.6"/>
<rect x="94.56" y="584.38" width="3.60" height="1.80" fill="#c9cfd5"/>
<rect x="106.53" y="568.12" width="3.00" height="3.00" fill="none" stroke="#c9cfd5" stroke-width="0.6"/>
<rect x="106.23" y="567.82" width="3.60" height="1.80" fill="#c9cfd5"/>
<rect x="118.19" y="584.68" width="3.00" height="3.00" fill="none" stroke="#c9cfd5" stroke-width="0.6"/>
<rect x="117.89" y="584.38" width="3.60" height="1.80" fill="#c9cfd5"/>
<rect x="129.86" y="584.68" width="3.00" height="3.00" fill="none" stroke="#c9cfd5" stroke-width="0.6"/>
<rect x="129.56" y="584.38" width="3.60" height="1.80" fill="#c9cfd5"/>
<rect x="141.52" y="579.16" width="3.00" height="3.00" fill="none" stroke="#c9cfd5" stroke-width="0.6"/>
<rect x="141.22" y="578.86" width="3.60" height="1.80" fill="#c9cfd5"/>
<rect x="153.18" y="573.64" width="3.00" height="3.00" fill="none" stroke="#c9cfd5" stroke-width="0.6"/>
<rect x="152.88" y="573.34" width="3.60" height="1.80" fill="#c9cfd5"/>
<rect x="164.85" y="573.64" width="3.00" height="3.00" fill="none" stroke="#c9cfd5" stroke-width="0.6"/>
<rect x="164.55" y="573.34" width="3.60" height="1.80" fill="#c9cfd5"/>
<rect x="176.51" y="568.12" width="3.00" height="3.00" fill="none" stroke="#c9cfd5" stroke-width="0.6"/>
<rect x="176.21" y="567.82" width="3.60" height="1.80" fill="#c9cfd5"/>
<rect x="188.18" y="573.64" width="3.00" height="3.00" fill="none" stroke="#c9cfd5" stroke-width="0.6"/>
<rect x="187.88" y="573.34" width="3.60" height="1.80" fill="#c9cfd5"/>
<rect x="199.84" y="568.12" width="3.00" height="3.00" fill="none" stroke="#c9cfd5" stroke-width="0.6"/>
<rect x="199.54" y="567.82" width="3.60" height="1.80" fill="#c9cfd5"/>
<rect x="211.50" y="573.64" width="3.00" height="3.00" fill="none" stroke="#c9cfd5" stroke-width="0.6"/>
<rect x="211.20" y="573.34" width="3.60" height="1.80" fill="#c9cfd5"/>
<rect x="223.17" y="579.16" width="3.00" height="3.00" fill="none" stroke="#c9cfd5" stroke-width="0.6"/>
<rect x="222.87" y="578.86" width="3.60" height="1.80" fill="#c9cfd5"/>
<rect x="234.83" y="573.64" width="3.00" height="3.00" fill="none" stroke="#c9cfd5" stroke-width="0.6"/>
<rect x="234.53" y="573.34" width="3.60" height="1.80" fill="#c9cfd5"/>
<rect x="246.50" y="590.20" width="3.00" height="3.00" fill="none" stroke="#c9cfd5" stroke-width="0.6"/>
<rect x="246.20" y="589.90" width="3.60" height="1.80" fill="#c9cfd5"/>
<polyline points="84.7,575.1 96.4,575.1 108.0,569.6 119.7,586.2 131.4,575.1 143.0,575.1 154.7,580.7 166.3,569.6 178.0,575.1 189.7,591.7 201.3,591.7 213.0,586.2 224.7,564.1 236.3,591.7 248.0,575.1" fill="none" stroke="#cfd4d9" stroke-width="0.8"/>
<path d="M84.70 573.16L86.68 576.58L82.72 576.58Z" fill="none" stroke="#c9cfd5" stroke-width="0.6"/>
<path d="M96.36 573.16L98.34 576.58L94.38 576.58Z" fill="none" stroke="#c9cfd5" stroke-width="0.6"/>
<path d="M108.03 567.64L110.01 571.06L106.05 571.06Z" fill="none" stroke="#c9cfd5" stroke-width="0.6"/>
<path d="M119.69 584.20L121.67 587.62L117.71 587.62Z" fill="none" stroke="#c9cfd5" stroke-width="0.6"/>
<path d="M131.36 573.16L133.34 576.58L129.38 576.58Z" fill="none" stroke="#c9cfd5" stroke-width="0.6"/>
<path d="M143.02 573.16L145.00 576.58L141.04 576.58Z" fill="none" stroke="#c9cfd5" stroke-width="0.6"/>
<path d="M154.68 578.68L156.66 582.10L152.70 582.10Z" fill="none" stroke="#c9cfd5" stroke-width="0.6"/>
<path d="M166.35 567.64L168.33 571.06L164.37 571.06Z" fill="none" stroke="#c9cfd5" stroke-width="0.6"/>
<path d="M178.01 573.16L179.99 576.58L176.03 576.58Z" fill="none" stroke="#c9cfd5" stroke-width="0.6"/>
<path d="M189.68 589.72L191.66 593.14L187.70 593.14Z" fill="none" stroke="#c9cfd5" stroke-width="0.6"/>
<path d="M201.34 589.72L203.32 593.14L199.36 593.14Z" fill="none" stroke="#c9cfd5" stroke-width="0.6"/>
<path d="M213.00 584.20L214.98 587.62L211.02 587.62Z" fill="none" stroke="#c9cfd5" stroke-width="0.6"/>
<path d="M224.67 562.12L226.65 565.54L222.69 565.54Z" fill="none" stroke="#c9cfd5" stroke-width="0.6"/>
<path d="M236.33 589.72L238.31 593.14L234.35 593.14Z" fill="none" stroke="#c9cfd5" stroke-width="0.6"/>
<path d="M248.00 573.16L249.98 576.58L246.02 576.58Z" fill="none" stroke="#c9cfd5" stroke-width="0.6"/>
<polyline points="84.7,569.6 96.4,575.1 108.0,575.1 119.7,580.7 131.4,575.1 143.0,575.1 154.7,580.7 166.3,569.6 178.0,569.6 189.7,580.7 201.3,586.2 213.0,569.6 224.7,580.7 236.3,580.7 248.0,591.7" fill="none" stroke="#cfd4d9" stroke-width="0.8"/>
<path d="M84.70 567.46L86.86 569.62L84.70 571.78L82.54 569.62Z" fill="none" stroke="#c9cfd5" stroke-width="0.6"/>
<path d="M96.36 572.98L98.52 575.14L96.36 577.30L94.20 575.14Z" fill="none" stroke="#c9cfd5" stroke-width="0.6"/>
<path d="M108.03 572.98L110.19 575.14L108.03 577.30L105.87 575.14Z" fill="none" stroke="#c9cfd5" stroke-width="0.6"/>
<path d="M119.69 578.50L121.85 580.66L119.69 582.82L117.53 580.66Z" fill="none" stroke="#c9cfd5" stroke-width="0.6"/>
<path d="M131.36 572.98L133.52 575.14L131.36 577.30L129.20 575.14Z" fill="none" stroke="#c9cfd5" stroke-width="0.6"/>
<path d="M143.02 572.98L145.18 575.14L143.02 577.30L140.86 575.14Z" fill="none" stroke="#c9cfd5" stroke-width="0.6"/>
<path d="M154.68 578.50L156.84 580.66L154.68 582.82L152.52 580.66Z" fill="none" stroke="#c9cfd5" stroke-width="0.6"/>
<path d="M166.35 567.46L168.51 569.62L166.35 571.78L164.19 569.62Z" fill="none" stroke="#c9cfd5" stroke-width="0.6"/>
<path d="M178.01 567.46L180.17 569.62L178.01 571.78L175.85 569.62Z" fill="none" stroke="#c9cfd5" stroke-width="0.6"/>
<path d="M189.68 578.50L191.84 580.66L189.68 582.82L187.52 580.66Z" fill="none" stroke="#c9cfd5" stroke-width="0.6"/>
<path d="M201.34 584.02L203.50 586.18L201.34 588.34L199.18 586.18Z" fill="none" stroke="#c9cfd5" stroke-width="0.6"/>
<path d="M213.00 567.46L215.16 569.62L213.00 571.78L210.84 569.62Z" fill="none" stroke="#c9cfd5" stroke-width="0.6"/>
<path d="M224.67 578.50L226.83 580.66L224.67 582.82L222.51 580.66Z" fill="none" stroke="#c9cfd5" stroke-width="0.6"/>
<path d="M236.33 578.50L238.49 580.66L236.33 582.82L234.17 580.66Z" fill="none" stroke="#c9cfd5" stroke-width="0.6"/>
<path d="M248.00 589.54L250.16 591.70L248.00 593.86L245.84 591.70Z" fill="none" stroke="#c9cfd5" stroke-width="0.6"/>
<polyline points="84.7,586.2 96.4,580.7 108.0,575.1 119.7,586.2 131.4,575.1 143.0,586.2 154.7,569.6 166.3,580.7 178.0,564.1 189.7,586.2 201.3,591.7 213.0,580.7 224.7,586.2 236.3,580.7 248.0,575.1" fill="none" stroke="#cfd4d9" stroke-width="0.8"/>
<rect x="82.90" y="584.38" width="3.60" height="3.60" fill="#c9cfd5"/>
<rect x="94.56" y="578.86" width="3.60" height="3.60" fill="#c9cfd5"/>
<rect x="106.23" y="573.34" width="3.60" height="3.60" fill="#c9cfd5"/>
<rect x="117.89" y="584.38" width="3.60" height="3.60" fill="#c9cfd5"/>
<rect x="129.56" y="573.34" width="3.60" height="3.60" fill="#c9cfd5"/>
<rect x="141.22" y="584.38" width="3.60" height="3.60" fill="#c9cfd5"/>
<rect x="152.88" y="567.82" width="3.60" height="3.60" fill="#c9cfd5"/>
<rect x="164.55" y="578.86" width="3.60" height="3.60" fill="#c9cfd5"/>
<rect x="176.21" y="562.30" width="3.60" height="3.60" fill="#c9cfd5"/>
<rect x="187.88" y="584.38" width="3.60" height="3.60" fill="#c9cfd5"/>
<rect x="199.54" y="589.90" width="3.60" height="3.60" fill="#c9cfd5"/>
<rect x="211.20" y="578.86" width="3.60" height="3.60" fill="#c9cfd5"/>
<rect x="222.87" y="584.38" width="3.60" height="3.60" fill="#c9cfd5"/>
<rect x="234.53" y="578.86" width="3.60" height="3.60" fill="#c9cfd5"/>
<rect x="246.20" y="573.34" width="3.60" height="3.60" fill="#c9cfd5"/>
<polyline points="84.7,575.1 96.4,586.2 108.0,575.1 119.7,575.1 131.4,575.1 143.0,586.2 154.7,586.2 166.3,575.1 178.0,575.1 189.7,597.2 201.3,586.2 213.0,591.7 224.7,597.2 236.3,569.6 248.0,580.7" fill="none" stroke="#cfd4d9" stroke-width="0.8"/>
<path d="M84.70 573.16L86.68 575.14L84.70 577.12L82.72 575.14Z" fill="#c9cfd5"/>
<path d="M96.36 584.20L98.34 586.18L96.36 588.16L94.38 586.18Z" fill="#c9cfd5"/>
<path d="M108.03 573.16L110.01 575.14L108.03 577.12L106.05 575.14Z" fill="#c9cfd5"/>
<path d="M119.69 573.16L121.67 575.14L119.69 577.12L117.71 575.14Z" fill="#c9cfd5"/>
<path d="M131.36 573.16L133.34 575.14L131.36 577.12L129.38 575.14Z" fill="#c9cfd5"/>
<path d="M143.02 584.20L145.00 586.18L143.02 588.16L141.04 586.18Z" fill="#c9cfd5"/>
<path d="M154.68 584.20L156.66 586.18L154.68 588.16L152.70 586.18Z" fill="#c9cfd5"/>
<path d="M166.35 573.16L168.33 575.14L166.35 577.12L164.37 575.14Z" fill="#c9cfd5"/>
<path d="M178.01 573.16L179.99 575.14L178.01 577.12L176.03 575.14Z" fill="#c9cfd5"/>
<path d="M189.68 595.24L191.66 597.22L189.68 599.20L187.70 597.22Z" fill="#c9cfd5"/>
<path d="M201.34 584.20L203.32 586.18L201.34 588.16L199.36 586.18Z" fill="#c9cfd5"/>
<path d="M213.00 589.72L214.98 591.70L213.00 593.68L211.02 591.70Z" fill="#c9cfd5"/>
<path d="M224.67 595.24L226.65 597.22L224.67 599.20L222.69 597.22Z" fill="#c9cfd5"/>
<path d="M236.33 567.64L238.31 569.62L236.33 571.60L234.35 569.62Z" fill="#c9cfd5"/>
<path d="M248.00 578.68L249.98 580.66L248.00 582.64L246.02 580.66Z" fill="#c9cfd5"/>
<polyline points="84.7,575.1 96.4,575.1 108.0,575.1 119.7,575.1 131.4,575.1 143.0,575.1 154.7,580.7 166.3,564.1 178.0,569.6 189.7,586.2 201.3,580.7 213.0,580.7 224.7,591.7 236.3,580.7 248.0,586.2" fill="none" stroke="#cfd4d9" stroke-width="0.8"/>
<circle cx="84.70" cy="575.14" r="1.50" fill="none" stroke="#c9cfd5" stroke-width="0.6"/>
<path d="M82.90 575.14A1.8 1.8 0 0 0 86.50 575.14Z" fill="#c9cfd5"/>
<circle cx="96.36" cy="575.14" r="1.50" fill="none" stroke="#c9cfd5" stroke-width="0.6"/>
<path d="M94.56 575.14A1.8 1.8 0 0 0 98.16 575.14Z" fill="#c9cfd5"/>
<circle cx="108.03" cy="575.14" r="1.50" fill="none" stroke="#c9cfd5" stroke-width="0.6"/>
<path d="M106.23 575.14A1.8 1.8 0 0 0 109.83 575.14Z" fill="#c9cfd5"/>
<circle cx="119.69" cy="575.14" r="1.50" fill="none" stroke="#c9cfd5" stroke-width="0.6"/>
<path d="M117.89 575.14A1.8 1.8 0 0 0 121.49 575.14Z" fill="#c9cfd5"/>
<circle cx="131.36" cy="575.14" r="1.50" fill="none" stroke="#c9cfd5" stroke-width="0.6"/>
<path d="M129.56 575.14A1.8 1.8 0 0 0 133.16 575.14Z" fill="#c9cfd5"/>
<circle cx="143.02" cy="575.14" r="1.50" fill="none" stroke="#c9cfd5" stroke-width="0.6"/>
<path d="M141.22 575.14A1.8 1.8 0 0 0 144.82 575.14Z" fill="#c9cfd5"/>
<circle cx="154.68" cy="580.66" r="1.50" fill="none" stroke="#c9cfd5" stroke-width="0.6"/>
<path d="M152.88 580.66A1.8 1.8 0 0 0 156.48 580.66Z" fill="#c9cfd5"/>
<circle cx="166.35" cy="564.10" r="1.50" fill="none" stroke="#c9cfd5" stroke-width="0.6"/>
<path d="M164.55 564.10A1.8 1.8 0 0 0 168.15 564.10Z" fill="#c9cfd5"/>
<circle cx="178.01" cy="569.62" r="1.50" fill="none" stroke="#c9cfd5" stroke-width="0.6"/>
<path d="M176.21 569.62A1.8 1.8 0 0 0 179.81 569.62Z" fill="#c9cfd5"/>
<circle cx="189.68" cy="586.18" r="1.50" fill="none" stroke="#c9cfd5" stroke-width="0.6"/>
<path d="M187.88 586.18A1.8 1.8 0 0 0 191.48 586.18Z" fill="#c9cfd5"/>
<circle cx="201.34" cy="580.66" r="1.50" fill="none" stroke="#c9cfd5" stroke-width="0.6"/>
<path d="M199.54 580.66A1.8 1.8 0 0 0 203.14 580.66Z" fill="#c9cfd5"/>
<circle cx="213.00" cy="580.66" r="1.50" fill="none" stroke="#c9cfd5" stroke-width="0.6"/>
<path d="M211.20 580.66A1.8 1.8 0 0 0 214.80 580.66Z" fill="#c9cfd5"/>
<circle cx="224.67" cy="591.70" r="1.50" fill="none" stroke="#c9cfd5" stroke-width="0.6"/>
<path d="M222.87 591.70A1.8 1.8 0 0 0 226.47 591.70Z" fill="#c9cfd5"/>
<circle cx="236.33" cy="580.66" r="1.50" fill="none" stroke="#c9cfd5" stroke-width="0.6"/>
<path d="M234.53 580.66A1.8 1.8 0 0 0 238.13 580.66Z" fill="#c9cfd5"/>
<circle cx="248.00" cy="586.18" r="1.50" fill="none" stroke="#c9cfd5" stroke-width="0.6"/>
<path d="M246.20 586.18A1.8 1.8 0 0 0 249.80 586.18Z" fill="#c9cfd5"/>
<polyline points="84.7,575.1 96.4,575.1 108.0,569.6 119.7,569.6 131.4,575.1 143.0,580.7 154.7,586.2 166.3,586.2 178.0,575.1 189.7,586.2 201.3,580.7 213.0,580.7 224.7,580.7 236.3,580.7 248.0,591.7" fill="none" stroke="#cfd4d9" stroke-width="0.8"/>
<circle cx="84.70" cy="575.14" r="1.50" fill="none" stroke="#c9cfd5" stroke-width="0.6"/>
<path d="M82.90 575.14A1.8 1.8 0 0 1 86.50 575.14Z" fill="#c9cfd5"/>
<circle cx="96.36" cy="575.14" r="1.50" fill="none" stroke="#c9cfd5" stroke-width="0.6"/>
<path d="M94.56 575.14A1.8 1.8 0 0 1 98.16 575.14Z" fill="#c9cfd5"/>
<circle cx="108.03" cy="569.62" r="1.50" fill="none" stroke="#c9cfd5" stroke-width="0.6"/>
<path d="M106.23 569.62A1.8 1.8 0 0 1 109.83 569.62Z" fill="#c9cfd5"/>
<circle cx="119.69" cy="569.62" r="1.50" fill="none" stroke="#c9cfd5" stroke-width="0.6"/>
<path d="M117.89 569.62A1.8 1.8 0 0 1 121.49 569.62Z" fill="#c9cfd5"/>
<circle cx="131.36" cy="575.14" r="1.50" fill="none" stroke="#c9cfd5" stroke-width="0.6"/>
<path d="M129.56 575.14A1.8 1.8 0 0 1 133.16 575.14Z" fill="#c9cfd5"/>
<circle cx="143.02" cy="580.66" r="1.50" fill="none" stroke="#c9cfd5" stroke-width="0.6"/>
<path d="M141.22 580.66A1.8 1.8 0 0 1 144.82 580.66Z" fill="#c9cfd5"/>
<circle cx="154.68" cy="586.18" r="1.50" fill="none" stroke="#c9cfd5" stroke-width="0.6"/>
<path d="M152.88 586.18A1.8 1.8 0 0 1 156.48 586.18Z" fill="#c9cfd5"/>
<circle cx="166.35" cy="586.18" r="1.50" fill="none" stroke="#c9cfd5" stroke-width="0.6"/>
<path d="M164.55 586.18A1.8 1.8 0 0 1 168.15 586.18Z" fill="#c9cfd5"/>
<circle cx="178.01" cy="575.14" r="1.50" fill="none" stroke="#c9cfd5" stroke-width="0.6"/>
<path d="M176.21 575.14A1.8 1.8 0 0 1 179.81 575.14Z" fill="#c9cfd5"/>
<circle cx="189.68" cy="586.18" r="1.50" fill="none" stroke="#c9cfd5" stroke-width="0.6"/>
<path d="M187.88 586.18A1.8 1.8 0 0 1 191.48 586.18Z" fill="#c9cfd5"/>
<circle cx="201.34" cy="580.66" r="1.50" fill="none" stroke="#c9cfd5" stroke-width="0.6"/>
<path d="M199.54 580.66A1.8 1.8 0 0 1 203.14 580.66Z" fill="#c9cfd5"/>
<circle cx="213.00" cy="580.66" r="1.50" fill="none" stroke="#c9cfd5" stroke-width="0.6"/>
<path d="M211.20 580.66A1.8 1.8 0 0 1 214.80 580.66Z" fill="#c9cfd5"/>
<circle cx="224.67" cy="580.66" r="1.50" fill="none" stroke="#c9cfd5" stroke-width="0.6"/>
<path d="M222.87 580.66A1.8 1.8 0 0 1 226.47 580.66Z" fill="#c9cfd5"/>
<circle cx="236.33" cy="580.66" r="1.50" fill="none" stroke="#c9cfd5" stroke-width="0.6"/>
<path d="M234.53 580.66A1.8 1.8 0 0 1 238.13 580.66Z" fill="#c9cfd5"/>
<circle cx="248.00" cy="591.70" r="1.50" fill="none" stroke="#c9cfd5" stroke-width="0.6"/>
<path d="M246.20 591.70A1.8 1.8 0 0 1 249.80 591.70Z" fill="#c9cfd5"/>
<polyline points="84.7,575.1 96.4,564.1 108.0,569.6 119.7,575.1 131.4,580.7 143.0,591.7 154.7,580.7 166.3,569.6 178.0,575.1 189.7,586.2 201.3,575.1 213.0,580.7 224.7,586.2 236.3,580.7 248.0,580.7" fill="none" stroke="#cfd4d9" stroke-width="0.8"/>
<path d="M84.70 577.12L86.68 573.70L82.72 573.70Z" fill="#c9cfd5"/>
<path d="M96.36 566.08L98.34 562.66L94.38 562.66Z" fill="#c9cfd5"/>
<path d="M108.03 571.60L110.01 568.18L106.05 568.18Z" fill="#c9cfd5"/>
<path d="M119.69 577.12L121.67 573.70L117.71 573.70Z" fill="#c9cfd5"/>
<path d="M131.36 582.64L133.34 579.22L129.38 579.22Z" fill="#c9cfd5"/>
<path d="M143.02 593.68L145.00 590.26L141.04 590.26Z" fill="#c9cfd5"/>
<path d="M154.68 582.64L156.66 579.22L152.70 579.22Z" fill="#c9cfd5"/>
<path d="M166.35 571.60L168.33 568.18L164.37 568.18Z" fill="#c9cfd5"/>
<path d="M178.01 577.12L179.99 573.70L176.03 573.70Z" fill="#c9cfd5"/>
<path d="M189.68 588.16L191.66 584.74L187.70 584.74Z" fill="#c9cfd5"/>
<path d="M201.34 577.12L203.32 573.70L199.36 573.70Z" fill="#c9cfd5"/>
<path d="M213.00 582.64L214.98 579.22L211.02 579.22Z" fill="#c9cfd5"/>
<path d="M224.67 588.16L226.65 584.74L222.69 584.74Z" fill="#c9cfd5"/>
<path d="M236.33 582.64L238.31 579.22L234.35 579.22Z" fill="#c9cfd5"/>
<path d="M248.00 582.64L249.98 579.22L246.02 579.22Z" fill="#c9cfd5"/>
<line x1="84.70" y1="569.62" x2="84.70" y2="583.42" stroke="#22677f" stroke-width="1.6"/>
<line x1="82.60" y1="569.62" x2="86.80" y2="569.62" stroke="#22677f" stroke-width="1.6"/>
<line x1="82.60" y1="583.42" x2="86.80" y2="583.42" stroke="#22677f" stroke-width="1.6"/>
<line x1="96.36" y1="566.31" x2="96.36" y2="591.70" stroke="#22677f" stroke-width="1.6"/>
<line x1="94.26" y1="566.31" x2="98.46" y2="566.31" stroke="#22677f" stroke-width="1.6"/>
<line x1="94.26" y1="591.70" x2="98.46" y2="591.70" stroke="#22677f" stroke-width="1.6"/>
<line x1="108.03" y1="565.76" x2="108.03" y2="586.18" stroke="#22677f" stroke-width="1.6"/>
<line x1="105.93" y1="565.76" x2="110.13" y2="565.76" stroke="#22677f" stroke-width="1.6"/>
<line x1="105.93" y1="586.18" x2="110.13" y2="586.18" stroke="#22677f" stroke-width="1.6"/>
<line x1="119.69" y1="564.10" x2="119.69" y2="595.01" stroke="#22677f" stroke-width="1.6"/>
<line x1="117.59" y1="564.10" x2="121.79" y2="564.10" stroke="#22677f" stroke-width="1.6"/>
<line x1="117.59" y1="595.01" x2="121.79" y2="595.01" stroke="#22677f" stroke-width="1.6"/>
<line x1="131.36" y1="564.10" x2="131.36" y2="595.01" stroke="#22677f" stroke-width="1.6"/>
<line x1="129.26" y1="564.10" x2="133.46" y2="564.10" stroke="#22677f" stroke-width="1.6"/>
<line x1="129.26" y1="595.01" x2="133.46" y2="595.01" stroke="#22677f" stroke-width="1.6"/>
<line x1="143.02" y1="564.10" x2="143.02" y2="580.66" stroke="#22677f" stroke-width="1.6"/>
<line x1="140.92" y1="564.10" x2="145.12" y2="564.10" stroke="#22677f" stroke-width="1.6"/>
<line x1="140.92" y1="580.66" x2="145.12" y2="580.66" stroke="#22677f" stroke-width="1.6"/>
<line x1="154.68" y1="564.10" x2="154.68" y2="583.42" stroke="#22677f" stroke-width="1.6"/>
<line x1="152.58" y1="564.10" x2="156.78" y2="564.10" stroke="#22677f" stroke-width="1.6"/>
<line x1="152.58" y1="583.42" x2="156.78" y2="583.42" stroke="#22677f" stroke-width="1.6"/>
<line x1="166.35" y1="564.10" x2="166.35" y2="588.39" stroke="#22677f" stroke-width="1.6"/>
<line x1="164.25" y1="564.10" x2="168.45" y2="564.10" stroke="#22677f" stroke-width="1.6"/>
<line x1="164.25" y1="588.39" x2="168.45" y2="588.39" stroke="#22677f" stroke-width="1.6"/>
<line x1="178.01" y1="569.07" x2="178.01" y2="586.18" stroke="#22677f" stroke-width="1.6"/>
<line x1="175.91" y1="569.07" x2="180.11" y2="569.07" stroke="#22677f" stroke-width="1.6"/>
<line x1="175.91" y1="586.18" x2="180.11" y2="586.18" stroke="#22677f" stroke-width="1.6"/>
<line x1="189.68" y1="569.62" x2="189.68" y2="591.70" stroke="#22677f" stroke-width="1.6"/>
<line x1="187.58" y1="569.62" x2="191.78" y2="569.62" stroke="#22677f" stroke-width="1.6"/>
<line x1="187.58" y1="591.70" x2="191.78" y2="591.70" stroke="#22677f" stroke-width="1.6"/>
<line x1="201.34" y1="575.14" x2="201.34" y2="588.39" stroke="#22677f" stroke-width="1.6"/>
<line x1="199.24" y1="575.14" x2="203.44" y2="575.14" stroke="#22677f" stroke-width="1.6"/>
<line x1="199.24" y1="588.39" x2="203.44" y2="588.39" stroke="#22677f" stroke-width="1.6"/>
<line x1="213.00" y1="572.38" x2="213.00" y2="591.70" stroke="#22677f" stroke-width="1.6"/>
<line x1="210.90" y1="572.38" x2="215.10" y2="572.38" stroke="#22677f" stroke-width="1.6"/>
<line x1="210.90" y1="591.70" x2="215.10" y2="591.70" stroke="#22677f" stroke-width="1.6"/>
<line x1="224.67" y1="575.14" x2="224.67" y2="591.70" stroke="#22677f" stroke-width="1.6"/>
<line x1="222.57" y1="575.14" x2="226.77" y2="575.14" stroke="#22677f" stroke-width="1.6"/>
<line x1="222.57" y1="591.70" x2="226.77" y2="591.70" stroke="#22677f" stroke-width="1.6"/>
<line x1="236.33" y1="575.14" x2="236.33" y2="594.46" stroke="#22677f" stroke-width="1.6"/>
<line x1="234.23" y1="575.14" x2="238.43" y2="575.14" stroke="#22677f" stroke-width="1.6"/>
<line x1="234.23" y1="594.46" x2="238.43" y2="594.46" stroke="#22677f" stroke-width="1.6"/>
<line x1="248.00" y1="572.38" x2="248.00" y2="591.70" stroke="#22677f" stroke-width="1.6"/>
<line x1="245.90" y1="572.38" x2="250.10" y2="572.38" stroke="#22677f" stroke-width="1.6"/>
<line x1="245.90" y1="591.70" x2="250.10" y2="591.70" stroke="#22677f" stroke-width="1.6"/>
<polyline points="84.7,575.1 96.4,580.7 108.0,575.1 119.7,580.7 131.4,580.7 143.0,575.1 154.7,580.7 166.3,569.1 178.0,569.1 189.7,580.7 201.3,580.7 213.0,580.7 224.7,586.2 236.3,580.7 248.0,580.7" fill="none" stroke="#22677f" stroke-width="1.7" stroke-linejoin="round"/>
<circle cx="84.70" cy="575.14" r="1.9" fill="#22677f"/>
<circle cx="96.36" cy="580.66" r="1.9" fill="#22677f"/>
<circle cx="108.03" cy="575.14" r="1.9" fill="#22677f"/>
<circle cx="119.69" cy="580.66" r="1.9" fill="#22677f"/>
<circle cx="131.36" cy="580.66" r="1.9" fill="#22677f"/>
<circle cx="143.02" cy="575.14" r="1.9" fill="#22677f"/>
<circle cx="154.68" cy="580.66" r="1.9" fill="#22677f"/>
<circle cx="166.35" cy="569.07" r="1.9" fill="#22677f"/>
<circle cx="178.01" cy="569.07" r="1.9" fill="#22677f"/>
<circle cx="189.68" cy="580.66" r="1.9" fill="#22677f"/>
<circle cx="201.34" cy="580.66" r="1.9" fill="#22677f"/>
<circle cx="213.00" cy="580.66" r="1.9" fill="#22677f"/>
<circle cx="224.67" cy="586.18" r="1.9" fill="#22677f"/>
<circle cx="236.33" cy="580.66" r="1.9" fill="#22677f"/>
<circle cx="248.00" cy="580.66" r="1.9" fill="#22677f"/>
<line x1="61.00" y1="563.30" x2="61.00" y2="675.30" stroke="#1a1a1a" stroke-width="1.7"/>
<line x1="56.00" y1="674.50" x2="61.00" y2="674.50" stroke="#1a1a1a" stroke-width="1.5"/>
<text font-size="10.1" text-anchor="end" fill="#1a1a1a" stroke="#1a1a1a" stroke-width="0.22" transform="translate(52.90 678.60) scale(0.93 1)">80</text>
<line x1="58.30" y1="660.70" x2="61.00" y2="660.70" stroke="#1a1a1a" stroke-width="1.5"/>
<line x1="56.00" y1="646.90" x2="61.00" y2="646.90" stroke="#1a1a1a" stroke-width="1.5"/>
<text font-size="10.1" text-anchor="end" fill="#1a1a1a" stroke="#1a1a1a" stroke-width="0.22" transform="translate(52.90 651.00) scale(0.93 1)">85</text>
<line x1="58.30" y1="633.10" x2="61.00" y2="633.10" stroke="#1a1a1a" stroke-width="1.5"/>
<line x1="56.00" y1="619.30" x2="61.00" y2="619.30" stroke="#1a1a1a" stroke-width="1.5"/>
<text font-size="10.1" text-anchor="end" fill="#1a1a1a" stroke="#1a1a1a" stroke-width="0.22" transform="translate(52.90 623.40) scale(0.93 1)">90</text>
<line x1="58.30" y1="605.50" x2="61.00" y2="605.50" stroke="#1a1a1a" stroke-width="1.5"/>
<line x1="56.00" y1="591.70" x2="61.00" y2="591.70" stroke="#1a1a1a" stroke-width="1.5"/>
<text font-size="10.1" text-anchor="end" fill="#1a1a1a" stroke="#1a1a1a" stroke-width="0.22" transform="translate(52.90 595.80) scale(0.93 1)">95</text>
<line x1="58.30" y1="577.90" x2="61.00" y2="577.90" stroke="#1a1a1a" stroke-width="1.5"/>
<line x1="56.00" y1="564.10" x2="61.00" y2="564.10" stroke="#1a1a1a" stroke-width="1.5"/>
<text font-size="10.1" text-anchor="end" fill="#1a1a1a" stroke="#1a1a1a" stroke-width="0.22" transform="translate(52.90 568.20) scale(0.93 1)">100</text>
<text font-size="10.1" text-anchor="middle" fill="#1a1a1a" stroke="#1a1a1a" stroke-width="0.22" transform="translate(17.90 619.30) rotate(-90) scale(0.93 1)">Oxygen Saturation</text>
<text font-size="10.1" text-anchor="middle" fill="#1a1a1a" stroke="#1a1a1a" stroke-width="0.22" transform="translate(30.10 619.30) rotate(-90) scale(0.93 1)">(%)</text>
<text font-size="10.6" text-anchor="start" fill="#444" stroke="#444" stroke-width="0.22" transform="translate(66.30 35.00) scale(0.94 1)">During-</text>
<text font-size="10.6" text-anchor="start" fill="#444" stroke="#444" stroke-width="0.22" transform="translate(135.30 35.00) scale(0.94 1)">Post-infusion</text>
<line x1="131.36" y1="689.00" x2="131.36" y2="684.00" stroke="#1a1a1a" stroke-width="1.2"/>
<path d="M128.06 685.9L134.66 685.9L131.36 679.8Z" fill="#111"/>
<text font-size="10.1" text-anchor="middle" fill="#333" stroke="#333" stroke-width="0.22" transform="translate(131.66 700.80) scale(0.96 1)">End of infusion</text>
<line x1="79.70" y1="706.50" x2="253.60" y2="706.50" stroke="#1a1a1a" stroke-width="1.6"/>
<line x1="84.70" y1="706.50" x2="84.70" y2="711.80" stroke="#1a1a1a" stroke-width="1.4"/>
<text font-size="10.1" text-anchor="end" fill="#1a1a1a" stroke="#1a1a1a" stroke-width="0.22" transform="translate(90.00 719.50) rotate(-45) scale(0.93 1)">15</text>
<line x1="96.36" y1="706.50" x2="96.36" y2="711.80" stroke="#1a1a1a" stroke-width="1.4"/>
<text font-size="10.1" text-anchor="end" fill="#1a1a1a" stroke="#1a1a1a" stroke-width="0.22" transform="translate(101.66 719.50) rotate(-45) scale(0.93 1)">30</text>
<line x1="108.03" y1="706.50" x2="108.03" y2="711.80" stroke="#1a1a1a" stroke-width="1.4"/>
<text font-size="10.1" text-anchor="end" fill="#1a1a1a" stroke="#1a1a1a" stroke-width="0.22" transform="translate(113.33 719.50) rotate(-45) scale(0.93 1)">45</text>
<line x1="119.69" y1="706.50" x2="119.69" y2="711.80" stroke="#1a1a1a" stroke-width="1.4"/>
<text font-size="10.1" text-anchor="end" fill="#1a1a1a" stroke="#1a1a1a" stroke-width="0.22" transform="translate(124.99 719.50) rotate(-45) scale(0.93 1)">60</text>
<line x1="143.02" y1="706.50" x2="143.02" y2="711.80" stroke="#1a1a1a" stroke-width="1.4"/>
<text font-size="10.1" text-anchor="end" fill="#1a1a1a" stroke="#1a1a1a" stroke-width="0.22" transform="translate(148.32 719.50) rotate(-45) scale(0.93 1)">15</text>
<line x1="154.68" y1="706.50" x2="154.68" y2="711.80" stroke="#1a1a1a" stroke-width="1.4"/>
<text font-size="10.1" text-anchor="end" fill="#1a1a1a" stroke="#1a1a1a" stroke-width="0.22" transform="translate(159.98 719.50) rotate(-45) scale(0.93 1)">30</text>
<line x1="166.35" y1="706.50" x2="166.35" y2="711.80" stroke="#1a1a1a" stroke-width="1.4"/>
<text font-size="10.1" text-anchor="end" fill="#1a1a1a" stroke="#1a1a1a" stroke-width="0.22" transform="translate(171.65 719.50) rotate(-45) scale(0.93 1)">45</text>
<line x1="178.01" y1="706.50" x2="178.01" y2="711.80" stroke="#1a1a1a" stroke-width="1.4"/>
<text font-size="10.1" text-anchor="end" fill="#1a1a1a" stroke="#1a1a1a" stroke-width="0.22" transform="translate(183.31 719.50) rotate(-45) scale(0.93 1)">60</text>
<line x1="189.68" y1="706.50" x2="189.68" y2="711.80" stroke="#1a1a1a" stroke-width="1.4"/>
<text font-size="10.1" text-anchor="end" fill="#1a1a1a" stroke="#1a1a1a" stroke-width="0.22" transform="translate(194.98 719.50) rotate(-45) scale(0.93 1)">90</text>
<line x1="201.34" y1="706.50" x2="201.34" y2="711.80" stroke="#1a1a1a" stroke-width="1.4"/>
<text font-size="10.1" text-anchor="end" fill="#1a1a1a" stroke="#1a1a1a" stroke-width="0.22" transform="translate(206.64 719.50) rotate(-45) scale(0.93 1)">120</text>
<line x1="213.00" y1="706.50" x2="213.00" y2="711.80" stroke="#1a1a1a" stroke-width="1.4"/>
<text font-size="10.1" text-anchor="end" fill="#1a1a1a" stroke="#1a1a1a" stroke-width="0.22" transform="translate(218.30 719.50) rotate(-45) scale(0.93 1)">150</text>
<line x1="224.67" y1="706.50" x2="224.67" y2="711.80" stroke="#1a1a1a" stroke-width="1.4"/>
<text font-size="10.1" text-anchor="end" fill="#1a1a1a" stroke="#1a1a1a" stroke-width="0.22" transform="translate(229.97 719.50) rotate(-45) scale(0.93 1)">180</text>
<line x1="236.33" y1="706.50" x2="236.33" y2="711.80" stroke="#1a1a1a" stroke-width="1.4"/>
<text font-size="10.1" text-anchor="end" fill="#1a1a1a" stroke="#1a1a1a" stroke-width="0.22" transform="translate(241.63 719.50) rotate(-45) scale(0.93 1)">210</text>
<line x1="248.00" y1="706.50" x2="248.00" y2="711.80" stroke="#1a1a1a" stroke-width="1.4"/>
<text font-size="10.1" text-anchor="end" fill="#1a1a1a" stroke="#1a1a1a" stroke-width="0.22" transform="translate(253.30 719.50) rotate(-45) scale(0.93 1)">240</text>
<text font-size="10.1" text-anchor="middle" fill="#1a1a1a" stroke="#1a1a1a" stroke-width="0.22" transform="translate(150.00 746.50) scale(0.93 1)">Time during- and post-ddDCreg-infusion (min)</text>
<line x1="4.20" y1="762.20" x2="20.80" y2="762.20" stroke="#22677f" stroke-width="2.5" stroke-linecap="round"/>
<circle cx="12.7" cy="762.2" r="2.8" fill="#22677f"/>
<text font-size="10.1" text-anchor="start" font-weight="bold" fill="#1a1a1a" stroke="#1a1a1a" stroke-width="0.1" transform="translate(26.00 765.70) scale(0.93 1)">All patients</text>
<line x1="105.20" y1="762.30" x2="133.00" y2="762.30" stroke="#c8ced5" stroke-width="1.2"/>
<circle cx="119.20" cy="762.30" r="3.7" fill="#c8ced5"/>
<text font-size="10.1" text-anchor="start" fill="#1a1a1a" stroke="#1a1a1a" stroke-width="0.22" transform="translate(138.50 765.60) scale(0.93 1)">01</text>
<line x1="105.20" y1="778.40" x2="133.00" y2="778.40" stroke="#c8ced5" stroke-width="1.2"/>
<rect x="115.50" y="774.70" width="7.40" height="7.40" fill="#c8ced5"/>
<text font-size="10.1" text-anchor="start" fill="#1a1a1a" stroke="#1a1a1a" stroke-width="0.22" transform="translate(138.50 781.70) scale(0.93 1)">06</text>
<line x1="105.20" y1="794.30" x2="133.00" y2="794.30" stroke="#c8ced5" stroke-width="1.2"/>
<circle cx="119.20" cy="794.30" r="2.92" fill="#c8ced5"/>
<text font-size="10.1" text-anchor="start" fill="#1a1a1a" stroke="#1a1a1a" stroke-width="0.22" transform="translate(138.50 797.60) scale(0.93 1)">16</text>
<line x1="105.20" y1="810.20" x2="133.00" y2="810.20" stroke="#c8ced5" stroke-width="1.2"/>
<circle cx="119.20" cy="810.20" r="3.40" fill="none" stroke="#c8ced5" stroke-width="0.6"/>
<path d="M115.50 810.20A3.7 3.7 0 0 1 122.90 810.20Z" fill="#c8ced5"/>
<text font-size="10.1" text-anchor="start" fill="#1a1a1a" stroke="#1a1a1a" stroke-width="0.22" transform="translate(138.50 813.50) scale(0.93 1)">02</text>
<line x1="105.20" y1="826.60" x2="133.00" y2="826.60" stroke="#c8ced5" stroke-width="1.2"/>
<path d="M119.20 822.53L123.27 829.56L115.13 829.56Z" fill="none" stroke="#c8ced5" stroke-width="0.6"/>
<text font-size="10.1" text-anchor="start" fill="#1a1a1a" stroke="#1a1a1a" stroke-width="0.22" transform="translate(138.50 829.90) scale(0.93 1)">10</text>
<line x1="176.80" y1="762.30" x2="204.60" y2="762.30" stroke="#c8ced5" stroke-width="1.2"/>
<path d="M190.80 758.23L194.87 765.26L186.73 765.26Z" fill="#c8ced5"/>
<text font-size="10.1" text-anchor="start" fill="#1a1a1a" stroke="#1a1a1a" stroke-width="0.22" transform="translate(210.30 765.60) scale(0.93 1)">08</text>
<line x1="176.80" y1="778.40" x2="204.60" y2="778.40" stroke="#c8ced5" stroke-width="1.2"/>
<path d="M190.80 774.33L194.87 778.40L190.80 782.47L186.73 778.40Z" fill="#c8ced5"/>
<text font-size="10.1" text-anchor="start" fill="#1a1a1a" stroke="#1a1a1a" stroke-width="0.22" transform="translate(210.30 781.70) scale(0.93 1)">11</text>
<line x1="176.80" y1="794.30" x2="204.60" y2="794.30" stroke="#c8ced5" stroke-width="1.2"/>
<rect x="187.40" y="790.90" width="6.80" height="6.80" fill="none" stroke="#c8ced5" stroke-width="0.6"/>
<text font-size="10.1" text-anchor="start" fill="#1a1a1a" stroke="#1a1a1a" stroke-width="0.22" transform="translate(210.30 797.60) scale(0.93 1)">09</text>
<line x1="176.80" y1="810.20" x2="204.60" y2="810.20" stroke="#c8ced5" stroke-width="1.2"/>
<path d="M190.80 814.27L194.87 807.24L186.73 807.24Z" fill="#c8ced5"/>
<text font-size="10.1" text-anchor="start" fill="#1a1a1a" stroke="#1a1a1a" stroke-width="0.22" transform="translate(210.30 813.50) scale(0.93 1)">12</text>
<line x1="241.60" y1="762.30" x2="269.40" y2="762.30" stroke="#c8ced5" stroke-width="1.2"/>
<path d="M255.60 757.86L260.04 762.30L255.60 766.74L251.16 762.30Z" fill="none" stroke="#c8ced5" stroke-width="0.6"/>
<text font-size="10.1" text-anchor="start" fill="#1a1a1a" stroke="#1a1a1a" stroke-width="0.22" transform="translate(275.00 765.60) scale(0.93 1)">13</text>
<line x1="241.60" y1="778.40" x2="269.40" y2="778.40" stroke="#c8ced5" stroke-width="1.2"/>
<circle cx="255.60" cy="778.40" r="3.40" fill="none" stroke="#c8ced5" stroke-width="0.6"/>
<text font-size="10.1" text-anchor="start" fill="#1a1a1a" stroke="#1a1a1a" stroke-width="0.22" transform="translate(275.00 781.70) scale(0.93 1)">04</text>
<line x1="241.60" y1="794.30" x2="269.40" y2="794.30" stroke="#c8ced5" stroke-width="1.2"/>
<circle cx="255.60" cy="794.30" r="3.40" fill="none" stroke="#c8ced5" stroke-width="0.6"/>
<path d="M251.90 794.30A3.7 3.7 0 0 0 259.30 794.30Z" fill="#c8ced5"/>
<text font-size="10.1" text-anchor="start" fill="#1a1a1a" stroke="#1a1a1a" stroke-width="0.22" transform="translate(275.00 797.60) scale(0.93 1)">05</text>
<line x1="241.60" y1="810.20" x2="269.40" y2="810.20" stroke="#c8ced5" stroke-width="1.2"/>
<rect x="252.20" y="806.80" width="6.80" height="6.80" fill="none" stroke="#c8ced5" stroke-width="0.6"/>
<rect x="251.90" y="806.50" width="7.40" height="3.70" fill="#c8ced5"/>
<text font-size="10.1" text-anchor="start" fill="#1a1a1a" stroke="#1a1a1a" stroke-width="0.22" transform="translate(275.00 813.50) scale(0.93 1)">07</text>
<circle cx="353.00" cy="48.10" r="2.9" fill="#cdd6e0" stroke="#262626" stroke-width="0.95"/>
<circle cx="349.70" cy="56.60" r="2.9" fill="#cdd6e0" stroke="#262626" stroke-width="0.95"/>
<circle cx="356.30" cy="56.60" r="2.9" fill="#cdd6e0" stroke="#262626" stroke-width="0.95"/>
<circle cx="349.70" cy="65.00" r="2.9" fill="#cdd6e0" stroke="#262626" stroke-width="0.95"/>
<circle cx="356.30" cy="65.00" r="2.9" fill="#cdd6e0" stroke="#262626" stroke-width="0.95"/>
<circle cx="346.40" cy="73.30" r="2.9" fill="#cdd6e0" stroke="#262626" stroke-width="0.95"/>
<circle cx="353.00" cy="73.30" r="2.9" fill="#cdd6e0" stroke="#262626" stroke-width="0.95"/>
<circle cx="359.50" cy="73.30" r="2.9" fill="#cdd6e0" stroke="#262626" stroke-width="0.95"/>
<circle cx="353.00" cy="81.70" r="2.9" fill="#cdd6e0" stroke="#262626" stroke-width="0.95"/>
<circle cx="346.40" cy="89.90" r="2.9" fill="#cdd6e0" stroke="#262626" stroke-width="0.95"/>
<circle cx="353.00" cy="89.90" r="2.9" fill="#cdd6e0" stroke="#262626" stroke-width="0.95"/>
<circle cx="359.50" cy="89.90" r="2.9" fill="#cdd6e0" stroke="#262626" stroke-width="0.95"/>
<circle cx="353.00" cy="98.40" r="2.9" fill="#cdd6e0" stroke="#262626" stroke-width="0.95"/>
<circle cx="378.10" cy="56.60" r="2.9" fill="#4d83bf" stroke="#262626" stroke-width="0.95"/>
<circle cx="384.60" cy="56.60" r="2.9" fill="#4d83bf" stroke="#262626" stroke-width="0.95"/>
<circle cx="378.10" cy="65.00" r="2.9" fill="#4d83bf" stroke="#262626" stroke-width="0.95"/>
<circle cx="384.60" cy="65.00" r="2.9" fill="#4d83bf" stroke="#262626" stroke-width="0.95"/>
<circle cx="375.00" cy="73.30" r="2.9" fill="#4d83bf" stroke="#262626" stroke-width="0.95"/>
<circle cx="381.40" cy="73.30" r="2.9" fill="#4d83bf" stroke="#262626" stroke-width="0.95"/>
<circle cx="388.00" cy="73.30" r="2.9" fill="#4d83bf" stroke="#262626" stroke-width="0.95"/>
<circle cx="378.10" cy="81.70" r="2.9" fill="#4d83bf" stroke="#262626" stroke-width="0.95"/>
<circle cx="384.60" cy="81.70" r="2.9" fill="#4d83bf" stroke="#262626" stroke-width="0.95"/>
<circle cx="375.00" cy="89.90" r="2.9" fill="#4d83bf" stroke="#262626" stroke-width="0.95"/>
<circle cx="381.40" cy="89.90" r="2.9" fill="#4d83bf" stroke="#262626" stroke-width="0.95"/>
<circle cx="388.00" cy="89.90" r="2.9" fill="#4d83bf" stroke="#262626" stroke-width="0.95"/>
<circle cx="381.40" cy="98.40" r="2.9" fill="#4d83bf" stroke="#262626" stroke-width="0.95"/>
<line x1="352.90" y1="69.70" x2="352.90" y2="78.10" stroke="#1a1a1a" stroke-width="1.0"/>
<line x1="347.80" y1="69.70" x2="358.00" y2="69.70" stroke="#1a1a1a" stroke-width="1.1"/>
<line x1="347.80" y1="78.10" x2="358.00" y2="78.10" stroke="#1a1a1a" stroke-width="1.1"/>
<line x1="343.40" y1="73.90" x2="362.40" y2="73.90" stroke="#1a1a1a" stroke-width="1.7"/>
<line x1="381.40" y1="72.60" x2="381.40" y2="80.20" stroke="#1a1a1a" stroke-width="1.0"/>
<line x1="376.30" y1="72.60" x2="386.50" y2="72.60" stroke="#1a1a1a" stroke-width="1.1"/>
<line x1="376.30" y1="80.20" x2="386.50" y2="80.20" stroke="#1a1a1a" stroke-width="1.1"/>
<line x1="371.90" y1="76.40" x2="390.90" y2="76.40" stroke="#1a1a1a" stroke-width="1.7"/>
<line x1="333.90" y1="22.65" x2="333.90" y2="148.95" stroke="#1a1a1a" stroke-width="1.7"/>
<line x1="333.05" y1="148.10" x2="400.40" y2="148.10" stroke="#1a1a1a" stroke-width="1.7"/>
<line x1="352.90" y1="148.10" x2="352.90" y2="153.70" stroke="#1a1a1a" stroke-width="1.5"/>
<line x1="381.40" y1="148.10" x2="381.40" y2="153.70" stroke="#1a1a1a" stroke-width="1.5"/>
<line x1="328.30" y1="148.10" x2="333.90" y2="148.10" stroke="#1a1a1a" stroke-width="1.5"/>
<text font-size="10.1" text-anchor="end" fill="#1a1a1a" stroke="#1a1a1a" stroke-width="0.22" transform="translate(325.00 152.20) scale(0.93 1)">0.00</text>
<line x1="330.90" y1="137.71" x2="333.90" y2="137.71" stroke="#1a1a1a" stroke-width="1.5"/>
<line x1="328.30" y1="127.32" x2="333.90" y2="127.32" stroke="#1a1a1a" stroke-width="1.5"/>
<text font-size="10.1" text-anchor="end" fill="#1a1a1a" stroke="#1a1a1a" stroke-width="0.22" transform="translate(325.00 131.42) scale(0.93 1)">0.25</text>
<line x1="330.90" y1="116.94" x2="333.90" y2="116.94" stroke="#1a1a1a" stroke-width="1.5"/>
<line x1="328.30" y1="106.55" x2="333.90" y2="106.55" stroke="#1a1a1a" stroke-width="1.5"/>
<text font-size="10.1" text-anchor="end" fill="#1a1a1a" stroke="#1a1a1a" stroke-width="0.22" transform="translate(325.00 110.65) scale(0.93 1)">0.50</text>
<line x1="330.90" y1="96.16" x2="333.90" y2="96.16" stroke="#1a1a1a" stroke-width="1.5"/>
<line x1="328.30" y1="85.78" x2="333.90" y2="85.78" stroke="#1a1a1a" stroke-width="1.5"/>
<text font-size="10.1" text-anchor="end" fill="#1a1a1a" stroke="#1a1a1a" stroke-width="0.22" transform="translate(325.00 89.88) scale(0.93 1)">0.75</text>
<line x1="330.90" y1="75.39" x2="333.90" y2="75.39" stroke="#1a1a1a" stroke-width="1.5"/>
<line x1="328.30" y1="65.00" x2="333.90" y2="65.00" stroke="#1a1a1a" stroke-width="1.5"/>
<text font-size="10.1" text-anchor="end" fill="#1a1a1a" stroke="#1a1a1a" stroke-width="0.22" transform="translate(325.00 69.10) scale(0.93 1)">1.00</text>
<line x1="330.90" y1="54.61" x2="333.90" y2="54.61" stroke="#1a1a1a" stroke-width="1.5"/>
<line x1="328.30" y1="44.22" x2="333.90" y2="44.22" stroke="#1a1a1a" stroke-width="1.5"/>
<text font-size="10.1" text-anchor="end" fill="#1a1a1a" stroke="#1a1a1a" stroke-width="0.22" transform="translate(325.00 48.32) scale(0.93 1)">1.25</text>
<line x1="330.90" y1="33.84" x2="333.90" y2="33.84" stroke="#1a1a1a" stroke-width="1.5"/>
<line x1="328.30" y1="23.45" x2="333.90" y2="23.45" stroke="#1a1a1a" stroke-width="1.5"/>
<text font-size="10.1" text-anchor="end" fill="#1a1a1a" stroke="#1a1a1a" stroke-width="0.22" transform="translate(325.00 27.55) scale(0.93 1)">1.50</text>
<text font-size="10.1" text-anchor="middle" fill="#1a1a1a" stroke="#1a1a1a" stroke-width="0.22" transform="translate(298.60 90.30) rotate(-90) scale(0.93 1)">Creatinine (mg/dL)</text>
<text font-size="10.1" text-anchor="end" fill="#1a1a1a" stroke="#1a1a1a" stroke-width="0.22" transform="translate(349.30 167.70) rotate(-45) scale(0.953 1)">Pre-infusion</text>
<text font-size="10.1" text-anchor="end" fill="#1a1a1a" stroke="#1a1a1a" stroke-width="0.22" transform="translate(377.80 167.70) rotate(-45) scale(0.953 1)">Post-infusion</text>
<text font-size="10.1" text-anchor="middle" fill="#1a1a1a" stroke="#1a1a1a" stroke-width="0.22" transform="translate(368.05 22.00) scale(0.93 1)">ns</text>
<circle cx="495.10" cy="43.30" r="2.9" fill="#cdd6e0" stroke="#262626" stroke-width="0.95"/>
<circle cx="490.30" cy="46.30" r="2.9" fill="#cdd6e0" stroke="#262626" stroke-width="0.95"/>
<circle cx="486.00" cy="53.70" r="2.9" fill="#cdd6e0" stroke="#262626" stroke-width="0.95"/>
<circle cx="490.50" cy="53.70" r="2.9" fill="#cdd6e0" stroke="#262626" stroke-width="0.95"/>
<circle cx="494.90" cy="58.10" r="2.9" fill="#cdd6e0" stroke="#262626" stroke-width="0.95"/>
<circle cx="499.50" cy="58.40" r="2.9" fill="#cdd6e0" stroke="#262626" stroke-width="0.95"/>
<circle cx="490.30" cy="65.30" r="2.9" fill="#cdd6e0" stroke="#262626" stroke-width="0.95"/>
<circle cx="486.00" cy="70.90" r="2.9" fill="#cdd6e0" stroke="#262626" stroke-width="0.95"/>
<circle cx="494.90" cy="70.90" r="2.9" fill="#cdd6e0" stroke="#262626" stroke-width="0.95"/>
<circle cx="499.50" cy="68.30" r="2.9" fill="#cdd6e0" stroke="#262626" stroke-width="0.95"/>
<circle cx="490.30" cy="76.00" r="2.9" fill="#cdd6e0" stroke="#262626" stroke-width="0.95"/>
<circle cx="499.50" cy="76.20" r="2.9" fill="#cdd6e0" stroke="#262626" stroke-width="0.95"/>
<circle cx="492.90" cy="88.50" r="2.9" fill="#cdd6e0" stroke="#262626" stroke-width="0.95"/>
<circle cx="524.60" cy="53.50" r="2.9" fill="#4d83bf" stroke="#262626" stroke-width="0.95"/>
<circle cx="514.90" cy="56.00" r="2.9" fill="#4d83bf" stroke="#262626" stroke-width="0.95"/>
<circle cx="521.00" cy="58.10" r="2.9" fill="#4d83bf" stroke="#262626" stroke-width="0.95"/>
<circle cx="527.60" cy="58.60" r="2.9" fill="#4d83bf" stroke="#262626" stroke-width="0.95"/>
<circle cx="517.90" cy="63.70" r="2.9" fill="#4d83bf" stroke="#262626" stroke-width="0.95"/>
<circle cx="527.60" cy="65.80" r="2.9" fill="#4d83bf" stroke="#262626" stroke-width="0.95"/>
<circle cx="521.50" cy="66.50" r="2.9" fill="#4d83bf" stroke="#262626" stroke-width="0.95"/>
<circle cx="514.90" cy="73.90" r="2.9" fill="#4d83bf" stroke="#262626" stroke-width="0.95"/>
<circle cx="524.00" cy="73.40" r="2.9" fill="#4d83bf" stroke="#262626" stroke-width="0.95"/>
<circle cx="528.10" cy="76.50" r="2.9" fill="#4d83bf" stroke="#262626" stroke-width="0.95"/>
<circle cx="521.00" cy="78.50" r="2.9" fill="#4d83bf" stroke="#262626" stroke-width="0.95"/>
<circle cx="517.90" cy="70.90" r="2.9" fill="#4d83bf" stroke="#262626" stroke-width="0.95"/>
<circle cx="521.50" cy="95.90" r="2.9" fill="#4d83bf" stroke="#262626" stroke-width="0.95"/>
<line x1="493.00" y1="60.50" x2="493.00" y2="67.30" stroke="#1a1a1a" stroke-width="1.0"/>
<line x1="487.90" y1="60.50" x2="498.10" y2="60.50" stroke="#1a1a1a" stroke-width="1.1"/>
<line x1="487.90" y1="67.30" x2="498.10" y2="67.30" stroke="#1a1a1a" stroke-width="1.1"/>
<line x1="483.50" y1="63.90" x2="502.50" y2="63.90" stroke="#1a1a1a" stroke-width="1.7"/>
<line x1="521.50" y1="64.80" x2="521.50" y2="71.20" stroke="#1a1a1a" stroke-width="1.0"/>
<line x1="516.40" y1="64.80" x2="526.60" y2="64.80" stroke="#1a1a1a" stroke-width="1.1"/>
<line x1="516.40" y1="71.20" x2="526.60" y2="71.20" stroke="#1a1a1a" stroke-width="1.1"/>
<line x1="512.00" y1="68.00" x2="531.00" y2="68.00" stroke="#1a1a1a" stroke-width="1.7"/>
<line x1="474.00" y1="23.10" x2="474.00" y2="149.15" stroke="#1a1a1a" stroke-width="1.7"/>
<line x1="473.15" y1="148.30" x2="540.50" y2="148.30" stroke="#1a1a1a" stroke-width="1.7"/>
<line x1="493.00" y1="148.30" x2="493.00" y2="153.90" stroke="#1a1a1a" stroke-width="1.5"/>
<line x1="521.50" y1="148.30" x2="521.50" y2="153.90" stroke="#1a1a1a" stroke-width="1.5"/>
<line x1="468.40" y1="148.30" x2="474.00" y2="148.30" stroke="#1a1a1a" stroke-width="1.5"/>
<text font-size="10.1" text-anchor="end" fill="#1a1a1a" stroke="#1a1a1a" stroke-width="0.22" transform="translate(465.10 152.40) scale(0.93 1)">0.0</text>
<line x1="471.00" y1="142.08" x2="474.00" y2="142.08" stroke="#1a1a1a" stroke-width="1.5"/>
<line x1="468.40" y1="135.86" x2="474.00" y2="135.86" stroke="#1a1a1a" stroke-width="1.5"/>
<text font-size="10.1" text-anchor="end" fill="#1a1a1a" stroke="#1a1a1a" stroke-width="0.22" transform="translate(465.10 139.96) scale(0.93 1)">0.5</text>
<line x1="471.00" y1="129.64" x2="474.00" y2="129.64" stroke="#1a1a1a" stroke-width="1.5"/>
<line x1="468.40" y1="123.42" x2="474.00" y2="123.42" stroke="#1a1a1a" stroke-width="1.5"/>
<text font-size="10.1" text-anchor="end" fill="#1a1a1a" stroke="#1a1a1a" stroke-width="0.22" transform="translate(465.10 127.52) scale(0.93 1)">1.0</text>
<line x1="471.00" y1="117.20" x2="474.00" y2="117.20" stroke="#1a1a1a" stroke-width="1.5"/>
<line x1="468.40" y1="110.98" x2="474.00" y2="110.98" stroke="#1a1a1a" stroke-width="1.5"/>
<text font-size="10.1" text-anchor="end" fill="#1a1a1a" stroke="#1a1a1a" stroke-width="0.22" transform="translate(465.10 115.08) scale(0.93 1)">1.5</text>
<line x1="471.00" y1="104.76" x2="474.00" y2="104.76" stroke="#1a1a1a" stroke-width="1.5"/>
<line x1="468.40" y1="98.54" x2="474.00" y2="98.54" stroke="#1a1a1a" stroke-width="1.5"/>
<text font-size="10.1" text-anchor="end" fill="#1a1a1a" stroke="#1a1a1a" stroke-width="0.22" transform="translate(465.10 102.64) scale(0.93 1)">2.0</text>
<line x1="471.00" y1="92.32" x2="474.00" y2="92.32" stroke="#1a1a1a" stroke-width="1.5"/>
<line x1="468.40" y1="86.10" x2="474.00" y2="86.10" stroke="#1a1a1a" stroke-width="1.5"/>
<text font-size="10.1" text-anchor="end" fill="#1a1a1a" stroke="#1a1a1a" stroke-width="0.22" transform="translate(465.10 90.20) scale(0.93 1)">2.5</text>
<line x1="471.00" y1="79.88" x2="474.00" y2="79.88" stroke="#1a1a1a" stroke-width="1.5"/>
<line x1="468.40" y1="73.66" x2="474.00" y2="73.66" stroke="#1a1a1a" stroke-width="1.5"/>
<text font-size="10.1" text-anchor="end" fill="#1a1a1a" stroke="#1a1a1a" stroke-width="0.22" transform="translate(465.10 77.76) scale(0.93 1)">3.0</text>
<line x1="471.00" y1="67.44" x2="474.00" y2="67.44" stroke="#1a1a1a" stroke-width="1.5"/>
<line x1="468.40" y1="61.22" x2="474.00" y2="61.22" stroke="#1a1a1a" stroke-width="1.5"/>
<text font-size="10.1" text-anchor="end" fill="#1a1a1a" stroke="#1a1a1a" stroke-width="0.22" transform="translate(465.10 65.32) scale(0.93 1)">3.5</text>
<line x1="471.00" y1="55.00" x2="474.00" y2="55.00" stroke="#1a1a1a" stroke-width="1.5"/>
<line x1="468.40" y1="48.78" x2="474.00" y2="48.78" stroke="#1a1a1a" stroke-width="1.5"/>
<text font-size="10.1" text-anchor="end" fill="#1a1a1a" stroke="#1a1a1a" stroke-width="0.22" transform="translate(465.10 52.88) scale(0.93 1)">4.0</text>
<line x1="471.00" y1="42.56" x2="474.00" y2="42.56" stroke="#1a1a1a" stroke-width="1.5"/>
<line x1="468.40" y1="36.34" x2="474.00" y2="36.34" stroke="#1a1a1a" stroke-width="1.5"/>
<text font-size="10.1" text-anchor="end" fill="#1a1a1a" stroke="#1a1a1a" stroke-width="0.22" transform="translate(465.10 40.44) scale(0.93 1)">4.5</text>
<line x1="471.00" y1="30.12" x2="474.00" y2="30.12" stroke="#1a1a1a" stroke-width="1.5"/>
<line x1="468.40" y1="23.90" x2="474.00" y2="23.90" stroke="#1a1a1a" stroke-width="1.5"/>
<text font-size="10.1" text-anchor="end" fill="#1a1a1a" stroke="#1a1a1a" stroke-width="0.22" transform="translate(465.10 28.00) scale(0.93 1)">5.0</text>
<text font-size="10.1" text-anchor="middle" fill="#1a1a1a" stroke="#1a1a1a" stroke-width="0.22" transform="translate(440.00 88.20) rotate(-90) scale(0.93 1)">Albumin (g/dL)</text>
<text font-size="10.1" text-anchor="end" fill="#1a1a1a" stroke="#1a1a1a" stroke-width="0.22" transform="translate(489.40 167.90) rotate(-45) scale(0.953 1)">Pre-infusion</text>
<text font-size="10.1" text-anchor="end" fill="#1a1a1a" stroke="#1a1a1a" stroke-width="0.22" transform="translate(517.90 167.90) rotate(-45) scale(0.953 1)">Post-infusion</text>
<path d="M493.00 38.50V26.40H521.50V48.30" fill="none" stroke="#1e1e1e" stroke-width="1.2"/>
<path d="M507.25 16.75L507.25 22.25M504.87 18.12L509.63 20.88M504.87 20.88L509.63 18.12" stroke="#111" stroke-width="1.4" fill="none"/>
<circle cx="636.40" cy="57.90" r="2.9" fill="#cdd6e0" stroke="#262626" stroke-width="0.95"/>
<circle cx="636.40" cy="65.90" r="2.9" fill="#cdd6e0" stroke="#262626" stroke-width="0.95"/>
<circle cx="636.40" cy="73.70" r="2.9" fill="#cdd6e0" stroke="#262626" stroke-width="0.95"/>
<circle cx="638.80" cy="83.70" r="2.9" fill="#cdd6e0" stroke="#262626" stroke-width="0.95"/>
<circle cx="634.10" cy="85.80" r="2.9" fill="#cdd6e0" stroke="#262626" stroke-width="0.95"/>
<circle cx="638.80" cy="91.00" r="2.9" fill="#cdd6e0" stroke="#262626" stroke-width="0.95"/>
<circle cx="634.10" cy="94.10" r="2.9" fill="#cdd6e0" stroke="#262626" stroke-width="0.95"/>
<circle cx="629.90" cy="96.20" r="2.9" fill="#cdd6e0" stroke="#262626" stroke-width="0.95"/>
<circle cx="643.00" cy="95.90" r="2.9" fill="#cdd6e0" stroke="#262626" stroke-width="0.95"/>
<circle cx="629.90" cy="109.30" r="2.9" fill="#cdd6e0" stroke="#262626" stroke-width="0.95"/>
<circle cx="629.90" cy="116.10" r="2.9" fill="#cdd6e0" stroke="#262626" stroke-width="0.95"/>
<circle cx="638.30" cy="115.50" r="2.9" fill="#cdd6e0" stroke="#262626" stroke-width="0.95"/>
<circle cx="643.00" cy="115.00" r="2.9" fill="#cdd6e0" stroke="#262626" stroke-width="0.95"/>
<circle cx="664.60" cy="59.60" r="2.9" fill="#4d83bf" stroke="#262626" stroke-width="0.95"/>
<circle cx="664.60" cy="72.20" r="2.9" fill="#4d83bf" stroke="#262626" stroke-width="0.95"/>
<circle cx="671.20" cy="89.40" r="2.9" fill="#4d83bf" stroke="#262626" stroke-width="0.95"/>
<circle cx="666.50" cy="91.00" r="2.9" fill="#4d83bf" stroke="#262626" stroke-width="0.95"/>
<circle cx="658.10" cy="93.60" r="2.9" fill="#4d83bf" stroke="#262626" stroke-width="0.95"/>
<circle cx="662.30" cy="95.70" r="2.9" fill="#4d83bf" stroke="#262626" stroke-width="0.95"/>
<circle cx="666.50" cy="96.70" r="2.9" fill="#4d83bf" stroke="#262626" stroke-width="0.95"/>
<circle cx="671.20" cy="97.30" r="2.9" fill="#4d83bf" stroke="#262626" stroke-width="0.95"/>
<circle cx="662.30" cy="102.50" r="2.9" fill="#4d83bf" stroke="#262626" stroke-width="0.95"/>
<circle cx="658.10" cy="115.00" r="2.9" fill="#4d83bf" stroke="#262626" stroke-width="0.95"/>
<circle cx="658.10" cy="122.30" r="2.9" fill="#4d83bf" stroke="#262626" stroke-width="0.95"/>
<circle cx="666.50" cy="119.20" r="2.9" fill="#4d83bf" stroke="#262626" stroke-width="0.95"/>
<circle cx="671.20" cy="118.20" r="2.9" fill="#4d83bf" stroke="#262626" stroke-width="0.95"/>
<line x1="636.40" y1="87.20" x2="636.40" y2="97.80" stroke="#1a1a1a" stroke-width="1.0"/>
<line x1="631.30" y1="87.20" x2="641.50" y2="87.20" stroke="#1a1a1a" stroke-width="1.1"/>
<line x1="631.30" y1="97.80" x2="641.50" y2="97.80" stroke="#1a1a1a" stroke-width="1.1"/>
<line x1="626.90" y1="92.50" x2="645.90" y2="92.50" stroke="#1a1a1a" stroke-width="1.7"/>
<line x1="664.90" y1="93.60" x2="664.90" y2="103.00" stroke="#1a1a1a" stroke-width="1.0"/>
<line x1="659.80" y1="93.60" x2="670.00" y2="93.60" stroke="#1a1a1a" stroke-width="1.1"/>
<line x1="659.80" y1="103.00" x2="670.00" y2="103.00" stroke="#1a1a1a" stroke-width="1.1"/>
<line x1="655.40" y1="98.30" x2="674.40" y2="98.30" stroke="#1a1a1a" stroke-width="1.7"/>
<line x1="617.40" y1="22.90" x2="617.40" y2="149.40" stroke="#1a1a1a" stroke-width="1.7"/>
<line x1="616.55" y1="148.55" x2="683.90" y2="148.55" stroke="#1a1a1a" stroke-width="1.7"/>
<line x1="636.40" y1="148.55" x2="636.40" y2="154.15" stroke="#1a1a1a" stroke-width="1.5"/>
<line x1="664.90" y1="148.55" x2="664.90" y2="154.15" stroke="#1a1a1a" stroke-width="1.5"/>
<line x1="611.80" y1="148.55" x2="617.40" y2="148.55" stroke="#1a1a1a" stroke-width="1.5"/>
<text font-size="10.1" text-anchor="end" fill="#1a1a1a" stroke="#1a1a1a" stroke-width="0.22" transform="translate(608.50 152.65) scale(0.93 1)">0</text>
<line x1="614.40" y1="140.75" x2="617.40" y2="140.75" stroke="#1a1a1a" stroke-width="1.5"/>
<line x1="611.80" y1="132.94" x2="617.40" y2="132.94" stroke="#1a1a1a" stroke-width="1.5"/>
<text font-size="10.1" text-anchor="end" fill="#1a1a1a" stroke="#1a1a1a" stroke-width="0.22" transform="translate(608.50 137.04) scale(0.93 1)">25</text>
<line x1="614.40" y1="125.14" x2="617.40" y2="125.14" stroke="#1a1a1a" stroke-width="1.5"/>
<line x1="611.80" y1="117.34" x2="617.40" y2="117.34" stroke="#1a1a1a" stroke-width="1.5"/>
<text font-size="10.1" text-anchor="end" fill="#1a1a1a" stroke="#1a1a1a" stroke-width="0.22" transform="translate(608.50 121.44) scale(0.93 1)">50</text>
<line x1="614.40" y1="109.53" x2="617.40" y2="109.53" stroke="#1a1a1a" stroke-width="1.5"/>
<line x1="611.80" y1="101.73" x2="617.40" y2="101.73" stroke="#1a1a1a" stroke-width="1.5"/>
<text font-size="10.1" text-anchor="end" fill="#1a1a1a" stroke="#1a1a1a" stroke-width="0.22" transform="translate(608.50 105.83) scale(0.93 1)">75</text>
<line x1="614.40" y1="93.93" x2="617.40" y2="93.93" stroke="#1a1a1a" stroke-width="1.5"/>
<line x1="611.80" y1="86.12" x2="617.40" y2="86.12" stroke="#1a1a1a" stroke-width="1.5"/>
<text font-size="10.1" text-anchor="end" fill="#1a1a1a" stroke="#1a1a1a" stroke-width="0.22" transform="translate(608.50 90.22) scale(0.93 1)">100</text>
<line x1="614.40" y1="78.32" x2="617.40" y2="78.32" stroke="#1a1a1a" stroke-width="1.5"/>
<line x1="611.80" y1="70.52" x2="617.40" y2="70.52" stroke="#1a1a1a" stroke-width="1.5"/>
<text font-size="10.1" text-anchor="end" fill="#1a1a1a" stroke="#1a1a1a" stroke-width="0.22" transform="translate(608.50 74.62) scale(0.93 1)">125</text>
<line x1="614.40" y1="62.72" x2="617.40" y2="62.72" stroke="#1a1a1a" stroke-width="1.5"/>
<line x1="611.80" y1="54.91" x2="617.40" y2="54.91" stroke="#1a1a1a" stroke-width="1.5"/>
<text font-size="10.1" text-anchor="end" fill="#1a1a1a" stroke="#1a1a1a" stroke-width="0.22" transform="translate(608.50 59.01) scale(0.93 1)">150</text>
<line x1="614.40" y1="47.11" x2="617.40" y2="47.11" stroke="#1a1a1a" stroke-width="1.5"/>
<line x1="611.80" y1="39.31" x2="617.40" y2="39.31" stroke="#1a1a1a" stroke-width="1.5"/>
<text font-size="10.1" text-anchor="end" fill="#1a1a1a" stroke="#1a1a1a" stroke-width="0.22" transform="translate(608.50 43.41) scale(0.93 1)">175</text>
<line x1="614.40" y1="31.50" x2="617.40" y2="31.50" stroke="#1a1a1a" stroke-width="1.5"/>
<line x1="611.80" y1="23.70" x2="617.40" y2="23.70" stroke="#1a1a1a" stroke-width="1.5"/>
<text font-size="10.1" text-anchor="end" fill="#1a1a1a" stroke="#1a1a1a" stroke-width="0.22" transform="translate(608.50 27.80) scale(0.93 1)">200</text>
<text font-size="10.1" text-anchor="middle" fill="#1a1a1a" stroke="#1a1a1a" stroke-width="0.22" transform="translate(580.90 85.50) rotate(-90) scale(0.93 1)">ALP (U/L)</text>
<text font-size="10.1" text-anchor="end" fill="#1a1a1a" stroke="#1a1a1a" stroke-width="0.22" transform="translate(632.80 168.15) rotate(-45) scale(0.953 1)">Pre-infusion</text>
<text font-size="10.1" text-anchor="end" fill="#1a1a1a" stroke="#1a1a1a" stroke-width="0.22" transform="translate(661.30 168.15) rotate(-45) scale(0.953 1)">Post-infusion</text>
<path d="M636.40 38.30V26.40H664.90V40.30" fill="none" stroke="#1e1e1e" stroke-width="1.2"/>
<path d="M644.75 16.55L644.75 22.05M642.37 17.93L647.13 20.68M642.37 20.68L647.13 17.93" stroke="#111" stroke-width="1.4" fill="none"/>
<path d="M650.65 16.55L650.65 22.05M648.27 17.93L653.03 20.68M648.27 20.68L653.03 17.93" stroke="#111" stroke-width="1.4" fill="none"/>
<path d="M656.55 16.55L656.55 22.05M654.17 17.93L658.93 20.68M654.17 20.68L658.93 17.93" stroke="#111" stroke-width="1.4" fill="none"/>
<circle cx="353.20" cy="258.10" r="2.9" fill="#cdd6e0" stroke="#262626" stroke-width="0.95"/>
<circle cx="349.90" cy="277.90" r="2.9" fill="#cdd6e0" stroke="#262626" stroke-width="0.95"/>
<circle cx="356.60" cy="277.90" r="2.9" fill="#cdd6e0" stroke="#262626" stroke-width="0.95"/>
<circle cx="353.20" cy="287.80" r="2.9" fill="#cdd6e0" stroke="#262626" stroke-width="0.95"/>
<circle cx="359.80" cy="297.60" r="2.9" fill="#cdd6e0" stroke="#262626" stroke-width="0.95"/>
<circle cx="353.20" cy="300.00" r="2.9" fill="#cdd6e0" stroke="#262626" stroke-width="0.95"/>
<circle cx="359.80" cy="307.50" r="2.9" fill="#cdd6e0" stroke="#262626" stroke-width="0.95"/>
<circle cx="346.70" cy="310.20" r="2.9" fill="#cdd6e0" stroke="#262626" stroke-width="0.95"/>
<circle cx="353.20" cy="312.70" r="2.9" fill="#cdd6e0" stroke="#262626" stroke-width="0.95"/>
<circle cx="359.80" cy="315.30" r="2.9" fill="#cdd6e0" stroke="#262626" stroke-width="0.95"/>
<circle cx="353.20" cy="320.30" r="2.9" fill="#cdd6e0" stroke="#262626" stroke-width="0.95"/>
<circle cx="353.20" cy="332.50" r="2.9" fill="#cdd6e0" stroke="#262626" stroke-width="0.95"/>
<circle cx="353.20" cy="340.00" r="2.9" fill="#cdd6e0" stroke="#262626" stroke-width="0.95"/>
<circle cx="381.50" cy="255.60" r="2.9" fill="#4d83bf" stroke="#262626" stroke-width="0.95"/>
<circle cx="378.00" cy="287.80" r="2.9" fill="#4d83bf" stroke="#262626" stroke-width="0.95"/>
<circle cx="384.80" cy="287.80" r="2.9" fill="#4d83bf" stroke="#262626" stroke-width="0.95"/>
<circle cx="381.50" cy="297.60" r="2.9" fill="#4d83bf" stroke="#262626" stroke-width="0.95"/>
<circle cx="374.90" cy="300.20" r="2.9" fill="#4d83bf" stroke="#262626" stroke-width="0.95"/>
<circle cx="381.50" cy="305.20" r="2.9" fill="#4d83bf" stroke="#262626" stroke-width="0.95"/>
<circle cx="374.90" cy="312.70" r="2.9" fill="#4d83bf" stroke="#262626" stroke-width="0.95"/>
<circle cx="381.50" cy="315.30" r="2.9" fill="#4d83bf" stroke="#262626" stroke-width="0.95"/>
<circle cx="374.90" cy="322.60" r="2.9" fill="#4d83bf" stroke="#262626" stroke-width="0.95"/>
<circle cx="388.00" cy="322.60" r="2.9" fill="#4d83bf" stroke="#262626" stroke-width="0.95"/>
<circle cx="381.50" cy="327.60" r="2.9" fill="#4d83bf" stroke="#262626" stroke-width="0.95"/>
<circle cx="384.80" cy="337.40" r="2.9" fill="#4d83bf" stroke="#262626" stroke-width="0.95"/>
<circle cx="378.00" cy="342.60" r="2.9" fill="#4d83bf" stroke="#262626" stroke-width="0.95"/>
<line x1="352.90" y1="296.50" x2="352.90" y2="309.90" stroke="#1a1a1a" stroke-width="1.0"/>
<line x1="347.80" y1="296.50" x2="358.00" y2="296.50" stroke="#1a1a1a" stroke-width="1.1"/>
<line x1="347.80" y1="309.90" x2="358.00" y2="309.90" stroke="#1a1a1a" stroke-width="1.1"/>
<line x1="343.40" y1="303.20" x2="362.40" y2="303.20" stroke="#1a1a1a" stroke-width="1.7"/>
<line x1="381.40" y1="302.50" x2="381.40" y2="315.60" stroke="#1a1a1a" stroke-width="1.0"/>
<line x1="376.30" y1="302.50" x2="386.50" y2="302.50" stroke="#1a1a1a" stroke-width="1.1"/>
<line x1="376.30" y1="315.60" x2="386.50" y2="315.60" stroke="#1a1a1a" stroke-width="1.1"/>
<line x1="371.90" y1="309.00" x2="390.90" y2="309.00" stroke="#1a1a1a" stroke-width="1.7"/>
<line x1="333.90" y1="234.90" x2="333.90" y2="360.95" stroke="#1a1a1a" stroke-width="1.7"/>
<line x1="333.05" y1="360.10" x2="400.40" y2="360.10" stroke="#1a1a1a" stroke-width="1.7"/>
<line x1="352.90" y1="360.10" x2="352.90" y2="365.70" stroke="#1a1a1a" stroke-width="1.5"/>
<line x1="381.40" y1="360.10" x2="381.40" y2="365.70" stroke="#1a1a1a" stroke-width="1.5"/>
<line x1="328.30" y1="360.10" x2="333.90" y2="360.10" stroke="#1a1a1a" stroke-width="1.5"/>
<text font-size="10.1" text-anchor="end" fill="#1a1a1a" stroke="#1a1a1a" stroke-width="0.22" transform="translate(325.00 364.20) scale(0.93 1)">0</text>
<line x1="330.90" y1="353.88" x2="333.90" y2="353.88" stroke="#1a1a1a" stroke-width="1.5"/>
<line x1="328.30" y1="347.66" x2="333.90" y2="347.66" stroke="#1a1a1a" stroke-width="1.5"/>
<text font-size="10.1" text-anchor="end" fill="#1a1a1a" stroke="#1a1a1a" stroke-width="0.22" transform="translate(325.00 351.76) scale(0.93 1)">5</text>
<line x1="330.90" y1="341.44" x2="333.90" y2="341.44" stroke="#1a1a1a" stroke-width="1.5"/>
<line x1="328.30" y1="335.22" x2="333.90" y2="335.22" stroke="#1a1a1a" stroke-width="1.5"/>
<text font-size="10.1" text-anchor="end" fill="#1a1a1a" stroke="#1a1a1a" stroke-width="0.22" transform="translate(325.00 339.32) scale(0.93 1)">10</text>
<line x1="330.90" y1="329.00" x2="333.90" y2="329.00" stroke="#1a1a1a" stroke-width="1.5"/>
<line x1="328.30" y1="322.78" x2="333.90" y2="322.78" stroke="#1a1a1a" stroke-width="1.5"/>
<text font-size="10.1" text-anchor="end" fill="#1a1a1a" stroke="#1a1a1a" stroke-width="0.22" transform="translate(325.00 326.88) scale(0.93 1)">15</text>
<line x1="330.90" y1="316.56" x2="333.90" y2="316.56" stroke="#1a1a1a" stroke-width="1.5"/>
<line x1="328.30" y1="310.34" x2="333.90" y2="310.34" stroke="#1a1a1a" stroke-width="1.5"/>
<text font-size="10.1" text-anchor="end" fill="#1a1a1a" stroke="#1a1a1a" stroke-width="0.22" transform="translate(325.00 314.44) scale(0.93 1)">20</text>
<line x1="330.90" y1="304.12" x2="333.90" y2="304.12" stroke="#1a1a1a" stroke-width="1.5"/>
<line x1="328.30" y1="297.90" x2="333.90" y2="297.90" stroke="#1a1a1a" stroke-width="1.5"/>
<text font-size="10.1" text-anchor="end" fill="#1a1a1a" stroke="#1a1a1a" stroke-width="0.22" transform="translate(325.00 302.00) scale(0.93 1)">25</text>
<line x1="330.90" y1="291.68" x2="333.90" y2="291.68" stroke="#1a1a1a" stroke-width="1.5"/>
<line x1="328.30" y1="285.46" x2="333.90" y2="285.46" stroke="#1a1a1a" stroke-width="1.5"/>
<text font-size="10.1" text-anchor="end" fill="#1a1a1a" stroke="#1a1a1a" stroke-width="0.22" transform="translate(325.00 289.56) scale(0.93 1)">30</text>
<line x1="330.90" y1="279.24" x2="333.90" y2="279.24" stroke="#1a1a1a" stroke-width="1.5"/>
<line x1="328.30" y1="273.02" x2="333.90" y2="273.02" stroke="#1a1a1a" stroke-width="1.5"/>
<text font-size="10.1" text-anchor="end" fill="#1a1a1a" stroke="#1a1a1a" stroke-width="0.22" transform="translate(325.00 277.12) scale(0.93 1)">35</text>
<line x1="330.90" y1="266.80" x2="333.90" y2="266.80" stroke="#1a1a1a" stroke-width="1.5"/>
<line x1="328.30" y1="260.58" x2="333.90" y2="260.58" stroke="#1a1a1a" stroke-width="1.5"/>
<text font-size="10.1" text-anchor="end" fill="#1a1a1a" stroke="#1a1a1a" stroke-width="0.22" transform="translate(325.00 264.68) scale(0.93 1)">40</text>
<line x1="330.90" y1="254.36" x2="333.90" y2="254.36" stroke="#1a1a1a" stroke-width="1.5"/>
<line x1="328.30" y1="248.14" x2="333.90" y2="248.14" stroke="#1a1a1a" stroke-width="1.5"/>
<text font-size="10.1" text-anchor="end" fill="#1a1a1a" stroke="#1a1a1a" stroke-width="0.22" transform="translate(325.00 252.24) scale(0.93 1)">45</text>
<line x1="330.90" y1="241.92" x2="333.90" y2="241.92" stroke="#1a1a1a" stroke-width="1.5"/>
<line x1="328.30" y1="235.70" x2="333.90" y2="235.70" stroke="#1a1a1a" stroke-width="1.5"/>
<text font-size="10.1" text-anchor="end" fill="#1a1a1a" stroke="#1a1a1a" stroke-width="0.22" transform="translate(325.00 239.80) scale(0.93 1)">50</text>
<text font-size="10.1" text-anchor="middle" fill="#1a1a1a" stroke="#1a1a1a" stroke-width="0.22" transform="translate(299.20 295.80) rotate(-90) scale(0.93 1)">ALT (U/L)</text>
<text font-size="10.1" text-anchor="end" fill="#1a1a1a" stroke="#1a1a1a" stroke-width="0.22" transform="translate(349.30 379.70) rotate(-45) scale(0.953 1)">Pre-infusion</text>
<text font-size="10.1" text-anchor="end" fill="#1a1a1a" stroke="#1a1a1a" stroke-width="0.22" transform="translate(377.80 379.70) rotate(-45) scale(0.953 1)">Post-infusion</text>
<path d="M352.90 246.40V232.20H381.40V244.20" fill="none" stroke="#1e1e1e" stroke-width="1.2"/>
<path d="M364.20 223.25L364.20 228.75M361.82 224.62L366.58 227.38M361.82 227.38L366.58 224.62" stroke="#111" stroke-width="1.4" fill="none"/>
<path d="M370.10 223.25L370.10 228.75M367.72 224.62L372.48 227.38M367.72 227.38L372.48 224.62" stroke="#111" stroke-width="1.4" fill="none"/>
<circle cx="492.90" cy="258.70" r="2.9" fill="#cdd6e0" stroke="#262626" stroke-width="0.95"/>
<circle cx="492.90" cy="265.40" r="2.9" fill="#cdd6e0" stroke="#262626" stroke-width="0.95"/>
<circle cx="492.90" cy="282.30" r="2.9" fill="#cdd6e0" stroke="#262626" stroke-width="0.95"/>
<circle cx="489.50" cy="291.60" r="2.9" fill="#cdd6e0" stroke="#262626" stroke-width="0.95"/>
<circle cx="496.20" cy="291.60" r="2.9" fill="#cdd6e0" stroke="#262626" stroke-width="0.95"/>
<circle cx="492.90" cy="302.90" r="2.9" fill="#cdd6e0" stroke="#262626" stroke-width="0.95"/>
<circle cx="486.30" cy="310.20" r="2.9" fill="#cdd6e0" stroke="#262626" stroke-width="0.95"/>
<circle cx="492.90" cy="311.60" r="2.9" fill="#cdd6e0" stroke="#262626" stroke-width="0.95"/>
<circle cx="499.40" cy="310.20" r="2.9" fill="#cdd6e0" stroke="#262626" stroke-width="0.95"/>
<circle cx="486.30" cy="318.00" r="2.9" fill="#cdd6e0" stroke="#262626" stroke-width="0.95"/>
<circle cx="492.90" cy="324.30" r="2.9" fill="#cdd6e0" stroke="#262626" stroke-width="0.95"/>
<circle cx="499.40" cy="322.90" r="2.9" fill="#cdd6e0" stroke="#262626" stroke-width="0.95"/>
<circle cx="492.90" cy="335.00" r="2.9" fill="#cdd6e0" stroke="#262626" stroke-width="0.95"/>
<circle cx="523.50" cy="274.40" r="2.9" fill="#4d83bf" stroke="#262626" stroke-width="0.95"/>
<circle cx="519.00" cy="277.90" r="2.9" fill="#4d83bf" stroke="#262626" stroke-width="0.95"/>
<circle cx="521.10" cy="285.40" r="2.9" fill="#4d83bf" stroke="#262626" stroke-width="0.95"/>
<circle cx="523.50" cy="299.00" r="2.9" fill="#4d83bf" stroke="#262626" stroke-width="0.95"/>
<circle cx="519.00" cy="304.00" r="2.9" fill="#4d83bf" stroke="#262626" stroke-width="0.95"/>
<circle cx="523.50" cy="305.20" r="2.9" fill="#4d83bf" stroke="#262626" stroke-width="0.95"/>
<circle cx="514.80" cy="313.30" r="2.9" fill="#4d83bf" stroke="#262626" stroke-width="0.95"/>
<circle cx="523.50" cy="314.50" r="2.9" fill="#4d83bf" stroke="#262626" stroke-width="0.95"/>
<circle cx="519.00" cy="318.00" r="2.9" fill="#4d83bf" stroke="#262626" stroke-width="0.95"/>
<circle cx="527.80" cy="318.00" r="2.9" fill="#4d83bf" stroke="#262626" stroke-width="0.95"/>
<circle cx="519.00" cy="325.70" r="2.9" fill="#4d83bf" stroke="#262626" stroke-width="0.95"/>
<circle cx="523.50" cy="329.00" r="2.9" fill="#4d83bf" stroke="#262626" stroke-width="0.95"/>
<circle cx="521.10" cy="336.50" r="2.9" fill="#4d83bf" stroke="#262626" stroke-width="0.95"/>
<line x1="493.00" y1="295.90" x2="493.00" y2="307.90" stroke="#1a1a1a" stroke-width="1.0"/>
<line x1="487.90" y1="295.90" x2="498.10" y2="295.90" stroke="#1a1a1a" stroke-width="1.1"/>
<line x1="487.90" y1="307.90" x2="498.10" y2="307.90" stroke="#1a1a1a" stroke-width="1.1"/>
<line x1="483.50" y1="301.90" x2="502.50" y2="301.90" stroke="#1a1a1a" stroke-width="1.7"/>
<line x1="521.50" y1="301.90" x2="521.50" y2="313.50" stroke="#1a1a1a" stroke-width="1.0"/>
<line x1="516.40" y1="301.90" x2="526.60" y2="301.90" stroke="#1a1a1a" stroke-width="1.1"/>
<line x1="516.40" y1="313.50" x2="526.60" y2="313.50" stroke="#1a1a1a" stroke-width="1.1"/>
<line x1="512.00" y1="307.70" x2="531.00" y2="307.70" stroke="#1a1a1a" stroke-width="1.7"/>
<line x1="474.00" y1="234.90" x2="474.00" y2="360.95" stroke="#1a1a1a" stroke-width="1.7"/>
<line x1="473.15" y1="360.10" x2="540.50" y2="360.10" stroke="#1a1a1a" stroke-width="1.7"/>
<line x1="493.00" y1="360.10" x2="493.00" y2="365.70" stroke="#1a1a1a" stroke-width="1.5"/>
<line x1="521.50" y1="360.10" x2="521.50" y2="365.70" stroke="#1a1a1a" stroke-width="1.5"/>
<line x1="468.40" y1="360.10" x2="474.00" y2="360.10" stroke="#1a1a1a" stroke-width="1.5"/>
<text font-size="10.1" text-anchor="end" fill="#1a1a1a" stroke="#1a1a1a" stroke-width="0.22" transform="translate(465.10 364.20) scale(0.93 1)">0</text>
<line x1="471.00" y1="352.33" x2="474.00" y2="352.33" stroke="#1a1a1a" stroke-width="1.5"/>
<line x1="468.40" y1="344.55" x2="474.00" y2="344.55" stroke="#1a1a1a" stroke-width="1.5"/>
<text font-size="10.1" text-anchor="end" fill="#1a1a1a" stroke="#1a1a1a" stroke-width="0.22" transform="translate(465.10 348.65) scale(0.93 1)">10</text>
<line x1="471.00" y1="336.78" x2="474.00" y2="336.78" stroke="#1a1a1a" stroke-width="1.5"/>
<line x1="468.40" y1="329.00" x2="474.00" y2="329.00" stroke="#1a1a1a" stroke-width="1.5"/>
<text font-size="10.1" text-anchor="end" fill="#1a1a1a" stroke="#1a1a1a" stroke-width="0.22" transform="translate(465.10 333.10) scale(0.93 1)">20</text>
<line x1="471.00" y1="321.23" x2="474.00" y2="321.23" stroke="#1a1a1a" stroke-width="1.5"/>
<line x1="468.40" y1="313.45" x2="474.00" y2="313.45" stroke="#1a1a1a" stroke-width="1.5"/>
<text font-size="10.1" text-anchor="end" fill="#1a1a1a" stroke="#1a1a1a" stroke-width="0.22" transform="translate(465.10 317.55) scale(0.93 1)">30</text>
<line x1="471.00" y1="305.68" x2="474.00" y2="305.68" stroke="#1a1a1a" stroke-width="1.5"/>
<line x1="468.40" y1="297.90" x2="474.00" y2="297.90" stroke="#1a1a1a" stroke-width="1.5"/>
<text font-size="10.1" text-anchor="end" fill="#1a1a1a" stroke="#1a1a1a" stroke-width="0.22" transform="translate(465.10 302.00) scale(0.93 1)">40</text>
<line x1="471.00" y1="290.12" x2="474.00" y2="290.12" stroke="#1a1a1a" stroke-width="1.5"/>
<line x1="468.40" y1="282.35" x2="474.00" y2="282.35" stroke="#1a1a1a" stroke-width="1.5"/>
<text font-size="10.1" text-anchor="end" fill="#1a1a1a" stroke="#1a1a1a" stroke-width="0.22" transform="translate(465.10 286.45) scale(0.93 1)">50</text>
<line x1="471.00" y1="274.57" x2="474.00" y2="274.57" stroke="#1a1a1a" stroke-width="1.5"/>
<line x1="468.40" y1="266.80" x2="474.00" y2="266.80" stroke="#1a1a1a" stroke-width="1.5"/>
<text font-size="10.1" text-anchor="end" fill="#1a1a1a" stroke="#1a1a1a" stroke-width="0.22" transform="translate(465.10 270.90) scale(0.93 1)">60</text>
<line x1="471.00" y1="259.02" x2="474.00" y2="259.02" stroke="#1a1a1a" stroke-width="1.5"/>
<line x1="468.40" y1="251.25" x2="474.00" y2="251.25" stroke="#1a1a1a" stroke-width="1.5"/>
<text font-size="10.1" text-anchor="end" fill="#1a1a1a" stroke="#1a1a1a" stroke-width="0.22" transform="translate(465.10 255.35) scale(0.93 1)">70</text>
<line x1="471.00" y1="243.47" x2="474.00" y2="243.47" stroke="#1a1a1a" stroke-width="1.5"/>
<line x1="468.40" y1="235.70" x2="474.00" y2="235.70" stroke="#1a1a1a" stroke-width="1.5"/>
<text font-size="10.1" text-anchor="end" fill="#1a1a1a" stroke="#1a1a1a" stroke-width="0.22" transform="translate(465.10 239.80) scale(0.93 1)">80</text>
<text font-size="10.1" text-anchor="middle" fill="#1a1a1a" stroke="#1a1a1a" stroke-width="0.22" transform="translate(441.20 297.00) rotate(-90) scale(0.93 1)">AST (U/L)</text>
<text font-size="10.1" text-anchor="end" fill="#1a1a1a" stroke="#1a1a1a" stroke-width="0.22" transform="translate(489.40 379.70) rotate(-45) scale(0.953 1)">Pre-infusion</text>
<text font-size="10.1" text-anchor="end" fill="#1a1a1a" stroke="#1a1a1a" stroke-width="0.22" transform="translate(517.90 379.70) rotate(-45) scale(0.953 1)">Post-infusion</text>
<path d="M493.00 243.80V232.20H521.50V259.50" fill="none" stroke="#1e1e1e" stroke-width="1.2"/>
<path d="M501.35 223.05L501.35 228.55M498.97 224.43L503.73 227.18M498.97 227.18L503.73 224.43" stroke="#111" stroke-width="1.4" fill="none"/>
<path d="M507.25 223.05L507.25 228.55M504.87 224.43L509.63 227.18M504.87 227.18L509.63 224.43" stroke="#111" stroke-width="1.4" fill="none"/>
<path d="M513.15 223.05L513.15 228.55M510.77 224.43L515.53 227.18M510.77 227.18L515.53 224.43" stroke="#111" stroke-width="1.4" fill="none"/>
<circle cx="636.30" cy="242.90" r="2.9" fill="#cdd6e0" stroke="#262626" stroke-width="0.95"/>
<circle cx="636.30" cy="304.80" r="2.9" fill="#cdd6e0" stroke="#262626" stroke-width="0.95"/>
<circle cx="636.30" cy="322.70" r="2.9" fill="#cdd6e0" stroke="#262626" stroke-width="0.95"/>
<circle cx="639.70" cy="329.00" r="2.9" fill="#cdd6e0" stroke="#262626" stroke-width="0.95"/>
<circle cx="636.30" cy="332.50" r="2.9" fill="#cdd6e0" stroke="#262626" stroke-width="0.95"/>
<circle cx="636.30" cy="343.50" r="2.9" fill="#cdd6e0" stroke="#262626" stroke-width="0.95"/>
<circle cx="629.80" cy="346.60" r="2.9" fill="#cdd6e0" stroke="#262626" stroke-width="0.95"/>
<circle cx="633.30" cy="349.90" r="2.9" fill="#cdd6e0" stroke="#262626" stroke-width="0.95"/>
<circle cx="639.70" cy="351.10" r="2.9" fill="#cdd6e0" stroke="#262626" stroke-width="0.95"/>
<circle cx="643.00" cy="349.60" r="2.9" fill="#cdd6e0" stroke="#262626" stroke-width="0.95"/>
<circle cx="629.80" cy="353.70" r="2.9" fill="#cdd6e0" stroke="#262626" stroke-width="0.95"/>
<circle cx="636.30" cy="352.20" r="2.9" fill="#cdd6e0" stroke="#262626" stroke-width="0.95"/>
<circle cx="643.00" cy="356.70" r="2.9" fill="#cdd6e0" stroke="#262626" stroke-width="0.95"/>
<circle cx="664.60" cy="259.20" r="2.9" fill="#4d83bf" stroke="#262626" stroke-width="0.95"/>
<circle cx="664.60" cy="312.40" r="2.9" fill="#4d83bf" stroke="#262626" stroke-width="0.95"/>
<circle cx="661.60" cy="326.90" r="2.9" fill="#4d83bf" stroke="#262626" stroke-width="0.95"/>
<circle cx="668.10" cy="332.10" r="2.9" fill="#4d83bf" stroke="#262626" stroke-width="0.95"/>
<circle cx="664.60" cy="334.80" r="2.9" fill="#4d83bf" stroke="#262626" stroke-width="0.95"/>
<circle cx="664.60" cy="344.10" r="2.9" fill="#4d83bf" stroke="#262626" stroke-width="0.95"/>
<circle cx="658.50" cy="348.10" r="2.9" fill="#4d83bf" stroke="#262626" stroke-width="0.95"/>
<circle cx="671.40" cy="350.20" r="2.9" fill="#4d83bf" stroke="#262626" stroke-width="0.95"/>
<circle cx="661.60" cy="351.40" r="2.9" fill="#4d83bf" stroke="#262626" stroke-width="0.95"/>
<circle cx="668.10" cy="352.20" r="2.9" fill="#4d83bf" stroke="#262626" stroke-width="0.95"/>
<circle cx="658.50" cy="354.40" r="2.9" fill="#4d83bf" stroke="#262626" stroke-width="0.95"/>
<circle cx="665.40" cy="352.60" r="2.9" fill="#4d83bf" stroke="#262626" stroke-width="0.95"/>
<circle cx="671.40" cy="356.70" r="2.9" fill="#4d83bf" stroke="#262626" stroke-width="0.95"/>
<line x1="636.40" y1="325.20" x2="636.40" y2="342.60" stroke="#1a1a1a" stroke-width="1.0"/>
<line x1="631.30" y1="325.20" x2="641.50" y2="325.20" stroke="#1a1a1a" stroke-width="1.1"/>
<line x1="631.30" y1="342.60" x2="641.50" y2="342.60" stroke="#1a1a1a" stroke-width="1.1"/>
<line x1="626.90" y1="333.70" x2="645.90" y2="333.70" stroke="#1a1a1a" stroke-width="1.7"/>
<line x1="664.90" y1="329.50" x2="664.90" y2="343.80" stroke="#1a1a1a" stroke-width="1.0"/>
<line x1="659.80" y1="329.50" x2="670.00" y2="329.50" stroke="#1a1a1a" stroke-width="1.1"/>
<line x1="659.80" y1="343.80" x2="670.00" y2="343.80" stroke="#1a1a1a" stroke-width="1.1"/>
<line x1="655.40" y1="336.60" x2="674.40" y2="336.60" stroke="#1a1a1a" stroke-width="1.7"/>
<line x1="617.40" y1="234.90" x2="617.40" y2="360.95" stroke="#1a1a1a" stroke-width="1.7"/>
<line x1="616.55" y1="360.10" x2="683.90" y2="360.10" stroke="#1a1a1a" stroke-width="1.7"/>
<line x1="636.40" y1="360.10" x2="636.40" y2="365.70" stroke="#1a1a1a" stroke-width="1.5"/>
<line x1="664.90" y1="360.10" x2="664.90" y2="365.70" stroke="#1a1a1a" stroke-width="1.5"/>
<line x1="611.80" y1="360.10" x2="617.40" y2="360.10" stroke="#1a1a1a" stroke-width="1.5"/>
<text font-size="10.1" text-anchor="end" fill="#1a1a1a" stroke="#1a1a1a" stroke-width="0.22" transform="translate(608.50 364.20) scale(0.93 1)">0</text>
<line x1="614.40" y1="353.19" x2="617.40" y2="353.19" stroke="#1a1a1a" stroke-width="1.5"/>
<line x1="611.80" y1="346.28" x2="617.40" y2="346.28" stroke="#1a1a1a" stroke-width="1.5"/>
<text font-size="10.1" text-anchor="end" fill="#1a1a1a" stroke="#1a1a1a" stroke-width="0.22" transform="translate(608.50 350.38) scale(0.93 1)">50</text>
<line x1="614.40" y1="339.37" x2="617.40" y2="339.37" stroke="#1a1a1a" stroke-width="1.5"/>
<line x1="611.80" y1="332.46" x2="617.40" y2="332.46" stroke="#1a1a1a" stroke-width="1.5"/>
<text font-size="10.1" text-anchor="end" fill="#1a1a1a" stroke="#1a1a1a" stroke-width="0.22" transform="translate(608.50 336.56) scale(0.93 1)">100</text>
<line x1="614.40" y1="325.54" x2="617.40" y2="325.54" stroke="#1a1a1a" stroke-width="1.5"/>
<line x1="611.80" y1="318.63" x2="617.40" y2="318.63" stroke="#1a1a1a" stroke-width="1.5"/>
<text font-size="10.1" text-anchor="end" fill="#1a1a1a" stroke="#1a1a1a" stroke-width="0.22" transform="translate(608.50 322.73) scale(0.93 1)">150</text>
<line x1="614.40" y1="311.72" x2="617.40" y2="311.72" stroke="#1a1a1a" stroke-width="1.5"/>
<line x1="611.80" y1="304.81" x2="617.40" y2="304.81" stroke="#1a1a1a" stroke-width="1.5"/>
<text font-size="10.1" text-anchor="end" fill="#1a1a1a" stroke="#1a1a1a" stroke-width="0.22" transform="translate(608.50 308.91) scale(0.93 1)">200</text>
<line x1="614.40" y1="297.90" x2="617.40" y2="297.90" stroke="#1a1a1a" stroke-width="1.5"/>
<line x1="611.80" y1="290.99" x2="617.40" y2="290.99" stroke="#1a1a1a" stroke-width="1.5"/>
<text font-size="10.1" text-anchor="end" fill="#1a1a1a" stroke="#1a1a1a" stroke-width="0.22" transform="translate(608.50 295.09) scale(0.93 1)">250</text>
<line x1="614.40" y1="284.08" x2="617.40" y2="284.08" stroke="#1a1a1a" stroke-width="1.5"/>
<line x1="611.80" y1="277.17" x2="617.40" y2="277.17" stroke="#1a1a1a" stroke-width="1.5"/>
<text font-size="10.1" text-anchor="end" fill="#1a1a1a" stroke="#1a1a1a" stroke-width="0.22" transform="translate(608.50 281.27) scale(0.93 1)">300</text>
<line x1="614.40" y1="270.26" x2="617.40" y2="270.26" stroke="#1a1a1a" stroke-width="1.5"/>
<line x1="611.80" y1="263.34" x2="617.40" y2="263.34" stroke="#1a1a1a" stroke-width="1.5"/>
<text font-size="10.1" text-anchor="end" fill="#1a1a1a" stroke="#1a1a1a" stroke-width="0.22" transform="translate(608.50 267.44) scale(0.93 1)">350</text>
<line x1="614.40" y1="256.43" x2="617.40" y2="256.43" stroke="#1a1a1a" stroke-width="1.5"/>
<line x1="611.80" y1="249.52" x2="617.40" y2="249.52" stroke="#1a1a1a" stroke-width="1.5"/>
<text font-size="10.1" text-anchor="end" fill="#1a1a1a" stroke="#1a1a1a" stroke-width="0.22" transform="translate(608.50 253.62) scale(0.93 1)">400</text>
<line x1="614.40" y1="242.61" x2="617.40" y2="242.61" stroke="#1a1a1a" stroke-width="1.5"/>
<line x1="611.80" y1="235.70" x2="617.40" y2="235.70" stroke="#1a1a1a" stroke-width="1.5"/>
<text font-size="10.1" text-anchor="end" fill="#1a1a1a" stroke="#1a1a1a" stroke-width="0.22" transform="translate(608.50 239.80) scale(0.93 1)">450</text>
<text font-size="10.1" text-anchor="middle" fill="#1a1a1a" stroke="#1a1a1a" stroke-width="0.22" transform="translate(580.20 298.20) rotate(-90) scale(0.93 1)">GGT (U/L)</text>
<text font-size="10.1" text-anchor="end" fill="#1a1a1a" stroke="#1a1a1a" stroke-width="0.22" transform="translate(632.80 379.70) rotate(-45) scale(0.953 1)">Pre-infusion</text>
<text font-size="10.1" text-anchor="end" fill="#1a1a1a" stroke="#1a1a1a" stroke-width="0.22" transform="translate(661.30 379.70) rotate(-45) scale(0.953 1)">Post-infusion</text>
<path d="M636.40 238.70V232.20H664.90V247.50" fill="none" stroke="#1e1e1e" stroke-width="1.2"/>
<path d="M647.70 223.25L647.70 228.75M645.32 224.62L650.08 227.38M645.32 227.38L650.08 224.62" stroke="#111" stroke-width="1.4" fill="none"/>
<path d="M653.60 223.25L653.60 228.75M651.22 224.62L655.98 227.38M651.22 227.38L655.98 224.62" stroke="#111" stroke-width="1.4" fill="none"/>
<circle cx="350.60" cy="457.30" r="2.9" fill="#cdd6e0" stroke="#262626" stroke-width="0.95"/>
<circle cx="346.20" cy="461.00" r="2.9" fill="#cdd6e0" stroke="#262626" stroke-width="0.95"/>
<circle cx="355.00" cy="462.00" r="2.9" fill="#cdd6e0" stroke="#262626" stroke-width="0.95"/>
<circle cx="359.50" cy="461.00" r="2.9" fill="#cdd6e0" stroke="#262626" stroke-width="0.95"/>
<circle cx="350.60" cy="465.50" r="2.9" fill="#cdd6e0" stroke="#262626" stroke-width="0.95"/>
<circle cx="346.20" cy="475.10" r="2.9" fill="#cdd6e0" stroke="#262626" stroke-width="0.95"/>
<circle cx="350.60" cy="477.00" r="2.9" fill="#cdd6e0" stroke="#262626" stroke-width="0.95"/>
<circle cx="355.30" cy="479.80" r="2.9" fill="#cdd6e0" stroke="#262626" stroke-width="0.95"/>
<circle cx="350.10" cy="490.30" r="2.9" fill="#cdd6e0" stroke="#262626" stroke-width="0.95"/>
<circle cx="355.30" cy="491.30" r="2.9" fill="#cdd6e0" stroke="#262626" stroke-width="0.95"/>
<circle cx="352.70" cy="501.20" r="2.9" fill="#cdd6e0" stroke="#262626" stroke-width="0.95"/>
<circle cx="355.30" cy="516.40" r="2.9" fill="#cdd6e0" stroke="#262626" stroke-width="0.95"/>
<circle cx="350.60" cy="521.40" r="2.9" fill="#cdd6e0" stroke="#262626" stroke-width="0.95"/>
<circle cx="379.10" cy="468.80" r="2.9" fill="#4d83bf" stroke="#262626" stroke-width="0.95"/>
<circle cx="383.60" cy="468.80" r="2.9" fill="#4d83bf" stroke="#262626" stroke-width="0.95"/>
<circle cx="374.90" cy="472.00" r="2.9" fill="#4d83bf" stroke="#262626" stroke-width="0.95"/>
<circle cx="388.30" cy="471.40" r="2.9" fill="#4d83bf" stroke="#262626" stroke-width="0.95"/>
<circle cx="379.10" cy="476.10" r="2.9" fill="#4d83bf" stroke="#262626" stroke-width="0.95"/>
<circle cx="383.60" cy="476.10" r="2.9" fill="#4d83bf" stroke="#262626" stroke-width="0.95"/>
<circle cx="379.10" cy="486.60" r="2.9" fill="#4d83bf" stroke="#262626" stroke-width="0.95"/>
<circle cx="383.60" cy="492.90" r="2.9" fill="#4d83bf" stroke="#262626" stroke-width="0.95"/>
<circle cx="379.10" cy="497.10" r="2.9" fill="#4d83bf" stroke="#262626" stroke-width="0.95"/>
<circle cx="383.60" cy="501.20" r="2.9" fill="#4d83bf" stroke="#262626" stroke-width="0.95"/>
<circle cx="381.50" cy="508.80" r="2.9" fill="#4d83bf" stroke="#262626" stroke-width="0.95"/>
<circle cx="381.50" cy="518.00" r="2.9" fill="#4d83bf" stroke="#262626" stroke-width="0.95"/>
<circle cx="381.50" cy="528.60" r="2.9" fill="#4d83bf" stroke="#262626" stroke-width="0.95"/>
<line x1="352.90" y1="475.40" x2="352.90" y2="487.10" stroke="#1a1a1a" stroke-width="1.0"/>
<line x1="347.80" y1="475.40" x2="358.00" y2="475.40" stroke="#1a1a1a" stroke-width="1.1"/>
<line x1="347.80" y1="487.10" x2="358.00" y2="487.10" stroke="#1a1a1a" stroke-width="1.1"/>
<line x1="343.40" y1="481.40" x2="362.40" y2="481.40" stroke="#1a1a1a" stroke-width="1.7"/>
<line x1="381.40" y1="484.50" x2="381.40" y2="495.00" stroke="#1a1a1a" stroke-width="1.0"/>
<line x1="376.30" y1="484.50" x2="386.50" y2="484.50" stroke="#1a1a1a" stroke-width="1.1"/>
<line x1="376.30" y1="495.00" x2="386.50" y2="495.00" stroke="#1a1a1a" stroke-width="1.1"/>
<line x1="371.90" y1="489.70" x2="390.90" y2="489.70" stroke="#1a1a1a" stroke-width="1.7"/>
<line x1="333.90" y1="448.80" x2="333.90" y2="575.65" stroke="#1a1a1a" stroke-width="1.7"/>
<line x1="333.05" y1="574.80" x2="400.40" y2="574.80" stroke="#1a1a1a" stroke-width="1.7"/>
<line x1="352.90" y1="574.80" x2="352.90" y2="580.40" stroke="#1a1a1a" stroke-width="1.5"/>
<line x1="381.40" y1="574.80" x2="381.40" y2="580.40" stroke="#1a1a1a" stroke-width="1.5"/>
<line x1="328.30" y1="574.80" x2="333.90" y2="574.80" stroke="#1a1a1a" stroke-width="1.5"/>
<text font-size="10.1" text-anchor="end" fill="#1a1a1a" stroke="#1a1a1a" stroke-width="0.22" transform="translate(325.00 578.90) scale(0.93 1)">0.0</text>
<line x1="330.90" y1="564.37" x2="333.90" y2="564.37" stroke="#1a1a1a" stroke-width="1.5"/>
<line x1="328.30" y1="553.93" x2="333.90" y2="553.93" stroke="#1a1a1a" stroke-width="1.5"/>
<text font-size="10.1" text-anchor="end" fill="#1a1a1a" stroke="#1a1a1a" stroke-width="0.22" transform="translate(325.00 558.03) scale(0.93 1)">2.5</text>
<line x1="330.90" y1="543.50" x2="333.90" y2="543.50" stroke="#1a1a1a" stroke-width="1.5"/>
<line x1="328.30" y1="533.07" x2="333.90" y2="533.07" stroke="#1a1a1a" stroke-width="1.5"/>
<text font-size="10.1" text-anchor="end" fill="#1a1a1a" stroke="#1a1a1a" stroke-width="0.22" transform="translate(325.00 537.17) scale(0.93 1)">5.0</text>
<line x1="330.90" y1="522.63" x2="333.90" y2="522.63" stroke="#1a1a1a" stroke-width="1.5"/>
<line x1="328.30" y1="512.20" x2="333.90" y2="512.20" stroke="#1a1a1a" stroke-width="1.5"/>
<text font-size="10.1" text-anchor="end" fill="#1a1a1a" stroke="#1a1a1a" stroke-width="0.22" transform="translate(325.00 516.30) scale(0.93 1)">7.5</text>
<line x1="330.90" y1="501.77" x2="333.90" y2="501.77" stroke="#1a1a1a" stroke-width="1.5"/>
<line x1="328.30" y1="491.33" x2="333.90" y2="491.33" stroke="#1a1a1a" stroke-width="1.5"/>
<text font-size="10.1" text-anchor="end" fill="#1a1a1a" stroke="#1a1a1a" stroke-width="0.22" transform="translate(325.00 495.43) scale(0.93 1)">10.0</text>
<line x1="330.90" y1="480.90" x2="333.90" y2="480.90" stroke="#1a1a1a" stroke-width="1.5"/>
<line x1="328.30" y1="470.47" x2="333.90" y2="470.47" stroke="#1a1a1a" stroke-width="1.5"/>
<text font-size="10.1" text-anchor="end" fill="#1a1a1a" stroke="#1a1a1a" stroke-width="0.22" transform="translate(325.00 474.57) scale(0.93 1)">12.5</text>
<line x1="330.90" y1="460.03" x2="333.90" y2="460.03" stroke="#1a1a1a" stroke-width="1.5"/>
<line x1="328.30" y1="449.60" x2="333.90" y2="449.60" stroke="#1a1a1a" stroke-width="1.5"/>
<text font-size="10.1" text-anchor="end" fill="#1a1a1a" stroke="#1a1a1a" stroke-width="0.22" transform="translate(325.00 453.70) scale(0.93 1)">15.0</text>
<text font-size="10.1" text-anchor="middle" fill="#1a1a1a" stroke="#1a1a1a" stroke-width="0.22" transform="translate(299.60 512.40) rotate(-90) scale(0.93 1)">Hemoglobin (g/dL)</text>
<text font-size="10.1" text-anchor="end" fill="#1a1a1a" stroke="#1a1a1a" stroke-width="0.22" transform="translate(349.30 594.40) rotate(-45) scale(0.953 1)">Pre-infusion</text>
<text font-size="10.1" text-anchor="end" fill="#1a1a1a" stroke="#1a1a1a" stroke-width="0.22" transform="translate(377.80 594.40) rotate(-45) scale(0.953 1)">Post-infusion</text>
<path d="M352.90 450.50V442.90H381.40V457.80" fill="none" stroke="#1e1e1e" stroke-width="1.2"/>
<path d="M361.25 433.25L361.25 438.75M358.87 434.62L363.63 437.38M358.87 437.38L363.63 434.62" stroke="#111" stroke-width="1.4" fill="none"/>
<path d="M367.15 433.25L367.15 438.75M364.77 434.62L369.53 437.38M364.77 437.38L369.53 434.62" stroke="#111" stroke-width="1.4" fill="none"/>
<path d="M373.05 433.25L373.05 438.75M370.67 434.62L375.43 437.38M370.67 437.38L375.43 434.62" stroke="#111" stroke-width="1.4" fill="none"/>
<circle cx="500.20" cy="476.20" r="2.9" fill="#cdd6e0" stroke="#262626" stroke-width="0.95"/>
<circle cx="493.50" cy="479.00" r="2.9" fill="#cdd6e0" stroke="#262626" stroke-width="0.95"/>
<circle cx="493.50" cy="485.10" r="2.9" fill="#cdd6e0" stroke="#262626" stroke-width="0.95"/>
<circle cx="493.50" cy="492.80" r="2.9" fill="#cdd6e0" stroke="#262626" stroke-width="0.95"/>
<circle cx="493.50" cy="510.10" r="2.9" fill="#cdd6e0" stroke="#262626" stroke-width="0.95"/>
<circle cx="487.40" cy="516.20" r="2.9" fill="#cdd6e0" stroke="#262626" stroke-width="0.95"/>
<circle cx="493.50" cy="521.70" r="2.9" fill="#cdd6e0" stroke="#262626" stroke-width="0.95"/>
<circle cx="493.50" cy="534.50" r="2.9" fill="#cdd6e0" stroke="#262626" stroke-width="0.95"/>
<circle cx="487.40" cy="549.10" r="2.9" fill="#cdd6e0" stroke="#262626" stroke-width="0.95"/>
<circle cx="500.20" cy="547.70" r="2.9" fill="#cdd6e0" stroke="#262626" stroke-width="0.95"/>
<circle cx="493.50" cy="553.00" r="2.9" fill="#cdd6e0" stroke="#262626" stroke-width="0.95"/>
<circle cx="500.20" cy="555.20" r="2.9" fill="#cdd6e0" stroke="#262626" stroke-width="0.95"/>
<circle cx="487.40" cy="560.10" r="2.9" fill="#cdd6e0" stroke="#262626" stroke-width="0.95"/>
<circle cx="518.40" cy="489.40" r="2.9" fill="#4d83bf" stroke="#262626" stroke-width="0.95"/>
<circle cx="525.20" cy="488.20" r="2.9" fill="#4d83bf" stroke="#262626" stroke-width="0.95"/>
<circle cx="521.90" cy="496.70" r="2.9" fill="#4d83bf" stroke="#262626" stroke-width="0.95"/>
<circle cx="521.90" cy="505.50" r="2.9" fill="#4d83bf" stroke="#262626" stroke-width="0.95"/>
<circle cx="515.40" cy="522.30" r="2.9" fill="#4d83bf" stroke="#262626" stroke-width="0.95"/>
<circle cx="528.40" cy="521.70" r="2.9" fill="#4d83bf" stroke="#262626" stroke-width="0.95"/>
<circle cx="521.90" cy="527.20" r="2.9" fill="#4d83bf" stroke="#262626" stroke-width="0.95"/>
<circle cx="521.90" cy="542.00" r="2.9" fill="#4d83bf" stroke="#262626" stroke-width="0.95"/>
<circle cx="515.40" cy="551.30" r="2.9" fill="#4d83bf" stroke="#262626" stroke-width="0.95"/>
<circle cx="528.40" cy="551.60" r="2.9" fill="#4d83bf" stroke="#262626" stroke-width="0.95"/>
<circle cx="521.90" cy="556.40" r="2.9" fill="#4d83bf" stroke="#262626" stroke-width="0.95"/>
<circle cx="528.40" cy="557.60" r="2.9" fill="#4d83bf" stroke="#262626" stroke-width="0.95"/>
<circle cx="515.40" cy="562.50" r="2.9" fill="#4d83bf" stroke="#262626" stroke-width="0.95"/>
<line x1="493.60" y1="513.50" x2="493.60" y2="530.50" stroke="#1a1a1a" stroke-width="1.0"/>
<line x1="488.50" y1="513.50" x2="498.70" y2="513.50" stroke="#1a1a1a" stroke-width="1.1"/>
<line x1="488.50" y1="530.50" x2="498.70" y2="530.50" stroke="#1a1a1a" stroke-width="1.1"/>
<line x1="484.10" y1="521.70" x2="503.10" y2="521.70" stroke="#1a1a1a" stroke-width="1.7"/>
<line x1="522.10" y1="521.30" x2="522.10" y2="536.30" stroke="#1a1a1a" stroke-width="1.0"/>
<line x1="517.00" y1="521.30" x2="527.20" y2="521.30" stroke="#1a1a1a" stroke-width="1.1"/>
<line x1="517.00" y1="536.30" x2="527.20" y2="536.30" stroke="#1a1a1a" stroke-width="1.1"/>
<line x1="512.60" y1="528.60" x2="531.60" y2="528.60" stroke="#1a1a1a" stroke-width="1.7"/>
<line x1="474.60" y1="448.80" x2="474.60" y2="575.65" stroke="#1a1a1a" stroke-width="1.7"/>
<line x1="473.75" y1="574.80" x2="541.10" y2="574.80" stroke="#1a1a1a" stroke-width="1.7"/>
<line x1="493.60" y1="574.80" x2="493.60" y2="580.40" stroke="#1a1a1a" stroke-width="1.5"/>
<line x1="522.10" y1="574.80" x2="522.10" y2="580.40" stroke="#1a1a1a" stroke-width="1.5"/>
<line x1="469.00" y1="574.80" x2="474.60" y2="574.80" stroke="#1a1a1a" stroke-width="1.5"/>
<text font-size="10.1" text-anchor="end" fill="#1a1a1a" stroke="#1a1a1a" stroke-width="0.22" transform="translate(465.70 578.90) scale(0.93 1)">0</text>
<line x1="471.60" y1="568.54" x2="474.60" y2="568.54" stroke="#1a1a1a" stroke-width="1.5"/>
<line x1="469.00" y1="562.28" x2="474.60" y2="562.28" stroke="#1a1a1a" stroke-width="1.5"/>
<text font-size="10.1" text-anchor="end" fill="#1a1a1a" stroke="#1a1a1a" stroke-width="0.22" transform="translate(465.70 566.38) scale(0.93 1)">25</text>
<line x1="471.60" y1="556.02" x2="474.60" y2="556.02" stroke="#1a1a1a" stroke-width="1.5"/>
<line x1="469.00" y1="549.76" x2="474.60" y2="549.76" stroke="#1a1a1a" stroke-width="1.5"/>
<text font-size="10.1" text-anchor="end" fill="#1a1a1a" stroke="#1a1a1a" stroke-width="0.22" transform="translate(465.70 553.86) scale(0.93 1)">50</text>
<line x1="471.60" y1="543.50" x2="474.60" y2="543.50" stroke="#1a1a1a" stroke-width="1.5"/>
<line x1="469.00" y1="537.24" x2="474.60" y2="537.24" stroke="#1a1a1a" stroke-width="1.5"/>
<text font-size="10.1" text-anchor="end" fill="#1a1a1a" stroke="#1a1a1a" stroke-width="0.22" transform="translate(465.70 541.34) scale(0.93 1)">75</text>
<line x1="471.60" y1="530.98" x2="474.60" y2="530.98" stroke="#1a1a1a" stroke-width="1.5"/>
<line x1="469.00" y1="524.72" x2="474.60" y2="524.72" stroke="#1a1a1a" stroke-width="1.5"/>
<text font-size="10.1" text-anchor="end" fill="#1a1a1a" stroke="#1a1a1a" stroke-width="0.22" transform="translate(465.70 528.82) scale(0.93 1)">100</text>
<line x1="471.60" y1="518.46" x2="474.60" y2="518.46" stroke="#1a1a1a" stroke-width="1.5"/>
<line x1="469.00" y1="512.20" x2="474.60" y2="512.20" stroke="#1a1a1a" stroke-width="1.5"/>
<text font-size="10.1" text-anchor="end" fill="#1a1a1a" stroke="#1a1a1a" stroke-width="0.22" transform="translate(465.70 516.30) scale(0.93 1)">125</text>
<line x1="471.60" y1="505.94" x2="474.60" y2="505.94" stroke="#1a1a1a" stroke-width="1.5"/>
<line x1="469.00" y1="499.68" x2="474.60" y2="499.68" stroke="#1a1a1a" stroke-width="1.5"/>
<text font-size="10.1" text-anchor="end" fill="#1a1a1a" stroke="#1a1a1a" stroke-width="0.22" transform="translate(465.70 503.78) scale(0.93 1)">150</text>
<line x1="471.60" y1="493.42" x2="474.60" y2="493.42" stroke="#1a1a1a" stroke-width="1.5"/>
<line x1="469.00" y1="487.16" x2="474.60" y2="487.16" stroke="#1a1a1a" stroke-width="1.5"/>
<text font-size="10.1" text-anchor="end" fill="#1a1a1a" stroke="#1a1a1a" stroke-width="0.22" transform="translate(465.70 491.26) scale(0.93 1)">175</text>
<line x1="471.60" y1="480.90" x2="474.60" y2="480.90" stroke="#1a1a1a" stroke-width="1.5"/>
<line x1="469.00" y1="474.64" x2="474.60" y2="474.64" stroke="#1a1a1a" stroke-width="1.5"/>
<text font-size="10.1" text-anchor="end" fill="#1a1a1a" stroke="#1a1a1a" stroke-width="0.22" transform="translate(465.70 478.74) scale(0.93 1)">200</text>
<line x1="471.60" y1="468.38" x2="474.60" y2="468.38" stroke="#1a1a1a" stroke-width="1.5"/>
<line x1="469.00" y1="462.12" x2="474.60" y2="462.12" stroke="#1a1a1a" stroke-width="1.5"/>
<text font-size="10.1" text-anchor="end" fill="#1a1a1a" stroke="#1a1a1a" stroke-width="0.22" transform="translate(465.70 466.22) scale(0.93 1)">225</text>
<line x1="471.60" y1="455.86" x2="474.60" y2="455.86" stroke="#1a1a1a" stroke-width="1.5"/>
<line x1="469.00" y1="449.60" x2="474.60" y2="449.60" stroke="#1a1a1a" stroke-width="1.5"/>
<text font-size="10.1" text-anchor="end" fill="#1a1a1a" stroke="#1a1a1a" stroke-width="0.22" transform="translate(465.70 453.70) scale(0.93 1)">250</text>
<text font-size="10.1" text-anchor="middle" fill="#1a1a1a" stroke="#1a1a1a" stroke-width="0.22" transform="translate(440.80 518.20) rotate(-90) scale(0.93 1)">Platelets (10^9/L)</text>
<text font-size="10.1" text-anchor="end" fill="#1a1a1a" stroke="#1a1a1a" stroke-width="0.22" transform="translate(490.00 594.40) rotate(-45) scale(0.953 1)">Pre-infusion</text>
<text font-size="10.1" text-anchor="end" fill="#1a1a1a" stroke="#1a1a1a" stroke-width="0.22" transform="translate(518.50 594.40) rotate(-45) scale(0.953 1)">Post-infusion</text>
<path d="M493.60 459.10V442.30H522.10V476.20" fill="none" stroke="#1e1e1e" stroke-width="1.2"/>
<path d="M501.95 433.25L501.95 438.75M499.57 434.62L504.33 437.38M499.57 437.38L504.33 434.62" stroke="#111" stroke-width="1.4" fill="none"/>
<path d="M507.85 433.25L507.85 438.75M505.47 434.62L510.23 437.38M505.47 437.38L510.23 434.62" stroke="#111" stroke-width="1.4" fill="none"/>
<path d="M513.75 433.25L513.75 438.75M511.37 434.62L516.13 437.38M511.37 437.38L516.13 434.62" stroke="#111" stroke-width="1.4" fill="none"/>
<circle cx="637.20" cy="459.60" r="2.9" fill="#cdd6e0" stroke="#262626" stroke-width="0.95"/>
<circle cx="630.90" cy="470.40" r="2.9" fill="#cdd6e0" stroke="#262626" stroke-width="0.95"/>
<circle cx="637.20" cy="467.20" r="2.9" fill="#cdd6e0" stroke="#262626" stroke-width="0.95"/>
<circle cx="643.60" cy="473.40" r="2.9" fill="#cdd6e0" stroke="#262626" stroke-width="0.95"/>
<circle cx="637.20" cy="489.00" r="2.9" fill="#cdd6e0" stroke="#262626" stroke-width="0.95"/>
<circle cx="634.00" cy="504.30" r="2.9" fill="#cdd6e0" stroke="#262626" stroke-width="0.95"/>
<circle cx="640.40" cy="502.40" r="2.9" fill="#cdd6e0" stroke="#262626" stroke-width="0.95"/>
<circle cx="633.80" cy="526.20" r="2.9" fill="#cdd6e0" stroke="#262626" stroke-width="0.95"/>
<circle cx="640.40" cy="524.30" r="2.9" fill="#cdd6e0" stroke="#262626" stroke-width="0.95"/>
<circle cx="630.90" cy="535.30" r="2.9" fill="#cdd6e0" stroke="#262626" stroke-width="0.95"/>
<circle cx="637.20" cy="540.00" r="2.9" fill="#cdd6e0" stroke="#262626" stroke-width="0.95"/>
<circle cx="643.60" cy="536.80" r="2.9" fill="#cdd6e0" stroke="#262626" stroke-width="0.95"/>
<circle cx="637.20" cy="546.40" r="2.9" fill="#cdd6e0" stroke="#262626" stroke-width="0.95"/>
<circle cx="659.00" cy="491.90" r="2.9" fill="#4d83bf" stroke="#262626" stroke-width="0.95"/>
<circle cx="659.00" cy="498.30" r="2.9" fill="#4d83bf" stroke="#262626" stroke-width="0.95"/>
<circle cx="663.40" cy="496.60" r="2.9" fill="#4d83bf" stroke="#262626" stroke-width="0.95"/>
<circle cx="667.90" cy="494.70" r="2.9" fill="#4d83bf" stroke="#262626" stroke-width="0.95"/>
<circle cx="672.40" cy="496.60" r="2.9" fill="#4d83bf" stroke="#262626" stroke-width="0.95"/>
<circle cx="663.40" cy="515.10" r="2.9" fill="#4d83bf" stroke="#262626" stroke-width="0.95"/>
<circle cx="667.90" cy="513.50" r="2.9" fill="#4d83bf" stroke="#262626" stroke-width="0.95"/>
<circle cx="665.30" cy="529.40" r="2.9" fill="#4d83bf" stroke="#262626" stroke-width="0.95"/>
<circle cx="663.40" cy="536.80" r="2.9" fill="#4d83bf" stroke="#262626" stroke-width="0.95"/>
<circle cx="667.90" cy="541.70" r="2.9" fill="#4d83bf" stroke="#262626" stroke-width="0.95"/>
<circle cx="662.80" cy="543.50" r="2.9" fill="#4d83bf" stroke="#262626" stroke-width="0.95"/>
<circle cx="667.90" cy="547.70" r="2.9" fill="#4d83bf" stroke="#262626" stroke-width="0.95"/>
<circle cx="665.30" cy="554.10" r="2.9" fill="#4d83bf" stroke="#262626" stroke-width="0.95"/>
<line x1="637.50" y1="497.50" x2="637.50" y2="514.00" stroke="#1a1a1a" stroke-width="1.0"/>
<line x1="632.40" y1="497.50" x2="642.60" y2="497.50" stroke="#1a1a1a" stroke-width="1.1"/>
<line x1="632.40" y1="514.00" x2="642.60" y2="514.00" stroke="#1a1a1a" stroke-width="1.1"/>
<line x1="628.00" y1="505.70" x2="647.00" y2="505.70" stroke="#1a1a1a" stroke-width="1.7"/>
<line x1="666.00" y1="513.50" x2="666.00" y2="526.50" stroke="#1a1a1a" stroke-width="1.0"/>
<line x1="660.90" y1="513.50" x2="671.10" y2="513.50" stroke="#1a1a1a" stroke-width="1.1"/>
<line x1="660.90" y1="526.50" x2="671.10" y2="526.50" stroke="#1a1a1a" stroke-width="1.1"/>
<line x1="656.50" y1="520.00" x2="675.50" y2="520.00" stroke="#1a1a1a" stroke-width="1.7"/>
<line x1="618.50" y1="448.80" x2="618.50" y2="575.65" stroke="#1a1a1a" stroke-width="1.7"/>
<line x1="617.65" y1="574.80" x2="685.00" y2="574.80" stroke="#1a1a1a" stroke-width="1.7"/>
<line x1="637.50" y1="574.80" x2="637.50" y2="580.40" stroke="#1a1a1a" stroke-width="1.5"/>
<line x1="666.00" y1="574.80" x2="666.00" y2="580.40" stroke="#1a1a1a" stroke-width="1.5"/>
<line x1="612.90" y1="574.80" x2="618.50" y2="574.80" stroke="#1a1a1a" stroke-width="1.5"/>
<text font-size="10.1" text-anchor="end" fill="#1a1a1a" stroke="#1a1a1a" stroke-width="0.22" transform="translate(609.60 578.90) scale(0.93 1)">0</text>
<line x1="615.50" y1="566.97" x2="618.50" y2="566.97" stroke="#1a1a1a" stroke-width="1.5"/>
<line x1="612.90" y1="559.15" x2="618.50" y2="559.15" stroke="#1a1a1a" stroke-width="1.5"/>
<text font-size="10.1" text-anchor="end" fill="#1a1a1a" stroke="#1a1a1a" stroke-width="0.22" transform="translate(609.60 563.25) scale(0.93 1)">1</text>
<line x1="615.50" y1="551.32" x2="618.50" y2="551.32" stroke="#1a1a1a" stroke-width="1.5"/>
<line x1="612.90" y1="543.50" x2="618.50" y2="543.50" stroke="#1a1a1a" stroke-width="1.5"/>
<text font-size="10.1" text-anchor="end" fill="#1a1a1a" stroke="#1a1a1a" stroke-width="0.22" transform="translate(609.60 547.60) scale(0.93 1)">2</text>
<line x1="615.50" y1="535.67" x2="618.50" y2="535.67" stroke="#1a1a1a" stroke-width="1.5"/>
<line x1="612.90" y1="527.85" x2="618.50" y2="527.85" stroke="#1a1a1a" stroke-width="1.5"/>
<text font-size="10.1" text-anchor="end" fill="#1a1a1a" stroke="#1a1a1a" stroke-width="0.22" transform="translate(609.60 531.95) scale(0.93 1)">3</text>
<line x1="615.50" y1="520.02" x2="618.50" y2="520.02" stroke="#1a1a1a" stroke-width="1.5"/>
<line x1="612.90" y1="512.20" x2="618.50" y2="512.20" stroke="#1a1a1a" stroke-width="1.5"/>
<text font-size="10.1" text-anchor="end" fill="#1a1a1a" stroke="#1a1a1a" stroke-width="0.22" transform="translate(609.60 516.30) scale(0.93 1)">4</text>
<line x1="615.50" y1="504.38" x2="618.50" y2="504.38" stroke="#1a1a1a" stroke-width="1.5"/>
<line x1="612.90" y1="496.55" x2="618.50" y2="496.55" stroke="#1a1a1a" stroke-width="1.5"/>
<text font-size="10.1" text-anchor="end" fill="#1a1a1a" stroke="#1a1a1a" stroke-width="0.22" transform="translate(609.60 500.65) scale(0.93 1)">5</text>
<line x1="615.50" y1="488.73" x2="618.50" y2="488.73" stroke="#1a1a1a" stroke-width="1.5"/>
<line x1="612.90" y1="480.90" x2="618.50" y2="480.90" stroke="#1a1a1a" stroke-width="1.5"/>
<text font-size="10.1" text-anchor="end" fill="#1a1a1a" stroke="#1a1a1a" stroke-width="0.22" transform="translate(609.60 485.00) scale(0.93 1)">6</text>
<line x1="615.50" y1="473.08" x2="618.50" y2="473.08" stroke="#1a1a1a" stroke-width="1.5"/>
<line x1="612.90" y1="465.25" x2="618.50" y2="465.25" stroke="#1a1a1a" stroke-width="1.5"/>
<text font-size="10.1" text-anchor="end" fill="#1a1a1a" stroke="#1a1a1a" stroke-width="0.22" transform="translate(609.60 469.35) scale(0.93 1)">7</text>
<line x1="615.50" y1="457.43" x2="618.50" y2="457.43" stroke="#1a1a1a" stroke-width="1.5"/>
<line x1="612.90" y1="449.60" x2="618.50" y2="449.60" stroke="#1a1a1a" stroke-width="1.5"/>
<text font-size="10.1" text-anchor="end" fill="#1a1a1a" stroke="#1a1a1a" stroke-width="0.22" transform="translate(609.60 453.70) scale(0.93 1)">8</text>
<text font-size="10.1" text-anchor="middle" fill="#1a1a1a" stroke="#1a1a1a" stroke-width="0.22" transform="translate(580.60 518.20) rotate(-90) scale(0.93 1)">White blood cells (x10^9/L)</text>
<text font-size="10.1" text-anchor="end" fill="#1a1a1a" stroke="#1a1a1a" stroke-width="0.22" transform="translate(633.90 594.40) rotate(-45) scale(0.953 1)">Pre-infusion</text>
<text font-size="10.1" text-anchor="end" fill="#1a1a1a" stroke="#1a1a1a" stroke-width="0.22" transform="translate(662.40 594.40) rotate(-45) scale(0.953 1)">Post-infusion</text>
<path d="M637.50 452.60V442.30H666.00V480.70" fill="none" stroke="#1e1e1e" stroke-width="1.2"/>
<path d="M645.85 433.25L645.85 438.75M643.47 434.62L648.23 437.38M643.47 437.38L648.23 434.62" stroke="#111" stroke-width="1.4" fill="none"/>
<path d="M651.75 433.25L651.75 438.75M649.37 434.62L654.13 437.38M649.37 437.38L654.13 434.62" stroke="#111" stroke-width="1.4" fill="none"/>
<path d="M657.65 433.25L657.65 438.75M655.27 434.62L660.03 437.38M655.27 437.38L660.03 434.62" stroke="#111" stroke-width="1.4" fill="none"/>
<circle cx="434.50" cy="713.60" r="2.9" fill="#cdd6e0" stroke="#262626" stroke-width="0.95"/>
<circle cx="431.40" cy="732.30" r="2.9" fill="#cdd6e0" stroke="#262626" stroke-width="0.95"/>
<circle cx="437.90" cy="731.30" r="2.9" fill="#cdd6e0" stroke="#262626" stroke-width="0.95"/>
<circle cx="431.40" cy="749.60" r="2.9" fill="#cdd6e0" stroke="#262626" stroke-width="0.95"/>
<circle cx="434.50" cy="751.80" r="2.9" fill="#cdd6e0" stroke="#262626" stroke-width="0.95"/>
<circle cx="437.90" cy="751.80" r="2.9" fill="#cdd6e0" stroke="#262626" stroke-width="0.95"/>
<circle cx="431.40" cy="775.20" r="2.9" fill="#cdd6e0" stroke="#262626" stroke-width="0.95"/>
<circle cx="428.40" cy="778.90" r="2.9" fill="#cdd6e0" stroke="#262626" stroke-width="0.95"/>
<circle cx="434.50" cy="777.60" r="2.9" fill="#cdd6e0" stroke="#262626" stroke-width="0.95"/>
<circle cx="437.90" cy="777.90" r="2.9" fill="#cdd6e0" stroke="#262626" stroke-width="0.95"/>
<circle cx="441.20" cy="773.40" r="2.9" fill="#cdd6e0" stroke="#262626" stroke-width="0.95"/>
<circle cx="441.20" cy="779.80" r="2.9" fill="#cdd6e0" stroke="#262626" stroke-width="0.95"/>
<circle cx="436.00" cy="751.50" r="2.9" fill="#cdd6e0" stroke="#262626" stroke-width="0.95"/>
<circle cx="462.90" cy="696.20" r="2.9" fill="#4d83bf" stroke="#262626" stroke-width="0.95"/>
<circle cx="456.40" cy="707.60" r="2.9" fill="#4d83bf" stroke="#262626" stroke-width="0.95"/>
<circle cx="462.90" cy="712.40" r="2.9" fill="#4d83bf" stroke="#262626" stroke-width="0.95"/>
<circle cx="462.90" cy="727.10" r="2.9" fill="#4d83bf" stroke="#262626" stroke-width="0.95"/>
<circle cx="459.40" cy="741.30" r="2.9" fill="#4d83bf" stroke="#262626" stroke-width="0.95"/>
<circle cx="466.20" cy="742.30" r="2.9" fill="#4d83bf" stroke="#262626" stroke-width="0.95"/>
<circle cx="462.90" cy="759.60" r="2.9" fill="#4d83bf" stroke="#262626" stroke-width="0.95"/>
<circle cx="456.40" cy="771.80" r="2.9" fill="#4d83bf" stroke="#262626" stroke-width="0.95"/>
<circle cx="462.90" cy="770.30" r="2.9" fill="#4d83bf" stroke="#262626" stroke-width="0.95"/>
<circle cx="469.40" cy="771.80" r="2.9" fill="#4d83bf" stroke="#262626" stroke-width="0.95"/>
<circle cx="456.40" cy="779.80" r="2.9" fill="#4d83bf" stroke="#262626" stroke-width="0.95"/>
<circle cx="462.90" cy="776.70" r="2.9" fill="#4d83bf" stroke="#262626" stroke-width="0.95"/>
<circle cx="469.40" cy="778.90" r="2.9" fill="#4d83bf" stroke="#262626" stroke-width="0.95"/>
<line x1="434.80" y1="749.50" x2="434.80" y2="762.00" stroke="#1a1a1a" stroke-width="1.0"/>
<line x1="429.70" y1="749.50" x2="439.90" y2="749.50" stroke="#1a1a1a" stroke-width="1.1"/>
<line x1="429.70" y1="762.00" x2="439.90" y2="762.00" stroke="#1a1a1a" stroke-width="1.1"/>
<line x1="425.30" y1="755.70" x2="444.30" y2="755.70" stroke="#1a1a1a" stroke-width="1.7"/>
<line x1="463.30" y1="740.50" x2="463.30" y2="757.50" stroke="#1a1a1a" stroke-width="1.0"/>
<line x1="458.20" y1="740.50" x2="468.40" y2="740.50" stroke="#1a1a1a" stroke-width="1.1"/>
<line x1="458.20" y1="757.50" x2="468.40" y2="757.50" stroke="#1a1a1a" stroke-width="1.1"/>
<line x1="453.80" y1="748.80" x2="472.80" y2="748.80" stroke="#1a1a1a" stroke-width="1.7"/>
<line x1="415.80" y1="679.00" x2="415.80" y2="804.25" stroke="#1a1a1a" stroke-width="1.7"/>
<line x1="414.95" y1="803.40" x2="482.30" y2="803.40" stroke="#1a1a1a" stroke-width="1.7"/>
<line x1="434.80" y1="803.40" x2="434.80" y2="809.00" stroke="#1a1a1a" stroke-width="1.5"/>
<line x1="463.30" y1="803.40" x2="463.30" y2="809.00" stroke="#1a1a1a" stroke-width="1.5"/>
<line x1="410.20" y1="803.40" x2="415.80" y2="803.40" stroke="#1a1a1a" stroke-width="1.5"/>
<text font-size="10.1" text-anchor="end" fill="#1a1a1a" stroke="#1a1a1a" stroke-width="0.22" transform="translate(403.20 807.50) scale(0.88 1)">12</text>
<line x1="412.80" y1="798.25" x2="415.80" y2="798.25" stroke="#1a1a1a" stroke-width="1.5"/>
<line x1="410.20" y1="793.10" x2="415.80" y2="793.10" stroke="#1a1a1a" stroke-width="1.5"/>
<text font-size="10.1" text-anchor="end" fill="#1a1a1a" stroke="#1a1a1a" stroke-width="0.22" transform="translate(403.20 797.20) scale(0.88 1)">13</text>
<line x1="412.80" y1="787.95" x2="415.80" y2="787.95" stroke="#1a1a1a" stroke-width="1.5"/>
<line x1="410.20" y1="782.80" x2="415.80" y2="782.80" stroke="#1a1a1a" stroke-width="1.5"/>
<text font-size="10.1" text-anchor="end" fill="#1a1a1a" stroke="#1a1a1a" stroke-width="0.22" transform="translate(403.20 786.90) scale(0.88 1)">14</text>
<line x1="412.80" y1="777.65" x2="415.80" y2="777.65" stroke="#1a1a1a" stroke-width="1.5"/>
<line x1="410.20" y1="772.50" x2="415.80" y2="772.50" stroke="#1a1a1a" stroke-width="1.5"/>
<text font-size="10.1" text-anchor="end" fill="#1a1a1a" stroke="#1a1a1a" stroke-width="0.22" transform="translate(403.20 776.60) scale(0.88 1)">15</text>
<line x1="412.80" y1="767.35" x2="415.80" y2="767.35" stroke="#1a1a1a" stroke-width="1.5"/>
<line x1="410.20" y1="762.20" x2="415.80" y2="762.20" stroke="#1a1a1a" stroke-width="1.5"/>
<text font-size="10.1" text-anchor="end" fill="#1a1a1a" stroke="#1a1a1a" stroke-width="0.22" transform="translate(403.20 766.30) scale(0.88 1)">16</text>
<line x1="412.80" y1="757.05" x2="415.80" y2="757.05" stroke="#1a1a1a" stroke-width="1.5"/>
<line x1="410.20" y1="751.90" x2="415.80" y2="751.90" stroke="#1a1a1a" stroke-width="1.5"/>
<text font-size="10.1" text-anchor="end" fill="#1a1a1a" stroke="#1a1a1a" stroke-width="0.22" transform="translate(403.20 756.00) scale(0.88 1)">17</text>
<line x1="412.80" y1="746.75" x2="415.80" y2="746.75" stroke="#1a1a1a" stroke-width="1.5"/>
<line x1="410.20" y1="741.60" x2="415.80" y2="741.60" stroke="#1a1a1a" stroke-width="1.5"/>
<text font-size="10.1" text-anchor="end" fill="#1a1a1a" stroke="#1a1a1a" stroke-width="0.22" transform="translate(403.20 745.70) scale(0.88 1)">18</text>
<line x1="412.80" y1="736.45" x2="415.80" y2="736.45" stroke="#1a1a1a" stroke-width="1.5"/>
<line x1="410.20" y1="731.30" x2="415.80" y2="731.30" stroke="#1a1a1a" stroke-width="1.5"/>
<text font-size="10.1" text-anchor="end" fill="#1a1a1a" stroke="#1a1a1a" stroke-width="0.22" transform="translate(403.20 735.40) scale(0.88 1)">19</text>
<line x1="412.80" y1="726.15" x2="415.80" y2="726.15" stroke="#1a1a1a" stroke-width="1.5"/>
<line x1="410.20" y1="721.00" x2="415.80" y2="721.00" stroke="#1a1a1a" stroke-width="1.5"/>
<text font-size="10.1" text-anchor="end" fill="#1a1a1a" stroke="#1a1a1a" stroke-width="0.22" transform="translate(403.20 725.10) scale(0.88 1)">20</text>
<line x1="412.80" y1="715.85" x2="415.80" y2="715.85" stroke="#1a1a1a" stroke-width="1.5"/>
<line x1="410.20" y1="710.70" x2="415.80" y2="710.70" stroke="#1a1a1a" stroke-width="1.5"/>
<text font-size="10.1" text-anchor="end" fill="#1a1a1a" stroke="#1a1a1a" stroke-width="0.22" transform="translate(403.20 714.80) scale(0.88 1)">21</text>
<line x1="412.80" y1="705.55" x2="415.80" y2="705.55" stroke="#1a1a1a" stroke-width="1.5"/>
<line x1="410.20" y1="700.40" x2="415.80" y2="700.40" stroke="#1a1a1a" stroke-width="1.5"/>
<text font-size="10.1" text-anchor="end" fill="#1a1a1a" stroke="#1a1a1a" stroke-width="0.22" transform="translate(403.20 704.50) scale(0.88 1)">22</text>
<line x1="412.80" y1="695.25" x2="415.80" y2="695.25" stroke="#1a1a1a" stroke-width="1.5"/>
<line x1="410.20" y1="690.10" x2="415.80" y2="690.10" stroke="#1a1a1a" stroke-width="1.5"/>
<text font-size="10.1" text-anchor="end" fill="#1a1a1a" stroke="#1a1a1a" stroke-width="0.22" transform="translate(403.20 694.20) scale(0.88 1)">23</text>
<line x1="412.80" y1="684.95" x2="415.80" y2="684.95" stroke="#1a1a1a" stroke-width="1.5"/>
<line x1="410.20" y1="679.80" x2="415.80" y2="679.80" stroke="#1a1a1a" stroke-width="1.5"/>
<text font-size="10.1" text-anchor="end" fill="#1a1a1a" stroke="#1a1a1a" stroke-width="0.22" transform="translate(403.20 683.90) scale(0.88 1)">24</text>
<text font-size="10.1" text-anchor="middle" fill="#1a1a1a" stroke="#1a1a1a" stroke-width="0.22" transform="translate(384.60 750.70) rotate(-90) scale(0.93 1)">PT (seconds)</text>
<text font-size="10.1" text-anchor="end" fill="#1a1a1a" stroke="#1a1a1a" stroke-width="0.22" transform="translate(431.20 823.00) rotate(-45) scale(0.953 1)">Pre-infusion</text>
<text font-size="10.1" text-anchor="end" fill="#1a1a1a" stroke="#1a1a1a" stroke-width="0.22" transform="translate(459.70 823.00) rotate(-45) scale(0.953 1)">Post-infusion</text>
<path d="M434.80 702.40V672.50H463.30V684.60" fill="none" stroke="#1e1e1e" stroke-width="1.2"/>
<path d="M449.05 664.65L449.05 670.15M446.67 666.02L451.43 668.77M446.67 668.77L451.43 666.02" stroke="#111" stroke-width="1.4" fill="none"/>
<circle cx="573.30" cy="694.90" r="2.9" fill="#cdd6e0" stroke="#262626" stroke-width="0.95"/>
<circle cx="574.80" cy="710.90" r="2.9" fill="#cdd6e0" stroke="#262626" stroke-width="0.95"/>
<circle cx="571.10" cy="713.10" r="2.9" fill="#cdd6e0" stroke="#262626" stroke-width="0.95"/>
<circle cx="576.60" cy="719.40" r="2.9" fill="#cdd6e0" stroke="#262626" stroke-width="0.95"/>
<circle cx="566.70" cy="724.50" r="2.9" fill="#cdd6e0" stroke="#262626" stroke-width="0.95"/>
<circle cx="573.30" cy="729.00" r="2.9" fill="#cdd6e0" stroke="#262626" stroke-width="0.95"/>
<circle cx="566.70" cy="733.40" r="2.9" fill="#cdd6e0" stroke="#262626" stroke-width="0.95"/>
<circle cx="579.70" cy="731.90" r="2.9" fill="#cdd6e0" stroke="#262626" stroke-width="0.95"/>
<circle cx="569.80" cy="735.40" r="2.9" fill="#cdd6e0" stroke="#262626" stroke-width="0.95"/>
<circle cx="576.30" cy="734.90" r="2.9" fill="#cdd6e0" stroke="#262626" stroke-width="0.95"/>
<circle cx="573.30" cy="737.30" r="2.9" fill="#cdd6e0" stroke="#262626" stroke-width="0.95"/>
<circle cx="573.30" cy="751.70" r="2.9" fill="#cdd6e0" stroke="#262626" stroke-width="0.95"/>
<circle cx="601.60" cy="692.70" r="2.9" fill="#4d83bf" stroke="#262626" stroke-width="0.95"/>
<circle cx="599.50" cy="706.00" r="2.9" fill="#4d83bf" stroke="#262626" stroke-width="0.95"/>
<circle cx="603.90" cy="711.50" r="2.9" fill="#4d83bf" stroke="#262626" stroke-width="0.95"/>
<circle cx="599.50" cy="720.80" r="2.9" fill="#4d83bf" stroke="#262626" stroke-width="0.95"/>
<circle cx="595.00" cy="727.00" r="2.9" fill="#4d83bf" stroke="#262626" stroke-width="0.95"/>
<circle cx="603.90" cy="726.30" r="2.9" fill="#4d83bf" stroke="#262626" stroke-width="0.95"/>
<circle cx="599.50" cy="731.20" r="2.9" fill="#4d83bf" stroke="#262626" stroke-width="0.95"/>
<circle cx="595.00" cy="736.90" r="2.9" fill="#4d83bf" stroke="#262626" stroke-width="0.95"/>
<circle cx="603.90" cy="736.20" r="2.9" fill="#4d83bf" stroke="#262626" stroke-width="0.95"/>
<circle cx="608.40" cy="736.20" r="2.9" fill="#4d83bf" stroke="#262626" stroke-width="0.95"/>
<circle cx="599.50" cy="742.10" r="2.9" fill="#4d83bf" stroke="#262626" stroke-width="0.95"/>
<circle cx="603.90" cy="749.20" r="2.9" fill="#4d83bf" stroke="#262626" stroke-width="0.95"/>
<circle cx="599.50" cy="753.60" r="2.9" fill="#4d83bf" stroke="#262626" stroke-width="0.95"/>
<line x1="573.10" y1="722.50" x2="573.10" y2="731.00" stroke="#1a1a1a" stroke-width="1.0"/>
<line x1="568.00" y1="722.50" x2="578.20" y2="722.50" stroke="#1a1a1a" stroke-width="1.1"/>
<line x1="568.00" y1="731.00" x2="578.20" y2="731.00" stroke="#1a1a1a" stroke-width="1.1"/>
<line x1="563.60" y1="726.70" x2="582.60" y2="726.70" stroke="#1a1a1a" stroke-width="1.7"/>
<line x1="601.60" y1="724.00" x2="601.60" y2="733.00" stroke="#1a1a1a" stroke-width="1.0"/>
<line x1="596.50" y1="724.00" x2="606.70" y2="724.00" stroke="#1a1a1a" stroke-width="1.1"/>
<line x1="596.50" y1="733.00" x2="606.70" y2="733.00" stroke="#1a1a1a" stroke-width="1.1"/>
<line x1="592.10" y1="728.50" x2="611.10" y2="728.50" stroke="#1a1a1a" stroke-width="1.7"/>
<line x1="554.10" y1="678.40" x2="554.10" y2="804.15" stroke="#1a1a1a" stroke-width="1.7"/>
<line x1="553.25" y1="803.30" x2="620.60" y2="803.30" stroke="#1a1a1a" stroke-width="1.7"/>
<line x1="573.10" y1="803.30" x2="573.10" y2="808.90" stroke="#1a1a1a" stroke-width="1.5"/>
<line x1="601.60" y1="803.30" x2="601.60" y2="808.90" stroke="#1a1a1a" stroke-width="1.5"/>
<line x1="548.50" y1="803.30" x2="554.10" y2="803.30" stroke="#1a1a1a" stroke-width="1.5"/>
<text font-size="10.1" text-anchor="end" fill="#1a1a1a" stroke="#1a1a1a" stroke-width="0.22" transform="translate(545.20 807.40) scale(0.93 1)">0</text>
<line x1="551.10" y1="792.96" x2="554.10" y2="792.96" stroke="#1a1a1a" stroke-width="1.5"/>
<line x1="548.50" y1="782.62" x2="554.10" y2="782.62" stroke="#1a1a1a" stroke-width="1.5"/>
<text font-size="10.1" text-anchor="end" fill="#1a1a1a" stroke="#1a1a1a" stroke-width="0.22" transform="translate(545.20 786.72) scale(0.93 1)">10</text>
<line x1="551.10" y1="772.27" x2="554.10" y2="772.27" stroke="#1a1a1a" stroke-width="1.5"/>
<line x1="548.50" y1="761.93" x2="554.10" y2="761.93" stroke="#1a1a1a" stroke-width="1.5"/>
<text font-size="10.1" text-anchor="end" fill="#1a1a1a" stroke="#1a1a1a" stroke-width="0.22" transform="translate(545.20 766.03) scale(0.93 1)">20</text>
<line x1="551.10" y1="751.59" x2="554.10" y2="751.59" stroke="#1a1a1a" stroke-width="1.5"/>
<line x1="548.50" y1="741.25" x2="554.10" y2="741.25" stroke="#1a1a1a" stroke-width="1.5"/>
<text font-size="10.1" text-anchor="end" fill="#1a1a1a" stroke="#1a1a1a" stroke-width="0.22" transform="translate(545.20 745.35) scale(0.93 1)">30</text>
<line x1="551.10" y1="730.91" x2="554.10" y2="730.91" stroke="#1a1a1a" stroke-width="1.5"/>
<line x1="548.50" y1="720.57" x2="554.10" y2="720.57" stroke="#1a1a1a" stroke-width="1.5"/>
<text font-size="10.1" text-anchor="end" fill="#1a1a1a" stroke="#1a1a1a" stroke-width="0.22" transform="translate(545.20 724.67) scale(0.93 1)">40</text>
<line x1="551.10" y1="710.23" x2="554.10" y2="710.23" stroke="#1a1a1a" stroke-width="1.5"/>
<line x1="548.50" y1="699.88" x2="554.10" y2="699.88" stroke="#1a1a1a" stroke-width="1.5"/>
<text font-size="10.1" text-anchor="end" fill="#1a1a1a" stroke="#1a1a1a" stroke-width="0.22" transform="translate(545.20 703.98) scale(0.93 1)">50</text>
<line x1="551.10" y1="689.54" x2="554.10" y2="689.54" stroke="#1a1a1a" stroke-width="1.5"/>
<line x1="548.50" y1="679.20" x2="554.10" y2="679.20" stroke="#1a1a1a" stroke-width="1.5"/>
<text font-size="10.1" text-anchor="end" fill="#1a1a1a" stroke="#1a1a1a" stroke-width="0.22" transform="translate(545.20 683.30) scale(0.93 1)">60</text>
<text font-size="10.1" text-anchor="middle" fill="#1a1a1a" stroke="#1a1a1a" stroke-width="0.22" transform="translate(521.80 741.00) rotate(-90) scale(0.93 1)">PTT (seconds)</text>
<text font-size="10.1" text-anchor="end" fill="#1a1a1a" stroke="#1a1a1a" stroke-width="0.22" transform="translate(569.50 822.90) rotate(-45) scale(0.953 1)">Pre-infusion</text>
<text font-size="10.1" text-anchor="end" fill="#1a1a1a" stroke="#1a1a1a" stroke-width="0.22" transform="translate(598.00 822.90) rotate(-45) scale(0.953 1)">Post-infusion</text>
<text font-size="10.1" text-anchor="middle" fill="#1a1a1a" stroke="#1a1a1a" stroke-width="0.22" transform="translate(588.25 670.00) scale(0.93 1)">ns</text>
<text font-size="11.5" text-anchor="start" font-weight="bold" fill="#1a1a1a" stroke="#1a1a1a" stroke-width="0.1" transform="translate(-0.40 8.20) scale(0.93 1)">a</text>
<text font-size="11.5" text-anchor="start" font-weight="bold" fill="#1a1a1a" stroke="#1a1a1a" stroke-width="0.1" transform="translate(283.30 7.90) scale(0.93 1)">b</text>
<text font-size="11.5" text-anchor="start" font-weight="bold" fill="#1a1a1a" stroke="#1a1a1a" stroke-width="0.1" transform="translate(428.00 7.90) scale(0.93 1)">c</text>
<text font-size="11.5" text-anchor="start" font-weight="bold" fill="#1a1a1a" stroke="#1a1a1a" stroke-width="0.1" transform="translate(567.30 7.90) scale(0.93 1)">d</text>
<text font-size="11.5" text-anchor="start" font-weight="bold" fill="#1a1a1a" stroke="#1a1a1a" stroke-width="0.1" transform="translate(284.20 225.80) scale(0.93 1)">e</text>
<text font-size="11.5" text-anchor="start" font-weight="bold" fill="#1a1a1a" stroke="#1a1a1a" stroke-width="0.1" transform="translate(284.80 442.90) scale(0.93 1)">f</text>
<text font-size="11.5" text-anchor="start" font-weight="bold" fill="#1a1a1a" stroke="#1a1a1a" stroke-width="0.1" transform="translate(356.40 670.30) scale(0.93 1)">g</text>
</svg></body></html>
